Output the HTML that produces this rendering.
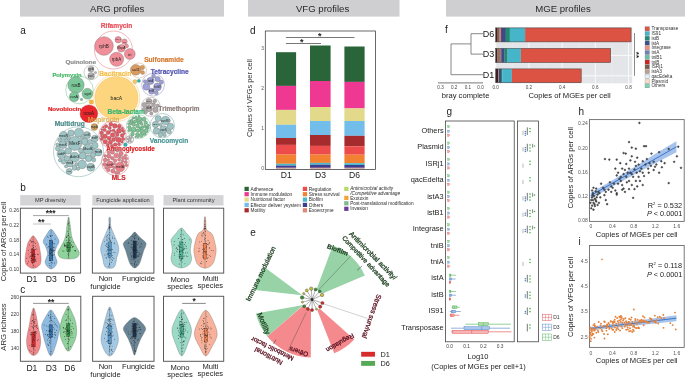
<!DOCTYPE html>
<html><head><meta charset="utf-8"><style>
html,body{margin:0;padding:0;background:#fff;}
body{width:685px;height:380px;overflow:hidden;}
svg{display:block;font-family:"Liberation Sans", sans-serif;will-change:transform;}
</style></head><body>
<svg width="685" height="380" viewBox="0 0 685 380">
<rect x="0" y="0" width="685" height="380" fill="#fff"/>
<rect x="20.00" y="0.00" width="204.00" height="16.60" fill="#cfcfd1" stroke="none" stroke-width="0"/>
<text x="117.20" y="12.00" font-size="9.6" fill="#2a2a2a" text-anchor="middle" font-weight="normal">ARG profiles</text>
<rect x="248.00" y="0.00" width="151.50" height="16.60" fill="#cfcfd1" stroke="none" stroke-width="0"/>
<text x="322.60" y="12.00" font-size="9.6" fill="#2a2a2a" text-anchor="middle" font-weight="normal">VFG profiles</text>
<rect x="446.00" y="0.00" width="239.00" height="16.60" fill="#cfcfd1" stroke="none" stroke-width="0"/>
<text x="563.00" y="12.00" font-size="9.6" fill="#2a2a2a" text-anchor="middle" font-weight="normal">MGE profiles</text>
<text x="20.30" y="34.00" font-size="10" fill="#222" text-anchor="start" font-weight="normal">a</text>
<text x="20.30" y="191.00" font-size="10" fill="#222" text-anchor="start" font-weight="normal">b</text>
<text x="20.30" y="293.00" font-size="10" fill="#222" text-anchor="start" font-weight="normal">c</text>
<text x="250.00" y="34.00" font-size="10" fill="#222" text-anchor="start" font-weight="normal">d</text>
<text x="250.30" y="236.00" font-size="10" fill="#222" text-anchor="start" font-weight="normal">e</text>
<text x="445.00" y="33.00" font-size="10" fill="#222" text-anchor="start" font-weight="normal">f</text>
<text x="446.50" y="114.80" font-size="10" fill="#222" text-anchor="start" font-weight="normal">g</text>
<text x="578.50" y="115.30" font-size="10" fill="#222" text-anchor="start" font-weight="normal">h</text>
<text x="578.60" y="245.20" font-size="10" fill="#222" text-anchor="start" font-weight="normal">i</text>
<circle cx="113.50" cy="50.00" r="19.00" fill="none" stroke="#e8707a" stroke-width="0.5"/>
<circle cx="104.00" cy="46.00" r="9.30" fill="#f08f99" stroke="#9a7a7e" stroke-width="0.5"/>
<circle cx="116.60" cy="59.30" r="7.00" fill="#f08f99" stroke="#9a7a7e" stroke-width="0.5"/>
<circle cx="129.80" cy="54.00" r="5.40" fill="#f08f99" stroke="#9a7a7e" stroke-width="0.5"/>
<circle cx="118.20" cy="39.70" r="3.20" fill="#f08f99" stroke="#9a7a7e" stroke-width="0.5"/>
<circle cx="124.50" cy="41.60" r="2.70" fill="#f08f99" stroke="#9a7a7e" stroke-width="0.5"/>
<circle cx="121.30" cy="48.30" r="3.80" fill="#f08f99" stroke="#9a7a7e" stroke-width="0.5"/>
<circle cx="126.60" cy="46.00" r="1.90" fill="#f08f99" stroke="#9a7a7e" stroke-width="0.5"/>
<text x="116.60" y="28.30" font-size="6.6" fill="#e8505b" text-anchor="middle" font-weight="bold" stroke="#e8505b" stroke-width="0.2">Rifamycin</text>
<circle cx="91.30" cy="72.40" r="7.30" fill="none" stroke="#999" stroke-width="0.45"/>
<circle cx="91.00" cy="69.20" r="3.00" fill="#b5b5b5" stroke="#777" stroke-width="0.3"/>
<circle cx="91.20" cy="76.00" r="3.40" fill="#b5b5b5" stroke="#777" stroke-width="0.3"/>
<circle cx="95.50" cy="72.60" r="1.20" fill="#b5b5b5" stroke="#777" stroke-width="0.3"/>
<text x="80.80" y="64.00" font-size="6.2" fill="#8c8c8c" text-anchor="middle" font-weight="bold" stroke="#8c8c8c" stroke-width="0.2">Quinolone</text>
<circle cx="79.50" cy="90.00" r="13.80" fill="none" stroke="#6cc08a" stroke-width="0.5"/>
<circle cx="76.00" cy="85.00" r="8.20" fill="#7cc79a" stroke="#6f6f6f" stroke-width="0.35"/>
<circle cx="87.40" cy="93.70" r="5.40" fill="#7cc79a" stroke="#6f6f6f" stroke-width="0.35"/>
<circle cx="74.20" cy="96.80" r="4.90" fill="#7cc79a" stroke="#6f6f6f" stroke-width="0.35"/>
<circle cx="81.50" cy="99.50" r="1.20" fill="#7cc79a" stroke="#6f6f6f" stroke-width="0.35"/>
<text x="67.00" y="76.80" font-size="5.85" fill="#44b866" text-anchor="middle" font-weight="bold" stroke="#44b866" stroke-width="0.2">Polymyxin</text>
<circle cx="116.40" cy="98.00" r="23.40" fill="none" stroke="#f2c76a" stroke-width="0.5"/>
<circle cx="116.40" cy="98.00" r="21.60" fill="#fdd57e" stroke="#e8b450" stroke-width="0.4"/>
<circle cx="91.30" cy="102.00" r="2.20" fill="#f5b942" stroke="#c89030" stroke-width="0.3"/>
<circle cx="135.00" cy="81.60" r="2.00" fill="#f5c860" stroke="#a88040" stroke-width="0.3"/>
<text x="115.30" y="76.40" font-size="6.6" fill="#f3c04a" text-anchor="middle" font-weight="bold" stroke="#f3c04a" stroke-width="0.2">Bacitracin</text>
<circle cx="139.00" cy="70.50" r="7.60" fill="none" stroke="#d59a66" stroke-width="0.45"/>
<circle cx="135.80" cy="69.80" r="5.40" fill="#d99a60" stroke="#7a6a5a" stroke-width="0.35"/>
<circle cx="142.40" cy="67.50" r="2.20" fill="#d99a60" stroke="#7a6a5a" stroke-width="0.3"/>
<circle cx="142.60" cy="72.60" r="2.00" fill="#d99a60" stroke="#7a6a5a" stroke-width="0.3"/>
<text x="144.20" y="62.00" font-size="6.6" fill="#d67a30" text-anchor="start" font-weight="bold" stroke="#d67a30" stroke-width="0.2">Sulfonamide</text>
<circle cx="138.90" cy="80.80" r="1.60" fill="#2fb0b5" stroke="#2a8080" stroke-width="0.3"/>
<circle cx="153.10" cy="84.70" r="11.40" fill="none" stroke="#8a8ad0" stroke-width="0.5"/>
<circle cx="150.50" cy="80.80" r="3.60" fill="#9ea1da" stroke="#6f6f6f" stroke-width="0.4"/>
<circle cx="157.50" cy="86.80" r="3.90" fill="#9ea1da" stroke="#6f6f6f" stroke-width="0.4"/>
<circle cx="151.50" cy="91.20" r="3.00" fill="#9ea1da" stroke="#6f6f6f" stroke-width="0.4"/>
<circle cx="146.42" cy="86.75" r="3.44" fill="#9ea1da" stroke="#6f6f6f" stroke-width="0.4"/>
<circle cx="157.58" cy="79.05" r="2.67" fill="#9ea1da" stroke="#6f6f6f" stroke-width="0.4"/>
<circle cx="161.39" cy="82.14" r="2.02" fill="#9ea1da" stroke="#6f6f6f" stroke-width="0.4"/>
<circle cx="156.31" cy="92.81" r="1.97" fill="#9ea1da" stroke="#6f6f6f" stroke-width="0.4"/>
<circle cx="153.55" cy="75.95" r="1.94" fill="#9ea1da" stroke="#6f6f6f" stroke-width="0.4"/>
<circle cx="145.08" cy="81.44" r="1.76" fill="#9ea1da" stroke="#6f6f6f" stroke-width="0.4"/>
<text x="150.70" y="73.60" font-size="6.6" fill="#5254b2" text-anchor="start" font-weight="bold" stroke="#5254b2" stroke-width="0.2">Tetracycline</text>
<circle cx="150.70" cy="106.80" r="9.60" fill="none" stroke="#a09a9a" stroke-width="0.5"/>
<circle cx="149.00" cy="101.50" r="3.00" fill="#b2a9a8" stroke="#6f6f6f" stroke-width="0.4"/>
<circle cx="149.00" cy="108.50" r="3.20" fill="#b2a9a8" stroke="#6f6f6f" stroke-width="0.4"/>
<circle cx="153.50" cy="104.80" r="2.00" fill="#b2a9a8" stroke="#6f6f6f" stroke-width="0.4"/>
<circle cx="155.41" cy="109.84" r="2.77" fill="#b2a9a8" stroke="#6f6f6f" stroke-width="0.4"/>
<circle cx="144.50" cy="104.90" r="2.40" fill="#b2a9a8" stroke="#6f6f6f" stroke-width="0.4"/>
<circle cx="151.32" cy="113.44" r="1.62" fill="#b2a9a8" stroke="#6f6f6f" stroke-width="0.4"/>
<circle cx="154.74" cy="101.02" r="1.85" fill="#b2a9a8" stroke="#6f6f6f" stroke-width="0.4"/>
<circle cx="157.69" cy="105.68" r="1.69" fill="#b2a9a8" stroke="#6f6f6f" stroke-width="0.4"/>
<circle cx="143.92" cy="109.19" r="1.71" fill="#b2a9a8" stroke="#6f6f6f" stroke-width="0.4"/>
<circle cx="145.83" cy="112.24" r="1.60" fill="#b2a9a8" stroke="#6f6f6f" stroke-width="0.4"/>
<text x="158.60" y="111.30" font-size="6.4" fill="#8d7e7b" text-anchor="start" font-weight="bold" stroke="#8d7e7b" stroke-width="0.2">Trimethoprim</text>
<circle cx="88.90" cy="113.70" r="8.80" fill="#e8262b" stroke="#b02020" stroke-width="0.4"/>
<text x="64.60" y="110.90" font-size="6.15" fill="#e01f22" text-anchor="middle" font-weight="bold" stroke="#e01f22" stroke-width="0.2">Novobiocin</text>
<circle cx="138.30" cy="126.60" r="12.00" fill="none" stroke="#6cc08a" stroke-width="0.5"/>
<circle cx="133.50" cy="129.50" r="2.60" fill="#7cc696" stroke="#4f7a5c" stroke-width="0.45"/>
<circle cx="141.56" cy="123.84" r="1.52" fill="#7cc696" stroke="#4f7a5c" stroke-width="0.45"/>
<circle cx="141.80" cy="131.00" r="2.13" fill="#7cc696" stroke="#4f7a5c" stroke-width="0.45"/>
<circle cx="135.13" cy="121.53" r="1.55" fill="#7cc696" stroke="#4f7a5c" stroke-width="0.45"/>
<circle cx="145.94" cy="127.03" r="1.31" fill="#7cc696" stroke="#4f7a5c" stroke-width="0.45"/>
<circle cx="137.27" cy="134.36" r="1.71" fill="#7cc696" stroke="#4f7a5c" stroke-width="0.45"/>
<circle cx="139.92" cy="118.84" r="1.89" fill="#7cc696" stroke="#4f7a5c" stroke-width="0.45"/>
<circle cx="130.70" cy="123.70" r="1.35" fill="#7cc696" stroke="#4f7a5c" stroke-width="0.45"/>
<circle cx="145.87" cy="122.69" r="1.65" fill="#7cc696" stroke="#4f7a5c" stroke-width="0.45"/>
<circle cx="137.55" cy="125.88" r="1.87" fill="#7cc696" stroke="#4f7a5c" stroke-width="0.45"/>
<circle cx="146.19" cy="130.64" r="2.09" fill="#7cc696" stroke="#4f7a5c" stroke-width="0.45"/>
<circle cx="129.31" cy="127.13" r="1.69" fill="#7cc696" stroke="#4f7a5c" stroke-width="0.45"/>
<circle cx="141.17" cy="135.32" r="2.12" fill="#7cc696" stroke="#4f7a5c" stroke-width="0.45"/>
<circle cx="135.97" cy="117.84" r="1.51" fill="#7cc696" stroke="#4f7a5c" stroke-width="0.45"/>
<circle cx="143.94" cy="119.30" r="2.05" fill="#7cc696" stroke="#4f7a5c" stroke-width="0.45"/>
<circle cx="131.72" cy="120.23" r="1.30" fill="#7cc696" stroke="#4f7a5c" stroke-width="0.45"/>
<circle cx="132.49" cy="134.05" r="1.85" fill="#7cc696" stroke="#4f7a5c" stroke-width="0.45"/>
<circle cx="137.83" cy="130.61" r="1.76" fill="#7cc696" stroke="#4f7a5c" stroke-width="0.45"/>
<circle cx="142.69" cy="127.13" r="1.41" fill="#7cc696" stroke="#4f7a5c" stroke-width="0.45"/>
<circle cx="133.76" cy="124.59" r="1.70" fill="#7cc696" stroke="#4f7a5c" stroke-width="0.45"/>
<circle cx="138.54" cy="122.45" r="1.60" fill="#7cc696" stroke="#4f7a5c" stroke-width="0.45"/>
<circle cx="129.40" cy="130.45" r="1.36" fill="#7cc696" stroke="#4f7a5c" stroke-width="0.45"/>
<circle cx="144.80" cy="134.04" r="1.42" fill="#7cc696" stroke="#4f7a5c" stroke-width="0.45"/>
<circle cx="148.17" cy="125.53" r="1.28" fill="#7cc696" stroke="#4f7a5c" stroke-width="0.45"/>
<circle cx="140.09" cy="127.95" r="1.22" fill="#7cc696" stroke="#4f7a5c" stroke-width="0.45"/>
<circle cx="133.32" cy="117.92" r="1.05" fill="#7cc696" stroke="#4f7a5c" stroke-width="0.45"/>
<circle cx="148.23" cy="127.91" r="1.00" fill="#7cc696" stroke="#4f7a5c" stroke-width="0.45"/>
<circle cx="129.62" cy="121.38" r="1.00" fill="#7cc696" stroke="#4f7a5c" stroke-width="0.45"/>
<circle cx="137.28" cy="119.96" r="0.87" fill="#7cc696" stroke="#4f7a5c" stroke-width="0.45"/>
<circle cx="138.83" cy="116.21" r="0.86" fill="#7cc696" stroke="#4f7a5c" stroke-width="0.45"/>
<circle cx="138.00" cy="137.05" r="0.84" fill="#7cc696" stroke="#4f7a5c" stroke-width="0.45"/>
<circle cx="135.73" cy="136.74" r="0.84" fill="#7cc696" stroke="#4f7a5c" stroke-width="0.45"/>
<circle cx="128.42" cy="123.77" r="0.83" fill="#7cc696" stroke="#4f7a5c" stroke-width="0.45"/>
<circle cx="144.63" cy="125.22" r="0.82" fill="#7cc696" stroke="#4f7a5c" stroke-width="0.45"/>
<circle cx="132.73" cy="122.21" r="0.80" fill="#7cc696" stroke="#4f7a5c" stroke-width="0.45"/>
<circle cx="141.11" cy="121.47" r="0.80" fill="#7cc696" stroke="#4f7a5c" stroke-width="0.45"/>
<text x="126.20" y="114.20" font-size="6.6" fill="#36b572" text-anchor="middle" font-weight="bold" stroke="#36b572" stroke-width="0.2">Beta-lactam</text>
<circle cx="162.30" cy="125.70" r="12.20" fill="none" stroke="#6aa5a5" stroke-width="0.5"/>
<circle cx="165.50" cy="120.50" r="4.30" fill="#9ec5c5" stroke="#6f6f6f" stroke-width="0.4"/>
<circle cx="163.50" cy="129.50" r="3.80" fill="#9ec5c5" stroke="#6f6f6f" stroke-width="0.4"/>
<circle cx="155.50" cy="124.50" r="3.20" fill="#9ec5c5" stroke="#6f6f6f" stroke-width="0.4"/>
<circle cx="170.32" cy="126.47" r="3.28" fill="#9ec5c5" stroke="#6f6f6f" stroke-width="0.4"/>
<circle cx="156.42" cy="130.97" r="3.24" fill="#9ec5c5" stroke="#6f6f6f" stroke-width="0.4"/>
<circle cx="158.18" cy="118.60" r="3.02" fill="#9ec5c5" stroke="#6f6f6f" stroke-width="0.4"/>
<circle cx="160.47" cy="134.80" r="2.21" fill="#9ec5c5" stroke="#6f6f6f" stroke-width="0.4"/>
<circle cx="169.25" cy="131.96" r="2.14" fill="#9ec5c5" stroke="#6f6f6f" stroke-width="0.4"/>
<circle cx="164.58" cy="135.01" r="1.71" fill="#9ec5c5" stroke="#6f6f6f" stroke-width="0.4"/>
<circle cx="160.50" cy="124.61" r="1.70" fill="#9ec5c5" stroke="#6f6f6f" stroke-width="0.4"/>
<text x="169.00" y="143.40" font-size="6.6" fill="#4b9696" text-anchor="middle" font-weight="bold" stroke="#4b9696" stroke-width="0.2">Vancomycin</text>
<circle cx="78.50" cy="151.70" r="25.00" fill="none" stroke="#7aa8a8" stroke-width="0.5"/>
<circle cx="74.80" cy="143.40" r="7.00" fill="#9ec5c5" stroke="#6f6f6f" stroke-width="0.4"/>
<circle cx="63.60" cy="135.60" r="4.20" fill="#9ec5c5" stroke="#6f6f6f" stroke-width="0.4"/>
<circle cx="63.00" cy="144.60" r="4.00" fill="#9ec5c5" stroke="#6f6f6f" stroke-width="0.4"/>
<circle cx="61.60" cy="154.00" r="4.50" fill="#9ec5c5" stroke="#6f6f6f" stroke-width="0.4"/>
<circle cx="74.60" cy="157.20" r="5.00" fill="#9ec5c5" stroke="#6f6f6f" stroke-width="0.4"/>
<circle cx="87.90" cy="149.20" r="5.00" fill="#9ec5c5" stroke="#6f6f6f" stroke-width="0.4"/>
<circle cx="98.40" cy="152.40" r="3.60" fill="#9ec5c5" stroke="#6f6f6f" stroke-width="0.4"/>
<circle cx="87.00" cy="135.20" r="3.60" fill="#9ec5c5" stroke="#6f6f6f" stroke-width="0.4"/>
<circle cx="94.80" cy="138.60" r="3.40" fill="#9ec5c5" stroke="#6f6f6f" stroke-width="0.4"/>
<circle cx="90.80" cy="167.20" r="4.00" fill="#9ec5c5" stroke="#6f6f6f" stroke-width="0.4"/>
<circle cx="69.20" cy="171.40" r="3.00" fill="#9ec5c5" stroke="#6f6f6f" stroke-width="0.4"/>
<circle cx="69.80" cy="163.60" r="3.40" fill="#9ec5c5" stroke="#6f6f6f" stroke-width="0.4"/>
<circle cx="88.60" cy="158.40" r="3.30" fill="#9ec5c5" stroke="#6f6f6f" stroke-width="0.4"/>
<circle cx="82.11" cy="164.40" r="4.33" fill="#9ec5c5" stroke="#6f6f6f" stroke-width="0.4"/>
<circle cx="78.92" cy="132.65" r="4.51" fill="#9ec5c5" stroke="#6f6f6f" stroke-width="0.4"/>
<circle cx="71.03" cy="133.08" r="3.18" fill="#9ec5c5" stroke="#6f6f6f" stroke-width="0.4"/>
<circle cx="82.67" cy="155.71" r="3.55" fill="#9ec5c5" stroke="#6f6f6f" stroke-width="0.4"/>
<circle cx="63.50" cy="161.77" r="2.43" fill="#9ec5c5" stroke="#6f6f6f" stroke-width="0.4"/>
<circle cx="84.63" cy="141.39" r="3.37" fill="#9ec5c5" stroke="#6f6f6f" stroke-width="0.4"/>
<circle cx="94.88" cy="145.42" r="3.22" fill="#9ec5c5" stroke="#6f6f6f" stroke-width="0.4"/>
<circle cx="68.32" cy="150.95" r="3.23" fill="#9ec5c5" stroke="#6f6f6f" stroke-width="0.4"/>
<circle cx="74.51" cy="167.73" r="2.51" fill="#9ec5c5" stroke="#6f6f6f" stroke-width="0.4"/>
<circle cx="66.97" cy="158.41" r="2.75" fill="#9ec5c5" stroke="#6f6f6f" stroke-width="0.4"/>
<circle cx="92.99" cy="154.97" r="2.62" fill="#9ec5c5" stroke="#6f6f6f" stroke-width="0.4"/>
<circle cx="57.82" cy="148.59" r="2.44" fill="#9ec5c5" stroke="#6f6f6f" stroke-width="0.4"/>
<circle cx="90.02" cy="141.78" r="2.38" fill="#9ec5c5" stroke="#6f6f6f" stroke-width="0.4"/>
<circle cx="80.68" cy="150.53" r="2.35" fill="#9ec5c5" stroke="#6f6f6f" stroke-width="0.4"/>
<circle cx="93.68" cy="159.96" r="2.11" fill="#9ec5c5" stroke="#6f6f6f" stroke-width="0.4"/>
<circle cx="59.65" cy="139.88" r="1.97" fill="#9ec5c5" stroke="#6f6f6f" stroke-width="0.4"/>
<circle cx="66.56" cy="140.43" r="1.81" fill="#9ec5c5" stroke="#6f6f6f" stroke-width="0.4"/>
<circle cx="60.08" cy="160.22" r="1.68" fill="#9ec5c5" stroke="#6f6f6f" stroke-width="0.4"/>
<circle cx="76.46" cy="164.27" r="1.68" fill="#9ec5c5" stroke="#6f6f6f" stroke-width="0.4"/>
<circle cx="68.80" cy="137.64" r="1.67" fill="#9ec5c5" stroke="#6f6f6f" stroke-width="0.4"/>
<circle cx="57.44" cy="144.66" r="1.65" fill="#9ec5c5" stroke="#6f6f6f" stroke-width="0.4"/>
<circle cx="81.98" cy="137.58" r="1.61" fill="#9ec5c5" stroke="#6f6f6f" stroke-width="0.4"/>
<circle cx="78.09" cy="168.84" r="1.59" fill="#9ec5c5" stroke="#6f6f6f" stroke-width="0.4"/>
<circle cx="66.08" cy="166.37" r="1.59" fill="#9ec5c5" stroke="#6f6f6f" stroke-width="0.4"/>
<circle cx="93.98" cy="150.25" r="1.52" fill="#9ec5c5" stroke="#6f6f6f" stroke-width="0.4"/>
<text x="69.80" y="125.60" font-size="6.6" fill="#4b8a8a" text-anchor="middle" font-weight="bold" stroke="#4b8a8a" stroke-width="0.2">Multidrug</text>
<circle cx="94.40" cy="127.00" r="3.40" fill="#c8a060" stroke="#8a7050" stroke-width="0.3"/>
<text x="87.70" y="122.40" font-size="6.6" fill="#d8a848" text-anchor="start" font-weight="bold" opacity="0.85" stroke="#d8a848" stroke-width="0.2">Mupirocin</text>
<circle cx="112.50" cy="134.90" r="13.60" fill="none" stroke="#e05a64" stroke-width="0.5"/>
<circle cx="112.60" cy="135.02" r="2.30" fill="#e65a64" stroke="#8a4a4e" stroke-width="0.4"/>
<circle cx="109.64" cy="127.88" r="1.70" fill="#e65a64" stroke="#8a4a4e" stroke-width="0.4"/>
<circle cx="105.01" cy="136.23" r="2.34" fill="#e65a64" stroke="#8a4a4e" stroke-width="0.4"/>
<circle cx="119.00" cy="130.80" r="2.50" fill="#e65a64" stroke="#8a4a4e" stroke-width="0.4"/>
<circle cx="110.42" cy="142.31" r="2.11" fill="#e65a64" stroke="#8a4a4e" stroke-width="0.4"/>
<circle cx="118.55" cy="139.76" r="2.62" fill="#e65a64" stroke="#8a4a4e" stroke-width="0.4"/>
<circle cx="114.87" cy="125.98" r="2.36" fill="#e65a64" stroke="#8a4a4e" stroke-width="0.4"/>
<circle cx="104.64" cy="129.99" r="1.62" fill="#e65a64" stroke="#8a4a4e" stroke-width="0.4"/>
<circle cx="105.28" cy="141.71" r="2.31" fill="#e65a64" stroke="#8a4a4e" stroke-width="0.4"/>
<circle cx="122.13" cy="135.39" r="1.87" fill="#e65a64" stroke="#8a4a4e" stroke-width="0.4"/>
<circle cx="115.29" cy="144.50" r="1.85" fill="#e65a64" stroke="#8a4a4e" stroke-width="0.4"/>
<circle cx="108.22" cy="132.48" r="2.10" fill="#e65a64" stroke="#8a4a4e" stroke-width="0.4"/>
<circle cx="113.55" cy="130.42" r="1.45" fill="#e65a64" stroke="#8a4a4e" stroke-width="0.4"/>
<circle cx="106.05" cy="126.20" r="1.69" fill="#e65a64" stroke="#8a4a4e" stroke-width="0.4"/>
<circle cx="109.19" cy="138.24" r="2.04" fill="#e65a64" stroke="#8a4a4e" stroke-width="0.4"/>
<circle cx="110.83" cy="124.21" r="1.95" fill="#e65a64" stroke="#8a4a4e" stroke-width="0.4"/>
<circle cx="113.62" cy="139.66" r="1.94" fill="#e65a64" stroke="#8a4a4e" stroke-width="0.4"/>
<circle cx="119.24" cy="126.29" r="1.92" fill="#e65a64" stroke="#8a4a4e" stroke-width="0.4"/>
<circle cx="101.68" cy="132.96" r="1.87" fill="#e65a64" stroke="#8a4a4e" stroke-width="0.4"/>
<circle cx="117.30" cy="134.82" r="1.76" fill="#e65a64" stroke="#8a4a4e" stroke-width="0.4"/>
<circle cx="112.04" cy="146.04" r="1.64" fill="#e65a64" stroke="#8a4a4e" stroke-width="0.4"/>
<circle cx="107.78" cy="145.09" r="1.47" fill="#e65a64" stroke="#8a4a4e" stroke-width="0.4"/>
<circle cx="123.04" cy="138.93" r="1.62" fill="#e65a64" stroke="#8a4a4e" stroke-width="0.4"/>
<circle cx="101.89" cy="138.87" r="1.57" fill="#e65a64" stroke="#8a4a4e" stroke-width="0.4"/>
<circle cx="119.04" cy="144.24" r="1.45" fill="#e65a64" stroke="#8a4a4e" stroke-width="0.4"/>
<circle cx="123.22" cy="130.92" r="1.46" fill="#e65a64" stroke="#8a4a4e" stroke-width="0.4"/>
<circle cx="121.85" cy="141.90" r="1.22" fill="#e65a64" stroke="#8a4a4e" stroke-width="0.4"/>
<circle cx="115.42" cy="132.44" r="1.17" fill="#e65a64" stroke="#8a4a4e" stroke-width="0.4"/>
<circle cx="122.28" cy="128.41" r="1.12" fill="#e65a64" stroke="#8a4a4e" stroke-width="0.4"/>
<circle cx="101.51" cy="136.03" r="1.06" fill="#e65a64" stroke="#8a4a4e" stroke-width="0.4"/>
<circle cx="115.66" cy="137.39" r="1.01" fill="#e65a64" stroke="#8a4a4e" stroke-width="0.4"/>
<circle cx="101.96" cy="129.59" r="0.99" fill="#e65a64" stroke="#8a4a4e" stroke-width="0.4"/>
<circle cx="124.29" cy="133.42" r="0.96" fill="#e65a64" stroke="#8a4a4e" stroke-width="0.4"/>
<circle cx="110.81" cy="130.69" r="0.94" fill="#e65a64" stroke="#8a4a4e" stroke-width="0.4"/>
<circle cx="103.32" cy="127.19" r="0.91" fill="#e65a64" stroke="#8a4a4e" stroke-width="0.4"/>
<circle cx="129.70" cy="139.50" r="3.80" fill="none" stroke="#999" stroke-width="0.4"/>
<circle cx="129.70" cy="139.50" r="3.80" fill="none" stroke="#999" stroke-width="0.5"/>
<circle cx="129.72" cy="139.50" r="1.46" fill="#b5b5b5" stroke="#6f6f6f" stroke-width="0.4"/>
<circle cx="127.41" cy="138.89" r="0.73" fill="#b5b5b5" stroke="#6f6f6f" stroke-width="0.4"/>
<circle cx="128.42" cy="141.49" r="0.72" fill="#b5b5b5" stroke="#6f6f6f" stroke-width="0.4"/>
<circle cx="131.33" cy="137.75" r="0.71" fill="#b5b5b5" stroke="#6f6f6f" stroke-width="0.4"/>
<circle cx="129.37" cy="137.15" r="0.71" fill="#b5b5b5" stroke="#6f6f6f" stroke-width="0.4"/>
<circle cx="130.89" cy="141.56" r="0.71" fill="#b5b5b5" stroke="#6f6f6f" stroke-width="0.4"/>
<circle cx="125.40" cy="144.70" r="1.90" fill="#2fb0b5" stroke="#2a8080" stroke-width="0.3"/>
<text x="130.50" y="150.60" font-size="6.3" fill="#e01f22" text-anchor="middle" font-weight="bold" stroke="#e01f22" stroke-width="0.2">Aminoglycoside</text>
<circle cx="115.30" cy="161.60" r="13.80" fill="none" stroke="#d86a72" stroke-width="0.5"/>
<circle cx="120.00" cy="167.00" r="4.80" fill="#e8808a" stroke="#8a5a5e" stroke-width="0.4"/>
<circle cx="110.00" cy="164.50" r="3.50" fill="#e8808a" stroke="#8a5a5e" stroke-width="0.4"/>
<circle cx="116.28" cy="155.60" r="2.44" fill="#e8808a" stroke="#8a5a5e" stroke-width="0.4"/>
<circle cx="108.89" cy="156.17" r="2.15" fill="#e8808a" stroke="#8a5a5e" stroke-width="0.4"/>
<circle cx="123.09" cy="157.97" r="1.76" fill="#e8808a" stroke="#8a5a5e" stroke-width="0.4"/>
<circle cx="112.83" cy="171.06" r="2.14" fill="#e8808a" stroke="#8a5a5e" stroke-width="0.4"/>
<circle cx="105.25" cy="160.03" r="2.00" fill="#e8808a" stroke="#8a5a5e" stroke-width="0.4"/>
<circle cx="115.09" cy="160.80" r="1.80" fill="#e8808a" stroke="#8a5a5e" stroke-width="0.4"/>
<circle cx="112.34" cy="152.15" r="2.11" fill="#e8808a" stroke="#8a5a5e" stroke-width="0.4"/>
<circle cx="121.05" cy="153.53" r="2.17" fill="#e8808a" stroke="#8a5a5e" stroke-width="0.4"/>
<circle cx="125.76" cy="162.11" r="1.68" fill="#e8808a" stroke="#8a5a5e" stroke-width="0.4"/>
<circle cx="119.17" cy="159.55" r="1.62" fill="#e8808a" stroke="#8a5a5e" stroke-width="0.4"/>
<circle cx="117.24" cy="150.86" r="1.44" fill="#e8808a" stroke="#8a5a5e" stroke-width="0.4"/>
<circle cx="108.24" cy="169.84" r="1.87" fill="#e8808a" stroke="#8a5a5e" stroke-width="0.4"/>
<circle cx="104.48" cy="164.39" r="1.83" fill="#e8808a" stroke="#8a5a5e" stroke-width="0.4"/>
<circle cx="112.35" cy="158.22" r="1.77" fill="#e8808a" stroke="#8a5a5e" stroke-width="0.4"/>
<circle cx="116.24" cy="172.90" r="1.62" fill="#e8808a" stroke="#8a5a5e" stroke-width="0.4"/>
<circle cx="108.45" cy="152.49" r="1.46" fill="#e8808a" stroke="#8a5a5e" stroke-width="0.4"/>
<circle cx="126.29" cy="158.62" r="1.41" fill="#e8808a" stroke="#8a5a5e" stroke-width="0.4"/>
<circle cx="105.24" cy="155.98" r="1.40" fill="#e8808a" stroke="#8a5a5e" stroke-width="0.4"/>
<circle cx="122.44" cy="161.24" r="1.36" fill="#e8808a" stroke="#8a5a5e" stroke-width="0.4"/>
<circle cx="126.45" cy="165.36" r="1.33" fill="#e8808a" stroke="#8a5a5e" stroke-width="0.4"/>
<circle cx="125.41" cy="155.53" r="1.31" fill="#e8808a" stroke="#8a5a5e" stroke-width="0.4"/>
<circle cx="105.88" cy="167.64" r="1.26" fill="#e8808a" stroke="#8a5a5e" stroke-width="0.4"/>
<circle cx="113.89" cy="167.58" r="1.23" fill="#e8808a" stroke="#8a5a5e" stroke-width="0.4"/>
<circle cx="119.87" cy="156.76" r="1.16" fill="#e8808a" stroke="#8a5a5e" stroke-width="0.4"/>
<circle cx="108.49" cy="159.81" r="1.15" fill="#e8808a" stroke="#8a5a5e" stroke-width="0.4"/>
<circle cx="114.87" cy="149.64" r="1.13" fill="#e8808a" stroke="#8a5a5e" stroke-width="0.4"/>
<circle cx="114.57" cy="163.90" r="1.01" fill="#e8808a" stroke="#8a5a5e" stroke-width="0.4"/>
<circle cx="118.95" cy="173.12" r="1.00" fill="#e8808a" stroke="#8a5a5e" stroke-width="0.4"/>
<circle cx="119.84" cy="150.35" r="0.97" fill="#e8808a" stroke="#8a5a5e" stroke-width="0.4"/>
<text x="118.60" y="180.20" font-size="6.6" fill="#d02a30" text-anchor="middle" font-weight="bold" stroke="#d02a30" stroke-width="0.2">MLS</text>
<text x="104.00" y="46.20" font-size="4.70" fill="#1e1e1e" text-anchor="middle" dominant-baseline="central">rphB</text>
<text x="116.60" y="59.60" font-size="4.48" fill="#1e1e1e" text-anchor="middle" dominant-baseline="central">rpbA</text>
<text x="129.80" y="54.20" font-size="4.26" fill="#1e1e1e" text-anchor="middle" dominant-baseline="central">iri</text>
<text x="121.30" y="48.40" font-size="3.36" fill="#1e1e1e" text-anchor="middle" dominant-baseline="central">RbpA</text>
<text x="118.20" y="39.80" font-size="2.46" fill="#1e1e1e" text-anchor="middle" dominant-baseline="central">arr-1</text>
<text x="124.50" y="41.70" font-size="2.02" fill="#1e1e1e" text-anchor="middle" dominant-baseline="central">arr</text>
<text x="135.80" y="69.90" font-size="4.26" fill="#1e1e1e" text-anchor="middle" dominant-baseline="central">sul1</text>
<text x="116.40" y="98.20" font-size="5.15" fill="#1e1e1e" text-anchor="middle" dominant-baseline="central">bacA</text>
<text x="88.90" y="113.80" font-size="4.70" fill="#1e1e1e" text-anchor="middle" dominant-baseline="central">novA</text>
<text x="76.00" y="85.20" font-size="4.48" fill="#1e1e1e" text-anchor="middle" dominant-baseline="central">rosB</text>
<text x="87.40" y="93.90" font-size="4.03" fill="#1e1e1e" text-anchor="middle" dominant-baseline="central">sgd</text>
<text x="74.20" y="97.00" font-size="3.81" fill="#1e1e1e" text-anchor="middle" dominant-baseline="central">rosA</text>
<text x="91.00" y="69.30" font-size="2.69" fill="#1e1e1e" text-anchor="middle" dominant-baseline="central">gyrA</text>
<text x="91.20" y="76.10" font-size="2.91" fill="#1e1e1e" text-anchor="middle" dominant-baseline="central">parC</text>
<text x="74.80" y="143.50" font-size="4.48" fill="#1e1e1e" text-anchor="middle" dominant-baseline="central">MexF</text>
<text x="63.60" y="135.70" font-size="3.14" fill="#1e1e1e" text-anchor="middle" dominant-baseline="central">mexW</text>
<text x="63.00" y="144.70" font-size="3.02" fill="#1e1e1e" text-anchor="middle" dominant-baseline="central">mexK</text>
<text x="61.60" y="154.10" font-size="3.25" fill="#1e1e1e" text-anchor="middle" dominant-baseline="central">adeF</text>
<text x="74.60" y="157.30" font-size="3.58" fill="#1e1e1e" text-anchor="middle" dominant-baseline="central">AdeG</text>
<text x="87.90" y="149.30" font-size="3.58" fill="#1e1e1e" text-anchor="middle" dominant-baseline="central">MuxB</text>
<text x="98.40" y="152.50" font-size="2.69" fill="#1e1e1e" text-anchor="middle" dominant-baseline="central">mexB</text>
<text x="87.00" y="135.30" font-size="2.58" fill="#1e1e1e" text-anchor="middle" dominant-baseline="central">acrB</text>
<text x="94.80" y="138.70" font-size="2.58" fill="#1e1e1e" text-anchor="middle" dominant-baseline="central">mdtF</text>
<text x="90.80" y="167.30" font-size="3.36" fill="#1e1e1e" text-anchor="middle" dominant-baseline="central">oqxB</text>
<text x="69.20" y="171.50" font-size="2.46" fill="#1e1e1e" text-anchor="middle" dominant-baseline="central">tolC</text>
<text x="69.80" y="163.70" font-size="2.69" fill="#1e1e1e" text-anchor="middle" dominant-baseline="central">mexA</text>
<text x="94.40" y="127.10" font-size="2.69" fill="#1e1e1e" text-anchor="middle" dominant-baseline="central">mupA</text>
<text x="120.00" y="167.10" font-size="3.58" fill="#1e1e1e" text-anchor="middle" dominant-baseline="central">mefA</text>
<text x="110.00" y="164.60" font-size="2.91" fill="#1e1e1e" text-anchor="middle" dominant-baseline="central">ermF</text>
<text x="150.50" y="80.90" font-size="2.91" fill="#1e1e1e" text-anchor="middle" dominant-baseline="central">tetA</text>
<text x="157.50" y="86.90" font-size="3.14" fill="#1e1e1e" text-anchor="middle" dominant-baseline="central">tetW</text>
<text x="151.50" y="91.30" font-size="2.69" fill="#1e1e1e" text-anchor="middle" dominant-baseline="central">tetM</text>
<text x="149.00" y="101.60" font-size="2.46" fill="#1e1e1e" text-anchor="middle" dominant-baseline="central">dfrA</text>
<text x="149.00" y="108.60" font-size="2.69" fill="#1e1e1e" text-anchor="middle" dominant-baseline="central">dfrE</text>
<text x="165.50" y="120.60" font-size="3.14" fill="#1e1e1e" text-anchor="middle" dominant-baseline="central">vanRO</text>
<text x="163.50" y="129.60" font-size="2.91" fill="#1e1e1e" text-anchor="middle" dominant-baseline="central">vanS</text>
<text x="155.50" y="124.60" font-size="2.46" fill="#1e1e1e" text-anchor="middle" dominant-baseline="central">vanH</text>
<rect x="20.20" y="195.10" width="60.40" height="10.40" fill="#d4d4d6" stroke="none" stroke-width="0"/>
<text x="50.40" y="202.30" font-size="5.7" fill="#333" text-anchor="middle" font-weight="normal">MP diversity</text>
<rect x="92.30" y="195.10" width="61.50" height="10.40" fill="#d4d4d6" stroke="none" stroke-width="0"/>
<text x="123.05" y="202.30" font-size="5.7" fill="#333" text-anchor="middle" font-weight="normal">Fungicide application</text>
<rect x="163.50" y="195.10" width="60.00" height="10.40" fill="#d4d4d6" stroke="none" stroke-width="0"/>
<text x="193.50" y="202.30" font-size="5.7" fill="#333" text-anchor="middle" font-weight="normal">Plant community</text>
<rect x="20.40" y="208.20" width="60.20" height="64.90" fill="none" stroke="#5a5a5a" stroke-width="1.0"/>
<rect x="92.40" y="208.20" width="61.50" height="64.90" fill="none" stroke="#5a5a5a" stroke-width="1.0"/>
<rect x="163.50" y="208.20" width="60.20" height="64.90" fill="none" stroke="#5a5a5a" stroke-width="1.0"/>
<rect x="20.40" y="296.30" width="60.40" height="65.00" fill="none" stroke="#5a5a5a" stroke-width="1.0"/>
<rect x="92.60" y="296.30" width="61.40" height="65.00" fill="none" stroke="#5a5a5a" stroke-width="1.0"/>
<rect x="163.50" y="296.30" width="60.20" height="65.00" fill="none" stroke="#5a5a5a" stroke-width="1.0"/>
<path d="M33.10,235.80 C33.97,235.80 34.80,237.20 35.70,238.50 C36.60,239.80 37.73,241.35 38.50,243.60 C39.27,245.85 39.87,249.33 40.30,252.00 C40.73,254.67 41.13,257.52 41.10,259.60 C41.07,261.68 40.93,263.15 40.10,264.50 C39.27,265.85 37.27,267.08 36.10,267.70 C34.93,268.32 34.10,268.20 33.10,268.20 C32.10,268.20 31.27,268.32 30.10,267.70 C28.93,267.08 26.93,265.85 26.10,264.50 C25.27,263.15 25.13,261.68 25.10,259.60 C25.07,257.52 25.47,254.67 25.90,252.00 C26.33,249.33 26.93,245.85 27.70,243.60 C28.47,241.35 29.60,239.80 30.50,238.50 C31.40,237.20 32.23,235.80 33.10,235.80 Z" fill="#f4878a" stroke="#5a5a5a" stroke-width="0.3"/>
<line x1="33.10" y1="236.30" x2="33.10" y2="267.90" stroke="#3a3a3a" stroke-width="0.3"/>
<rect x="31.40" y="249.10" width="3.40" height="13.60" fill="#d8282c" stroke="#2a2a2a" stroke-width="0.3"/>
<line x1="31.40" y1="256.40" x2="34.80" y2="256.40" stroke="#111" stroke-width="0.4"/>
<circle cx="35.38" cy="246.33" r="0.45" fill="#262626" stroke="none" stroke-width="0"/>
<circle cx="31.18" cy="258.57" r="0.45" fill="#262626" stroke="none" stroke-width="0"/>
<circle cx="32.77" cy="254.17" r="0.45" fill="#262626" stroke="none" stroke-width="0"/>
<circle cx="35.39" cy="256.61" r="0.45" fill="#262626" stroke="none" stroke-width="0"/>
<circle cx="29.42" cy="244.93" r="0.45" fill="#262626" stroke="none" stroke-width="0"/>
<circle cx="32.63" cy="260.09" r="0.45" fill="#262626" stroke="none" stroke-width="0"/>
<circle cx="26.83" cy="258.54" r="0.45" fill="#262626" stroke="none" stroke-width="0"/>
<circle cx="34.68" cy="253.33" r="0.45" fill="#262626" stroke="none" stroke-width="0"/>
<circle cx="36.82" cy="248.93" r="0.45" fill="#262626" stroke="none" stroke-width="0"/>
<circle cx="28.27" cy="261.80" r="0.45" fill="#262626" stroke="none" stroke-width="0"/>
<circle cx="33.25" cy="241.51" r="0.45" fill="#262626" stroke="none" stroke-width="0"/>
<circle cx="32.31" cy="263.07" r="0.45" fill="#262626" stroke="none" stroke-width="0"/>
<circle cx="32.65" cy="248.63" r="0.45" fill="#262626" stroke="none" stroke-width="0"/>
<circle cx="31.85" cy="241.76" r="0.45" fill="#262626" stroke="none" stroke-width="0"/>
<circle cx="33.07" cy="253.19" r="0.45" fill="#262626" stroke="none" stroke-width="0"/>
<circle cx="31.31" cy="249.03" r="0.45" fill="#262626" stroke="none" stroke-width="0"/>
<circle cx="32.87" cy="248.68" r="0.45" fill="#262626" stroke="none" stroke-width="0"/>
<circle cx="28.49" cy="250.32" r="0.45" fill="#262626" stroke="none" stroke-width="0"/>
<circle cx="33.49" cy="260.13" r="0.45" fill="#262626" stroke="none" stroke-width="0"/>
<circle cx="30.56" cy="256.47" r="0.45" fill="#262626" stroke="none" stroke-width="0"/>
<circle cx="35.11" cy="266.08" r="0.45" fill="#262626" stroke="none" stroke-width="0"/>
<circle cx="32.18" cy="245.89" r="0.45" fill="#262626" stroke="none" stroke-width="0"/>
<circle cx="34.69" cy="257.79" r="0.45" fill="#262626" stroke="none" stroke-width="0"/>
<circle cx="32.60" cy="262.96" r="0.45" fill="#262626" stroke="none" stroke-width="0"/>
<circle cx="34.37" cy="259.96" r="0.45" fill="#262626" stroke="none" stroke-width="0"/>
<circle cx="33.64" cy="250.61" r="0.45" fill="#262626" stroke="none" stroke-width="0"/>
<circle cx="36.00" cy="261.26" r="0.45" fill="#262626" stroke="none" stroke-width="0"/>
<circle cx="33.69" cy="254.34" r="0.45" fill="#262626" stroke="none" stroke-width="0"/>
<circle cx="31.92" cy="242.12" r="0.45" fill="#262626" stroke="none" stroke-width="0"/>
<circle cx="32.49" cy="259.25" r="0.45" fill="#262626" stroke="none" stroke-width="0"/>
<circle cx="33.37" cy="247.48" r="0.45" fill="#262626" stroke="none" stroke-width="0"/>
<circle cx="34.38" cy="257.46" r="0.45" fill="#262626" stroke="none" stroke-width="0"/>
<circle cx="32.71" cy="252.04" r="0.45" fill="#262626" stroke="none" stroke-width="0"/>
<circle cx="35.22" cy="254.39" r="0.45" fill="#262626" stroke="none" stroke-width="0"/>
<circle cx="32.38" cy="254.59" r="0.45" fill="#262626" stroke="none" stroke-width="0"/>
<circle cx="28.33" cy="254.08" r="0.45" fill="#262626" stroke="none" stroke-width="0"/>
<circle cx="34.05" cy="242.65" r="0.45" fill="#262626" stroke="none" stroke-width="0"/>
<circle cx="33.60" cy="265.26" r="0.45" fill="#262626" stroke="none" stroke-width="0"/>
<circle cx="30.54" cy="252.39" r="0.45" fill="#262626" stroke="none" stroke-width="0"/>
<circle cx="38.23" cy="254.29" r="0.45" fill="#262626" stroke="none" stroke-width="0"/>
<circle cx="33.37" cy="258.70" r="0.45" fill="#262626" stroke="none" stroke-width="0"/>
<circle cx="30.99" cy="260.68" r="0.45" fill="#262626" stroke="none" stroke-width="0"/>
<circle cx="37.49" cy="254.47" r="0.45" fill="#262626" stroke="none" stroke-width="0"/>
<circle cx="32.83" cy="255.48" r="0.45" fill="#262626" stroke="none" stroke-width="0"/>
<circle cx="33.38" cy="249.87" r="0.45" fill="#262626" stroke="none" stroke-width="0"/>
<circle cx="27.68" cy="263.81" r="0.45" fill="#262626" stroke="none" stroke-width="0"/>
<circle cx="35.80" cy="258.96" r="0.45" fill="#262626" stroke="none" stroke-width="0"/>
<circle cx="34.92" cy="261.36" r="0.45" fill="#262626" stroke="none" stroke-width="0"/>
<circle cx="33.23" cy="259.49" r="0.45" fill="#262626" stroke="none" stroke-width="0"/>
<circle cx="32.61" cy="255.23" r="0.45" fill="#262626" stroke="none" stroke-width="0"/>
<circle cx="35.28" cy="243.31" r="0.45" fill="#262626" stroke="none" stroke-width="0"/>
<circle cx="30.74" cy="255.36" r="0.45" fill="#262626" stroke="none" stroke-width="0"/>
<circle cx="33.00" cy="254.33" r="0.45" fill="#262626" stroke="none" stroke-width="0"/>
<circle cx="32.08" cy="251.70" r="0.45" fill="#262626" stroke="none" stroke-width="0"/>
<circle cx="33.94" cy="254.87" r="0.45" fill="#262626" stroke="none" stroke-width="0"/>
<circle cx="32.82" cy="256.01" r="0.45" fill="#262626" stroke="none" stroke-width="0"/>
<circle cx="31.91" cy="241.69" r="0.45" fill="#262626" stroke="none" stroke-width="0"/>
<circle cx="33.57" cy="247.59" r="0.45" fill="#262626" stroke="none" stroke-width="0"/>
<circle cx="35.51" cy="260.70" r="0.45" fill="#262626" stroke="none" stroke-width="0"/>
<circle cx="35.77" cy="259.24" r="0.45" fill="#262626" stroke="none" stroke-width="0"/>
<circle cx="35.58" cy="249.55" r="0.45" fill="#262626" stroke="none" stroke-width="0"/>
<circle cx="29.21" cy="256.96" r="0.45" fill="#262626" stroke="none" stroke-width="0"/>
<circle cx="30.37" cy="240.81" r="0.45" fill="#262626" stroke="none" stroke-width="0"/>
<circle cx="31.14" cy="258.41" r="0.45" fill="#262626" stroke="none" stroke-width="0"/>
<circle cx="33.76" cy="245.50" r="0.45" fill="#262626" stroke="none" stroke-width="0"/>
<path d="M51.10,229.30 C52.27,229.30 53.28,231.03 54.60,233.00 C55.92,234.97 58.68,238.77 59.00,241.10 C59.32,243.43 57.23,244.95 56.50,247.00 C55.77,249.05 54.70,251.57 54.60,253.40 C54.50,255.23 55.48,256.55 55.90,258.00 C56.32,259.45 57.23,260.68 57.10,262.10 C56.97,263.52 56.10,265.37 55.10,266.50 C54.10,267.63 52.43,268.90 51.10,268.90 C49.77,268.90 48.10,267.63 47.10,266.50 C46.10,265.37 45.23,263.52 45.10,262.10 C44.97,260.68 45.88,259.45 46.30,258.00 C46.72,256.55 47.70,255.23 47.60,253.40 C47.50,251.57 46.43,249.05 45.70,247.00 C44.97,244.95 42.88,243.43 43.20,241.10 C43.52,238.77 46.28,234.97 47.60,233.00 C48.92,231.03 49.93,229.30 51.10,229.30 Z" fill="#8dbbe1" stroke="#5a5a5a" stroke-width="0.3"/>
<line x1="51.10" y1="229.80" x2="51.10" y2="268.60" stroke="#3a3a3a" stroke-width="0.3"/>
<rect x="49.40" y="240.50" width="3.40" height="19.70" fill="#3474b4" stroke="#2a2a2a" stroke-width="0.3"/>
<line x1="49.40" y1="250.85" x2="52.80" y2="250.85" stroke="#111" stroke-width="0.4"/>
<circle cx="54.32" cy="262.97" r="0.45" fill="#262626" stroke="none" stroke-width="0"/>
<circle cx="48.10" cy="237.62" r="0.45" fill="#262626" stroke="none" stroke-width="0"/>
<circle cx="52.21" cy="257.90" r="0.45" fill="#262626" stroke="none" stroke-width="0"/>
<circle cx="50.45" cy="253.53" r="0.45" fill="#262626" stroke="none" stroke-width="0"/>
<circle cx="51.47" cy="252.16" r="0.45" fill="#262626" stroke="none" stroke-width="0"/>
<circle cx="49.61" cy="251.65" r="0.45" fill="#262626" stroke="none" stroke-width="0"/>
<circle cx="50.63" cy="248.75" r="0.45" fill="#262626" stroke="none" stroke-width="0"/>
<circle cx="54.07" cy="254.78" r="0.45" fill="#262626" stroke="none" stroke-width="0"/>
<circle cx="51.32" cy="262.58" r="0.45" fill="#262626" stroke="none" stroke-width="0"/>
<circle cx="50.01" cy="249.03" r="0.45" fill="#262626" stroke="none" stroke-width="0"/>
<circle cx="47.64" cy="236.34" r="0.45" fill="#262626" stroke="none" stroke-width="0"/>
<circle cx="50.30" cy="249.43" r="0.45" fill="#262626" stroke="none" stroke-width="0"/>
<circle cx="53.46" cy="247.69" r="0.45" fill="#262626" stroke="none" stroke-width="0"/>
<circle cx="51.33" cy="250.58" r="0.45" fill="#262626" stroke="none" stroke-width="0"/>
<circle cx="46.73" cy="244.22" r="0.45" fill="#262626" stroke="none" stroke-width="0"/>
<circle cx="48.82" cy="246.46" r="0.45" fill="#262626" stroke="none" stroke-width="0"/>
<circle cx="54.67" cy="250.29" r="0.45" fill="#262626" stroke="none" stroke-width="0"/>
<circle cx="49.90" cy="253.64" r="0.45" fill="#262626" stroke="none" stroke-width="0"/>
<circle cx="52.76" cy="259.96" r="0.45" fill="#262626" stroke="none" stroke-width="0"/>
<circle cx="53.02" cy="255.06" r="0.45" fill="#262626" stroke="none" stroke-width="0"/>
<circle cx="52.35" cy="255.80" r="0.45" fill="#262626" stroke="none" stroke-width="0"/>
<circle cx="54.77" cy="247.11" r="0.45" fill="#262626" stroke="none" stroke-width="0"/>
<circle cx="49.10" cy="263.35" r="0.45" fill="#262626" stroke="none" stroke-width="0"/>
<circle cx="51.96" cy="255.57" r="0.45" fill="#262626" stroke="none" stroke-width="0"/>
<circle cx="51.22" cy="249.36" r="0.45" fill="#262626" stroke="none" stroke-width="0"/>
<circle cx="53.46" cy="249.91" r="0.45" fill="#262626" stroke="none" stroke-width="0"/>
<circle cx="52.70" cy="250.11" r="0.45" fill="#262626" stroke="none" stroke-width="0"/>
<circle cx="53.45" cy="247.12" r="0.45" fill="#262626" stroke="none" stroke-width="0"/>
<circle cx="50.92" cy="260.20" r="0.45" fill="#262626" stroke="none" stroke-width="0"/>
<circle cx="53.19" cy="251.39" r="0.45" fill="#262626" stroke="none" stroke-width="0"/>
<circle cx="51.06" cy="254.80" r="0.45" fill="#262626" stroke="none" stroke-width="0"/>
<circle cx="49.99" cy="243.82" r="0.45" fill="#262626" stroke="none" stroke-width="0"/>
<circle cx="49.76" cy="254.22" r="0.45" fill="#262626" stroke="none" stroke-width="0"/>
<circle cx="49.84" cy="260.55" r="0.45" fill="#262626" stroke="none" stroke-width="0"/>
<circle cx="50.09" cy="260.70" r="0.45" fill="#262626" stroke="none" stroke-width="0"/>
<circle cx="52.20" cy="263.06" r="0.45" fill="#262626" stroke="none" stroke-width="0"/>
<circle cx="51.17" cy="250.18" r="0.45" fill="#262626" stroke="none" stroke-width="0"/>
<circle cx="51.38" cy="253.12" r="0.45" fill="#262626" stroke="none" stroke-width="0"/>
<circle cx="49.36" cy="246.15" r="0.45" fill="#262626" stroke="none" stroke-width="0"/>
<circle cx="53.49" cy="250.32" r="0.45" fill="#262626" stroke="none" stroke-width="0"/>
<circle cx="49.14" cy="252.52" r="0.45" fill="#262626" stroke="none" stroke-width="0"/>
<circle cx="52.12" cy="257.43" r="0.45" fill="#262626" stroke="none" stroke-width="0"/>
<circle cx="49.30" cy="260.54" r="0.45" fill="#262626" stroke="none" stroke-width="0"/>
<circle cx="48.84" cy="255.33" r="0.45" fill="#262626" stroke="none" stroke-width="0"/>
<circle cx="50.31" cy="253.15" r="0.45" fill="#262626" stroke="none" stroke-width="0"/>
<circle cx="53.95" cy="243.96" r="0.45" fill="#262626" stroke="none" stroke-width="0"/>
<circle cx="51.24" cy="239.97" r="0.45" fill="#262626" stroke="none" stroke-width="0"/>
<circle cx="49.84" cy="258.51" r="0.45" fill="#262626" stroke="none" stroke-width="0"/>
<circle cx="54.09" cy="243.50" r="0.45" fill="#262626" stroke="none" stroke-width="0"/>
<circle cx="52.14" cy="248.59" r="0.45" fill="#262626" stroke="none" stroke-width="0"/>
<circle cx="50.45" cy="236.05" r="0.45" fill="#262626" stroke="none" stroke-width="0"/>
<circle cx="52.30" cy="242.32" r="0.45" fill="#262626" stroke="none" stroke-width="0"/>
<circle cx="55.10" cy="238.95" r="0.45" fill="#262626" stroke="none" stroke-width="0"/>
<circle cx="52.20" cy="235.53" r="0.45" fill="#262626" stroke="none" stroke-width="0"/>
<circle cx="49.97" cy="235.17" r="0.45" fill="#262626" stroke="none" stroke-width="0"/>
<circle cx="49.39" cy="257.22" r="0.45" fill="#262626" stroke="none" stroke-width="0"/>
<circle cx="52.42" cy="242.70" r="0.45" fill="#262626" stroke="none" stroke-width="0"/>
<circle cx="48.00" cy="247.81" r="0.45" fill="#262626" stroke="none" stroke-width="0"/>
<circle cx="49.45" cy="265.81" r="0.45" fill="#262626" stroke="none" stroke-width="0"/>
<circle cx="50.33" cy="236.36" r="0.45" fill="#262626" stroke="none" stroke-width="0"/>
<circle cx="52.01" cy="252.35" r="0.45" fill="#262626" stroke="none" stroke-width="0"/>
<circle cx="49.97" cy="240.24" r="0.45" fill="#262626" stroke="none" stroke-width="0"/>
<circle cx="50.87" cy="235.97" r="0.45" fill="#262626" stroke="none" stroke-width="0"/>
<circle cx="52.10" cy="255.88" r="0.45" fill="#262626" stroke="none" stroke-width="0"/>
<circle cx="52.50" cy="260.30" r="0.45" fill="#262626" stroke="none" stroke-width="0"/>
<path d="M68.60,217.00 C69.13,217.00 69.63,221.60 70.20,225.00 C70.77,228.40 70.93,233.68 72.00,237.40 C73.07,241.12 75.40,244.83 76.60,247.30 C77.80,249.77 78.95,250.67 79.20,252.20 C79.45,253.73 78.95,255.43 78.10,256.50 C77.25,257.57 75.68,258.18 74.10,258.60 C72.52,259.02 70.43,259.00 68.60,259.00 C66.77,259.00 64.68,259.02 63.10,258.60 C61.52,258.18 59.95,257.57 59.10,256.50 C58.25,255.43 57.75,253.73 58.00,252.20 C58.25,250.67 59.40,249.77 60.60,247.30 C61.80,244.83 64.13,241.12 65.20,237.40 C66.27,233.68 66.43,228.40 67.00,225.00 C67.57,221.60 68.07,217.00 68.60,217.00 Z" fill="#90d29c" stroke="#5a5a5a" stroke-width="0.3"/>
<line x1="68.60" y1="217.50" x2="68.60" y2="258.70" stroke="#3a3a3a" stroke-width="0.3"/>
<rect x="66.90" y="242.30" width="3.40" height="9.30" fill="#34a044" stroke="#2a2a2a" stroke-width="0.3"/>
<line x1="66.90" y1="247.45" x2="70.30" y2="247.45" stroke="#111" stroke-width="0.4"/>
<circle cx="68.72" cy="235.21" r="0.45" fill="#262626" stroke="none" stroke-width="0"/>
<circle cx="69.00" cy="239.21" r="0.45" fill="#262626" stroke="none" stroke-width="0"/>
<circle cx="64.77" cy="245.28" r="0.45" fill="#262626" stroke="none" stroke-width="0"/>
<circle cx="69.02" cy="222.81" r="0.45" fill="#262626" stroke="none" stroke-width="0"/>
<circle cx="67.75" cy="235.92" r="0.45" fill="#262626" stroke="none" stroke-width="0"/>
<circle cx="68.39" cy="257.09" r="0.45" fill="#262626" stroke="none" stroke-width="0"/>
<circle cx="68.41" cy="249.86" r="0.45" fill="#262626" stroke="none" stroke-width="0"/>
<circle cx="65.84" cy="245.56" r="0.45" fill="#262626" stroke="none" stroke-width="0"/>
<circle cx="71.56" cy="245.47" r="0.45" fill="#262626" stroke="none" stroke-width="0"/>
<circle cx="70.04" cy="243.03" r="0.45" fill="#262626" stroke="none" stroke-width="0"/>
<circle cx="64.51" cy="246.23" r="0.45" fill="#262626" stroke="none" stroke-width="0"/>
<circle cx="69.28" cy="248.00" r="0.45" fill="#262626" stroke="none" stroke-width="0"/>
<circle cx="66.44" cy="237.24" r="0.45" fill="#262626" stroke="none" stroke-width="0"/>
<circle cx="68.37" cy="250.67" r="0.45" fill="#262626" stroke="none" stroke-width="0"/>
<circle cx="72.03" cy="247.17" r="0.45" fill="#262626" stroke="none" stroke-width="0"/>
<circle cx="72.65" cy="247.08" r="0.45" fill="#262626" stroke="none" stroke-width="0"/>
<circle cx="70.03" cy="239.88" r="0.45" fill="#262626" stroke="none" stroke-width="0"/>
<circle cx="71.40" cy="241.16" r="0.45" fill="#262626" stroke="none" stroke-width="0"/>
<circle cx="63.85" cy="251.07" r="0.45" fill="#262626" stroke="none" stroke-width="0"/>
<circle cx="67.87" cy="231.25" r="0.45" fill="#262626" stroke="none" stroke-width="0"/>
<circle cx="68.04" cy="254.53" r="0.45" fill="#262626" stroke="none" stroke-width="0"/>
<circle cx="67.25" cy="245.30" r="0.45" fill="#262626" stroke="none" stroke-width="0"/>
<circle cx="68.00" cy="242.66" r="0.45" fill="#262626" stroke="none" stroke-width="0"/>
<circle cx="68.90" cy="238.68" r="0.45" fill="#262626" stroke="none" stroke-width="0"/>
<circle cx="71.78" cy="244.40" r="0.45" fill="#262626" stroke="none" stroke-width="0"/>
<circle cx="72.62" cy="246.44" r="0.45" fill="#262626" stroke="none" stroke-width="0"/>
<circle cx="75.70" cy="250.41" r="0.45" fill="#262626" stroke="none" stroke-width="0"/>
<circle cx="65.87" cy="246.22" r="0.45" fill="#262626" stroke="none" stroke-width="0"/>
<circle cx="74.66" cy="250.53" r="0.45" fill="#262626" stroke="none" stroke-width="0"/>
<circle cx="69.24" cy="251.91" r="0.45" fill="#262626" stroke="none" stroke-width="0"/>
<circle cx="66.25" cy="247.07" r="0.45" fill="#262626" stroke="none" stroke-width="0"/>
<circle cx="69.20" cy="249.74" r="0.45" fill="#262626" stroke="none" stroke-width="0"/>
<circle cx="66.79" cy="236.74" r="0.45" fill="#262626" stroke="none" stroke-width="0"/>
<circle cx="75.60" cy="250.34" r="0.45" fill="#262626" stroke="none" stroke-width="0"/>
<circle cx="69.28" cy="228.89" r="0.45" fill="#262626" stroke="none" stroke-width="0"/>
<circle cx="66.78" cy="240.29" r="0.45" fill="#262626" stroke="none" stroke-width="0"/>
<circle cx="69.51" cy="237.01" r="0.45" fill="#262626" stroke="none" stroke-width="0"/>
<circle cx="62.69" cy="250.88" r="0.45" fill="#262626" stroke="none" stroke-width="0"/>
<circle cx="64.46" cy="245.05" r="0.45" fill="#262626" stroke="none" stroke-width="0"/>
<circle cx="67.34" cy="247.17" r="0.45" fill="#262626" stroke="none" stroke-width="0"/>
<circle cx="75.45" cy="251.13" r="0.45" fill="#262626" stroke="none" stroke-width="0"/>
<circle cx="73.28" cy="242.62" r="0.45" fill="#262626" stroke="none" stroke-width="0"/>
<circle cx="66.82" cy="237.49" r="0.45" fill="#262626" stroke="none" stroke-width="0"/>
<circle cx="64.26" cy="244.73" r="0.45" fill="#262626" stroke="none" stroke-width="0"/>
<circle cx="68.36" cy="233.76" r="0.45" fill="#262626" stroke="none" stroke-width="0"/>
<circle cx="66.01" cy="244.96" r="0.45" fill="#262626" stroke="none" stroke-width="0"/>
<circle cx="69.31" cy="225.84" r="0.45" fill="#262626" stroke="none" stroke-width="0"/>
<circle cx="70.72" cy="237.61" r="0.45" fill="#262626" stroke="none" stroke-width="0"/>
<circle cx="67.46" cy="251.63" r="0.45" fill="#262626" stroke="none" stroke-width="0"/>
<circle cx="68.69" cy="241.55" r="0.45" fill="#262626" stroke="none" stroke-width="0"/>
<circle cx="69.22" cy="245.66" r="0.45" fill="#262626" stroke="none" stroke-width="0"/>
<circle cx="69.30" cy="243.85" r="0.45" fill="#262626" stroke="none" stroke-width="0"/>
<circle cx="68.66" cy="253.30" r="0.45" fill="#262626" stroke="none" stroke-width="0"/>
<circle cx="69.67" cy="240.82" r="0.45" fill="#262626" stroke="none" stroke-width="0"/>
<circle cx="68.01" cy="235.20" r="0.45" fill="#262626" stroke="none" stroke-width="0"/>
<circle cx="68.78" cy="255.32" r="0.45" fill="#262626" stroke="none" stroke-width="0"/>
<circle cx="64.07" cy="243.61" r="0.45" fill="#262626" stroke="none" stroke-width="0"/>
<circle cx="68.94" cy="240.41" r="0.45" fill="#262626" stroke="none" stroke-width="0"/>
<circle cx="68.74" cy="223.71" r="0.45" fill="#262626" stroke="none" stroke-width="0"/>
<circle cx="64.64" cy="245.42" r="0.45" fill="#262626" stroke="none" stroke-width="0"/>
<circle cx="68.39" cy="245.32" r="0.45" fill="#262626" stroke="none" stroke-width="0"/>
<circle cx="67.57" cy="246.39" r="0.45" fill="#262626" stroke="none" stroke-width="0"/>
<circle cx="70.44" cy="246.94" r="0.45" fill="#262626" stroke="none" stroke-width="0"/>
<circle cx="67.83" cy="223.95" r="0.45" fill="#262626" stroke="none" stroke-width="0"/>
<circle cx="73.28" cy="246.32" r="0.45" fill="#262626" stroke="none" stroke-width="0"/>
<path d="M109.70,217.20 C110.00,217.20 110.47,217.37 110.60,218.50 C110.73,219.63 110.38,222.42 110.50,224.00 C110.62,225.58 110.72,226.25 111.30,228.00 C111.88,229.75 112.90,231.78 114.00,234.50 C115.10,237.22 117.12,241.58 117.90,244.30 C118.68,247.02 118.87,248.62 118.70,250.80 C118.53,252.98 117.47,255.03 116.90,257.40 C116.33,259.77 116.00,263.23 115.30,265.00 C114.60,266.77 113.63,267.45 112.70,268.00 C111.77,268.55 110.70,268.30 109.70,268.30 C108.70,268.30 107.63,268.55 106.70,268.00 C105.77,267.45 104.80,266.77 104.10,265.00 C103.40,263.23 103.07,259.77 102.50,257.40 C101.93,255.03 100.87,252.98 100.70,250.80 C100.53,248.62 100.72,247.02 101.50,244.30 C102.28,241.58 104.30,237.22 105.40,234.50 C106.50,231.78 107.52,229.75 108.10,228.00 C108.68,226.25 108.78,225.58 108.90,224.00 C109.02,222.42 108.67,219.63 108.80,218.50 C108.93,217.37 109.40,217.20 109.70,217.20 Z" fill="#a4c9e5" stroke="#5a5a5a" stroke-width="0.3"/>
<line x1="109.70" y1="217.70" x2="109.70" y2="268.00" stroke="#3a3a3a" stroke-width="0.3"/>
<rect x="108.00" y="241.90" width="3.40" height="15.50" fill="#5597c8" stroke="#2a2a2a" stroke-width="0.3"/>
<line x1="108.00" y1="250.15" x2="111.40" y2="250.15" stroke="#111" stroke-width="0.4"/>
<circle cx="107.08" cy="237.89" r="0.45" fill="#262626" stroke="none" stroke-width="0"/>
<circle cx="106.74" cy="243.41" r="0.45" fill="#262626" stroke="none" stroke-width="0"/>
<circle cx="109.52" cy="229.12" r="0.45" fill="#262626" stroke="none" stroke-width="0"/>
<circle cx="111.83" cy="259.29" r="0.45" fill="#262626" stroke="none" stroke-width="0"/>
<circle cx="107.35" cy="253.41" r="0.45" fill="#262626" stroke="none" stroke-width="0"/>
<circle cx="107.83" cy="247.38" r="0.45" fill="#262626" stroke="none" stroke-width="0"/>
<circle cx="107.60" cy="235.19" r="0.45" fill="#262626" stroke="none" stroke-width="0"/>
<circle cx="112.49" cy="237.01" r="0.45" fill="#262626" stroke="none" stroke-width="0"/>
<circle cx="112.18" cy="255.52" r="0.45" fill="#262626" stroke="none" stroke-width="0"/>
<circle cx="107.14" cy="254.53" r="0.45" fill="#262626" stroke="none" stroke-width="0"/>
<circle cx="110.48" cy="240.61" r="0.45" fill="#262626" stroke="none" stroke-width="0"/>
<circle cx="113.05" cy="252.42" r="0.45" fill="#262626" stroke="none" stroke-width="0"/>
<circle cx="106.14" cy="257.51" r="0.45" fill="#262626" stroke="none" stroke-width="0"/>
<circle cx="111.12" cy="249.14" r="0.45" fill="#262626" stroke="none" stroke-width="0"/>
<circle cx="106.79" cy="246.56" r="0.45" fill="#262626" stroke="none" stroke-width="0"/>
<circle cx="105.59" cy="245.67" r="0.45" fill="#262626" stroke="none" stroke-width="0"/>
<circle cx="112.40" cy="260.20" r="0.45" fill="#262626" stroke="none" stroke-width="0"/>
<circle cx="108.05" cy="247.67" r="0.45" fill="#262626" stroke="none" stroke-width="0"/>
<circle cx="110.14" cy="258.83" r="0.45" fill="#262626" stroke="none" stroke-width="0"/>
<circle cx="112.43" cy="257.61" r="0.45" fill="#262626" stroke="none" stroke-width="0"/>
<circle cx="109.05" cy="246.63" r="0.45" fill="#262626" stroke="none" stroke-width="0"/>
<circle cx="109.17" cy="248.97" r="0.45" fill="#262626" stroke="none" stroke-width="0"/>
<circle cx="108.89" cy="234.65" r="0.45" fill="#262626" stroke="none" stroke-width="0"/>
<circle cx="104.98" cy="254.94" r="0.45" fill="#262626" stroke="none" stroke-width="0"/>
<circle cx="109.87" cy="227.48" r="0.45" fill="#262626" stroke="none" stroke-width="0"/>
<circle cx="109.89" cy="239.57" r="0.45" fill="#262626" stroke="none" stroke-width="0"/>
<circle cx="108.48" cy="245.61" r="0.45" fill="#262626" stroke="none" stroke-width="0"/>
<circle cx="108.26" cy="266.25" r="0.45" fill="#262626" stroke="none" stroke-width="0"/>
<circle cx="107.21" cy="243.92" r="0.45" fill="#262626" stroke="none" stroke-width="0"/>
<circle cx="107.76" cy="249.80" r="0.45" fill="#262626" stroke="none" stroke-width="0"/>
<circle cx="111.50" cy="242.15" r="0.45" fill="#262626" stroke="none" stroke-width="0"/>
<circle cx="110.05" cy="240.98" r="0.45" fill="#262626" stroke="none" stroke-width="0"/>
<circle cx="106.45" cy="258.61" r="0.45" fill="#262626" stroke="none" stroke-width="0"/>
<circle cx="109.17" cy="228.75" r="0.45" fill="#262626" stroke="none" stroke-width="0"/>
<circle cx="110.57" cy="253.41" r="0.45" fill="#262626" stroke="none" stroke-width="0"/>
<circle cx="108.80" cy="237.94" r="0.45" fill="#262626" stroke="none" stroke-width="0"/>
<circle cx="109.53" cy="235.41" r="0.45" fill="#262626" stroke="none" stroke-width="0"/>
<circle cx="109.97" cy="227.16" r="0.45" fill="#262626" stroke="none" stroke-width="0"/>
<circle cx="113.88" cy="258.22" r="0.45" fill="#262626" stroke="none" stroke-width="0"/>
<circle cx="114.90" cy="252.51" r="0.45" fill="#262626" stroke="none" stroke-width="0"/>
<circle cx="109.52" cy="224.39" r="0.45" fill="#262626" stroke="none" stroke-width="0"/>
<circle cx="111.43" cy="262.32" r="0.45" fill="#262626" stroke="none" stroke-width="0"/>
<circle cx="114.22" cy="243.85" r="0.45" fill="#262626" stroke="none" stroke-width="0"/>
<circle cx="112.68" cy="249.50" r="0.45" fill="#262626" stroke="none" stroke-width="0"/>
<circle cx="107.59" cy="240.04" r="0.45" fill="#262626" stroke="none" stroke-width="0"/>
<circle cx="106.34" cy="244.84" r="0.45" fill="#262626" stroke="none" stroke-width="0"/>
<circle cx="114.42" cy="242.96" r="0.45" fill="#262626" stroke="none" stroke-width="0"/>
<circle cx="104.55" cy="241.34" r="0.45" fill="#262626" stroke="none" stroke-width="0"/>
<circle cx="109.18" cy="227.34" r="0.45" fill="#262626" stroke="none" stroke-width="0"/>
<circle cx="108.68" cy="253.99" r="0.45" fill="#262626" stroke="none" stroke-width="0"/>
<circle cx="106.63" cy="239.93" r="0.45" fill="#262626" stroke="none" stroke-width="0"/>
<circle cx="109.31" cy="263.79" r="0.45" fill="#262626" stroke="none" stroke-width="0"/>
<circle cx="106.81" cy="236.74" r="0.45" fill="#262626" stroke="none" stroke-width="0"/>
<circle cx="109.09" cy="228.24" r="0.45" fill="#262626" stroke="none" stroke-width="0"/>
<circle cx="106.25" cy="250.92" r="0.45" fill="#262626" stroke="none" stroke-width="0"/>
<circle cx="109.69" cy="226.98" r="0.45" fill="#262626" stroke="none" stroke-width="0"/>
<circle cx="114.33" cy="238.40" r="0.45" fill="#262626" stroke="none" stroke-width="0"/>
<circle cx="109.79" cy="232.65" r="0.45" fill="#262626" stroke="none" stroke-width="0"/>
<circle cx="109.04" cy="253.67" r="0.45" fill="#262626" stroke="none" stroke-width="0"/>
<circle cx="109.59" cy="264.50" r="0.45" fill="#262626" stroke="none" stroke-width="0"/>
<circle cx="109.24" cy="238.12" r="0.45" fill="#262626" stroke="none" stroke-width="0"/>
<circle cx="109.61" cy="226.59" r="0.45" fill="#262626" stroke="none" stroke-width="0"/>
<circle cx="112.33" cy="238.38" r="0.45" fill="#262626" stroke="none" stroke-width="0"/>
<circle cx="109.69" cy="255.59" r="0.45" fill="#262626" stroke="none" stroke-width="0"/>
<circle cx="109.41" cy="226.04" r="0.45" fill="#262626" stroke="none" stroke-width="0"/>
<path d="M134.70,232.10 C135.70,232.10 136.62,233.93 137.70,235.00 C138.78,236.07 139.80,237.08 141.20,238.50 C142.60,239.92 145.68,241.45 146.10,243.50 C146.52,245.55 144.52,248.22 143.70,250.80 C142.88,253.38 142.03,256.63 141.20,259.00 C140.37,261.37 139.78,263.50 138.70,265.00 C137.62,266.50 136.03,268.00 134.70,268.00 C133.37,268.00 131.78,266.50 130.70,265.00 C129.62,263.50 129.03,261.37 128.20,259.00 C127.37,256.63 126.52,253.38 125.70,250.80 C124.88,248.22 122.88,245.55 123.30,243.50 C123.72,241.45 126.80,239.92 128.20,238.50 C129.60,237.08 130.62,236.07 131.70,235.00 C132.78,233.93 133.70,232.10 134.70,232.10 Z" fill="#6a8696" stroke="#5a5a5a" stroke-width="0.3"/>
<line x1="134.70" y1="232.60" x2="134.70" y2="267.70" stroke="#3a3a3a" stroke-width="0.3"/>
<rect x="133.00" y="241.00" width="3.40" height="17.20" fill="#1c344e" stroke="#2a2a2a" stroke-width="0.3"/>
<line x1="133.00" y1="250.10" x2="136.40" y2="250.10" stroke="#111" stroke-width="0.4"/>
<circle cx="136.73" cy="252.48" r="0.45" fill="#262626" stroke="none" stroke-width="0"/>
<circle cx="138.79" cy="256.43" r="0.45" fill="#262626" stroke="none" stroke-width="0"/>
<circle cx="138.67" cy="255.03" r="0.45" fill="#262626" stroke="none" stroke-width="0"/>
<circle cx="134.52" cy="237.98" r="0.45" fill="#262626" stroke="none" stroke-width="0"/>
<circle cx="135.44" cy="261.68" r="0.45" fill="#262626" stroke="none" stroke-width="0"/>
<circle cx="131.95" cy="259.80" r="0.45" fill="#262626" stroke="none" stroke-width="0"/>
<circle cx="132.33" cy="249.68" r="0.45" fill="#262626" stroke="none" stroke-width="0"/>
<circle cx="135.28" cy="250.98" r="0.45" fill="#262626" stroke="none" stroke-width="0"/>
<circle cx="133.33" cy="236.71" r="0.45" fill="#262626" stroke="none" stroke-width="0"/>
<circle cx="139.99" cy="246.13" r="0.45" fill="#262626" stroke="none" stroke-width="0"/>
<circle cx="131.92" cy="255.67" r="0.45" fill="#262626" stroke="none" stroke-width="0"/>
<circle cx="131.78" cy="256.49" r="0.45" fill="#262626" stroke="none" stroke-width="0"/>
<circle cx="131.10" cy="252.38" r="0.45" fill="#262626" stroke="none" stroke-width="0"/>
<circle cx="135.98" cy="235.06" r="0.45" fill="#262626" stroke="none" stroke-width="0"/>
<circle cx="131.47" cy="244.51" r="0.45" fill="#262626" stroke="none" stroke-width="0"/>
<circle cx="136.51" cy="264.26" r="0.45" fill="#262626" stroke="none" stroke-width="0"/>
<circle cx="141.13" cy="246.34" r="0.45" fill="#262626" stroke="none" stroke-width="0"/>
<circle cx="136.20" cy="250.90" r="0.45" fill="#262626" stroke="none" stroke-width="0"/>
<circle cx="140.90" cy="244.40" r="0.45" fill="#262626" stroke="none" stroke-width="0"/>
<circle cx="139.78" cy="253.90" r="0.45" fill="#262626" stroke="none" stroke-width="0"/>
<circle cx="133.49" cy="259.53" r="0.45" fill="#262626" stroke="none" stroke-width="0"/>
<circle cx="131.10" cy="247.77" r="0.45" fill="#262626" stroke="none" stroke-width="0"/>
<circle cx="128.89" cy="242.79" r="0.45" fill="#262626" stroke="none" stroke-width="0"/>
<circle cx="135.66" cy="246.59" r="0.45" fill="#262626" stroke="none" stroke-width="0"/>
<circle cx="135.27" cy="235.42" r="0.45" fill="#262626" stroke="none" stroke-width="0"/>
<circle cx="132.87" cy="247.33" r="0.45" fill="#262626" stroke="none" stroke-width="0"/>
<circle cx="134.58" cy="257.08" r="0.45" fill="#262626" stroke="none" stroke-width="0"/>
<circle cx="134.53" cy="246.89" r="0.45" fill="#262626" stroke="none" stroke-width="0"/>
<circle cx="130.22" cy="254.21" r="0.45" fill="#262626" stroke="none" stroke-width="0"/>
<circle cx="131.65" cy="263.64" r="0.45" fill="#262626" stroke="none" stroke-width="0"/>
<circle cx="137.58" cy="255.27" r="0.45" fill="#262626" stroke="none" stroke-width="0"/>
<circle cx="136.23" cy="237.16" r="0.45" fill="#262626" stroke="none" stroke-width="0"/>
<circle cx="135.39" cy="247.87" r="0.45" fill="#262626" stroke="none" stroke-width="0"/>
<circle cx="132.18" cy="236.27" r="0.45" fill="#262626" stroke="none" stroke-width="0"/>
<circle cx="141.43" cy="243.78" r="0.45" fill="#262626" stroke="none" stroke-width="0"/>
<circle cx="137.56" cy="244.19" r="0.45" fill="#262626" stroke="none" stroke-width="0"/>
<circle cx="137.87" cy="261.01" r="0.45" fill="#262626" stroke="none" stroke-width="0"/>
<circle cx="133.35" cy="247.45" r="0.45" fill="#262626" stroke="none" stroke-width="0"/>
<circle cx="137.24" cy="250.64" r="0.45" fill="#262626" stroke="none" stroke-width="0"/>
<circle cx="137.05" cy="241.58" r="0.45" fill="#262626" stroke="none" stroke-width="0"/>
<circle cx="137.60" cy="256.49" r="0.45" fill="#262626" stroke="none" stroke-width="0"/>
<circle cx="138.38" cy="238.45" r="0.45" fill="#262626" stroke="none" stroke-width="0"/>
<circle cx="133.38" cy="240.97" r="0.45" fill="#262626" stroke="none" stroke-width="0"/>
<circle cx="139.03" cy="252.25" r="0.45" fill="#262626" stroke="none" stroke-width="0"/>
<circle cx="139.96" cy="247.37" r="0.45" fill="#262626" stroke="none" stroke-width="0"/>
<circle cx="133.11" cy="251.01" r="0.45" fill="#262626" stroke="none" stroke-width="0"/>
<circle cx="131.17" cy="246.91" r="0.45" fill="#262626" stroke="none" stroke-width="0"/>
<circle cx="131.45" cy="240.46" r="0.45" fill="#262626" stroke="none" stroke-width="0"/>
<circle cx="141.00" cy="253.87" r="0.45" fill="#262626" stroke="none" stroke-width="0"/>
<circle cx="128.18" cy="243.24" r="0.45" fill="#262626" stroke="none" stroke-width="0"/>
<circle cx="134.82" cy="264.68" r="0.45" fill="#262626" stroke="none" stroke-width="0"/>
<circle cx="132.13" cy="248.60" r="0.45" fill="#262626" stroke="none" stroke-width="0"/>
<circle cx="137.72" cy="251.92" r="0.45" fill="#262626" stroke="none" stroke-width="0"/>
<circle cx="134.05" cy="249.46" r="0.45" fill="#262626" stroke="none" stroke-width="0"/>
<circle cx="138.44" cy="239.47" r="0.45" fill="#262626" stroke="none" stroke-width="0"/>
<circle cx="134.67" cy="238.22" r="0.45" fill="#262626" stroke="none" stroke-width="0"/>
<circle cx="131.83" cy="257.67" r="0.45" fill="#262626" stroke="none" stroke-width="0"/>
<circle cx="139.21" cy="254.83" r="0.45" fill="#262626" stroke="none" stroke-width="0"/>
<circle cx="137.20" cy="252.63" r="0.45" fill="#262626" stroke="none" stroke-width="0"/>
<circle cx="134.15" cy="241.53" r="0.45" fill="#262626" stroke="none" stroke-width="0"/>
<circle cx="138.77" cy="242.89" r="0.45" fill="#262626" stroke="none" stroke-width="0"/>
<circle cx="134.27" cy="246.45" r="0.45" fill="#262626" stroke="none" stroke-width="0"/>
<circle cx="135.29" cy="266.85" r="0.45" fill="#262626" stroke="none" stroke-width="0"/>
<circle cx="134.52" cy="263.71" r="0.45" fill="#262626" stroke="none" stroke-width="0"/>
<circle cx="136.78" cy="250.01" r="0.45" fill="#262626" stroke="none" stroke-width="0"/>
<path d="M181.30,228.00 C182.93,228.00 184.52,231.00 186.20,232.90 C187.88,234.80 190.62,237.38 191.40,239.40 C192.18,241.42 191.08,243.10 190.90,245.00 C190.72,246.90 190.20,248.47 190.30,250.80 C190.40,253.13 191.75,256.63 191.50,259.00 C191.25,261.37 190.50,263.50 188.80,265.00 C187.10,266.50 183.80,268.00 181.30,268.00 C178.80,268.00 175.50,266.50 173.80,265.00 C172.10,263.50 171.35,261.37 171.10,259.00 C170.85,256.63 172.20,253.13 172.30,250.80 C172.40,248.47 171.88,246.90 171.70,245.00 C171.52,243.10 170.42,241.42 171.20,239.40 C171.98,237.38 174.72,234.80 176.40,232.90 C178.08,231.00 179.67,228.00 181.30,228.00 Z" fill="#9adac6" stroke="#5a5a5a" stroke-width="0.3"/>
<line x1="181.30" y1="228.50" x2="181.30" y2="267.70" stroke="#3a3a3a" stroke-width="0.3"/>
<rect x="179.60" y="241.90" width="3.40" height="17.10" fill="#4cba94" stroke="#2a2a2a" stroke-width="0.3"/>
<line x1="179.60" y1="250.95" x2="183.00" y2="250.95" stroke="#111" stroke-width="0.4"/>
<circle cx="184.65" cy="256.01" r="0.45" fill="#262626" stroke="none" stroke-width="0"/>
<circle cx="179.15" cy="249.29" r="0.45" fill="#262626" stroke="none" stroke-width="0"/>
<circle cx="181.69" cy="230.59" r="0.45" fill="#262626" stroke="none" stroke-width="0"/>
<circle cx="183.70" cy="248.99" r="0.45" fill="#262626" stroke="none" stroke-width="0"/>
<circle cx="183.87" cy="246.92" r="0.45" fill="#262626" stroke="none" stroke-width="0"/>
<circle cx="184.34" cy="244.46" r="0.45" fill="#262626" stroke="none" stroke-width="0"/>
<circle cx="180.57" cy="254.36" r="0.45" fill="#262626" stroke="none" stroke-width="0"/>
<circle cx="182.86" cy="250.32" r="0.45" fill="#262626" stroke="none" stroke-width="0"/>
<circle cx="181.76" cy="242.17" r="0.45" fill="#262626" stroke="none" stroke-width="0"/>
<circle cx="179.04" cy="256.34" r="0.45" fill="#262626" stroke="none" stroke-width="0"/>
<circle cx="183.03" cy="256.29" r="0.45" fill="#262626" stroke="none" stroke-width="0"/>
<circle cx="179.77" cy="257.52" r="0.45" fill="#262626" stroke="none" stroke-width="0"/>
<circle cx="184.22" cy="238.45" r="0.45" fill="#262626" stroke="none" stroke-width="0"/>
<circle cx="180.83" cy="256.33" r="0.45" fill="#262626" stroke="none" stroke-width="0"/>
<circle cx="178.34" cy="238.48" r="0.45" fill="#262626" stroke="none" stroke-width="0"/>
<circle cx="179.45" cy="252.22" r="0.45" fill="#262626" stroke="none" stroke-width="0"/>
<circle cx="182.00" cy="261.92" r="0.45" fill="#262626" stroke="none" stroke-width="0"/>
<circle cx="182.72" cy="242.41" r="0.45" fill="#262626" stroke="none" stroke-width="0"/>
<circle cx="186.38" cy="246.62" r="0.45" fill="#262626" stroke="none" stroke-width="0"/>
<circle cx="181.42" cy="259.89" r="0.45" fill="#262626" stroke="none" stroke-width="0"/>
<circle cx="183.05" cy="252.43" r="0.45" fill="#262626" stroke="none" stroke-width="0"/>
<circle cx="187.83" cy="256.35" r="0.45" fill="#262626" stroke="none" stroke-width="0"/>
<circle cx="180.50" cy="234.67" r="0.45" fill="#262626" stroke="none" stroke-width="0"/>
<circle cx="179.60" cy="251.54" r="0.45" fill="#262626" stroke="none" stroke-width="0"/>
<circle cx="176.85" cy="251.29" r="0.45" fill="#262626" stroke="none" stroke-width="0"/>
<circle cx="181.52" cy="258.74" r="0.45" fill="#262626" stroke="none" stroke-width="0"/>
<circle cx="182.83" cy="239.47" r="0.45" fill="#262626" stroke="none" stroke-width="0"/>
<circle cx="178.27" cy="245.48" r="0.45" fill="#262626" stroke="none" stroke-width="0"/>
<circle cx="177.61" cy="249.26" r="0.45" fill="#262626" stroke="none" stroke-width="0"/>
<circle cx="185.31" cy="242.69" r="0.45" fill="#262626" stroke="none" stroke-width="0"/>
<circle cx="174.57" cy="253.61" r="0.45" fill="#262626" stroke="none" stroke-width="0"/>
<circle cx="174.58" cy="255.59" r="0.45" fill="#262626" stroke="none" stroke-width="0"/>
<circle cx="185.84" cy="245.98" r="0.45" fill="#262626" stroke="none" stroke-width="0"/>
<circle cx="179.61" cy="251.92" r="0.45" fill="#262626" stroke="none" stroke-width="0"/>
<circle cx="180.36" cy="247.01" r="0.45" fill="#262626" stroke="none" stroke-width="0"/>
<circle cx="189.72" cy="239.86" r="0.45" fill="#262626" stroke="none" stroke-width="0"/>
<circle cx="180.77" cy="236.42" r="0.45" fill="#262626" stroke="none" stroke-width="0"/>
<circle cx="180.42" cy="254.76" r="0.45" fill="#262626" stroke="none" stroke-width="0"/>
<circle cx="179.28" cy="264.01" r="0.45" fill="#262626" stroke="none" stroke-width="0"/>
<circle cx="184.95" cy="263.86" r="0.45" fill="#262626" stroke="none" stroke-width="0"/>
<circle cx="185.50" cy="252.98" r="0.45" fill="#262626" stroke="none" stroke-width="0"/>
<circle cx="184.59" cy="248.52" r="0.45" fill="#262626" stroke="none" stroke-width="0"/>
<circle cx="181.44" cy="256.08" r="0.45" fill="#262626" stroke="none" stroke-width="0"/>
<circle cx="183.12" cy="249.00" r="0.45" fill="#262626" stroke="none" stroke-width="0"/>
<circle cx="176.66" cy="247.71" r="0.45" fill="#262626" stroke="none" stroke-width="0"/>
<circle cx="179.09" cy="254.77" r="0.45" fill="#262626" stroke="none" stroke-width="0"/>
<circle cx="183.97" cy="249.34" r="0.45" fill="#262626" stroke="none" stroke-width="0"/>
<circle cx="174.64" cy="241.49" r="0.45" fill="#262626" stroke="none" stroke-width="0"/>
<circle cx="182.10" cy="239.73" r="0.45" fill="#262626" stroke="none" stroke-width="0"/>
<circle cx="179.02" cy="246.64" r="0.45" fill="#262626" stroke="none" stroke-width="0"/>
<circle cx="186.16" cy="248.61" r="0.45" fill="#262626" stroke="none" stroke-width="0"/>
<circle cx="180.53" cy="243.98" r="0.45" fill="#262626" stroke="none" stroke-width="0"/>
<circle cx="182.33" cy="258.71" r="0.45" fill="#262626" stroke="none" stroke-width="0"/>
<circle cx="181.09" cy="244.33" r="0.45" fill="#262626" stroke="none" stroke-width="0"/>
<circle cx="177.66" cy="249.16" r="0.45" fill="#262626" stroke="none" stroke-width="0"/>
<circle cx="179.56" cy="247.01" r="0.45" fill="#262626" stroke="none" stroke-width="0"/>
<circle cx="179.67" cy="256.33" r="0.45" fill="#262626" stroke="none" stroke-width="0"/>
<circle cx="187.28" cy="252.74" r="0.45" fill="#262626" stroke="none" stroke-width="0"/>
<circle cx="180.22" cy="260.49" r="0.45" fill="#262626" stroke="none" stroke-width="0"/>
<circle cx="179.75" cy="251.57" r="0.45" fill="#262626" stroke="none" stroke-width="0"/>
<circle cx="181.20" cy="247.48" r="0.45" fill="#262626" stroke="none" stroke-width="0"/>
<circle cx="186.64" cy="256.01" r="0.45" fill="#262626" stroke="none" stroke-width="0"/>
<circle cx="174.04" cy="244.93" r="0.45" fill="#262626" stroke="none" stroke-width="0"/>
<circle cx="176.11" cy="248.56" r="0.45" fill="#262626" stroke="none" stroke-width="0"/>
<circle cx="183.09" cy="234.81" r="0.45" fill="#262626" stroke="none" stroke-width="0"/>
<path d="M205.00,216.50 C205.30,216.50 205.63,219.82 205.90,222.00 C206.17,224.18 205.52,227.52 206.60,229.60 C207.68,231.68 210.90,231.77 212.40,234.50 C213.90,237.23 215.00,243.00 215.60,246.00 C216.20,249.00 216.33,249.78 216.00,252.50 C215.67,255.22 214.60,259.97 213.60,262.30 C212.60,264.63 211.43,265.52 210.00,266.50 C208.57,267.48 206.67,268.20 205.00,268.20 C203.33,268.20 201.43,267.48 200.00,266.50 C198.57,265.52 197.40,264.63 196.40,262.30 C195.40,259.97 194.33,255.22 194.00,252.50 C193.67,249.78 193.80,249.00 194.40,246.00 C195.00,243.00 196.10,237.23 197.60,234.50 C199.10,231.77 202.32,231.68 203.40,229.60 C204.48,227.52 203.83,224.18 204.10,222.00 C204.37,219.82 204.70,216.50 205.00,216.50 Z" fill="#f8b29c" stroke="#5a5a5a" stroke-width="0.3"/>
<line x1="205.00" y1="217.00" x2="205.00" y2="267.90" stroke="#3a3a3a" stroke-width="0.3"/>
<rect x="203.30" y="243.50" width="3.40" height="15.50" fill="#f2814f" stroke="#2a2a2a" stroke-width="0.3"/>
<line x1="203.30" y1="251.75" x2="206.70" y2="251.75" stroke="#111" stroke-width="0.4"/>
<circle cx="201.44" cy="241.34" r="0.45" fill="#262626" stroke="none" stroke-width="0"/>
<circle cx="199.26" cy="250.89" r="0.45" fill="#262626" stroke="none" stroke-width="0"/>
<circle cx="203.68" cy="247.88" r="0.45" fill="#262626" stroke="none" stroke-width="0"/>
<circle cx="205.01" cy="228.17" r="0.45" fill="#262626" stroke="none" stroke-width="0"/>
<circle cx="204.92" cy="226.27" r="0.45" fill="#262626" stroke="none" stroke-width="0"/>
<circle cx="204.24" cy="229.11" r="0.45" fill="#262626" stroke="none" stroke-width="0"/>
<circle cx="208.58" cy="244.65" r="0.45" fill="#262626" stroke="none" stroke-width="0"/>
<circle cx="203.54" cy="232.62" r="0.45" fill="#262626" stroke="none" stroke-width="0"/>
<circle cx="211.25" cy="250.30" r="0.45" fill="#262626" stroke="none" stroke-width="0"/>
<circle cx="204.00" cy="248.99" r="0.45" fill="#262626" stroke="none" stroke-width="0"/>
<circle cx="200.44" cy="263.32" r="0.45" fill="#262626" stroke="none" stroke-width="0"/>
<circle cx="202.99" cy="257.00" r="0.45" fill="#262626" stroke="none" stroke-width="0"/>
<circle cx="202.15" cy="233.75" r="0.45" fill="#262626" stroke="none" stroke-width="0"/>
<circle cx="208.06" cy="240.79" r="0.45" fill="#262626" stroke="none" stroke-width="0"/>
<circle cx="205.56" cy="235.56" r="0.45" fill="#262626" stroke="none" stroke-width="0"/>
<circle cx="203.73" cy="250.59" r="0.45" fill="#262626" stroke="none" stroke-width="0"/>
<circle cx="199.11" cy="248.21" r="0.45" fill="#262626" stroke="none" stroke-width="0"/>
<circle cx="204.55" cy="228.30" r="0.45" fill="#262626" stroke="none" stroke-width="0"/>
<circle cx="204.30" cy="251.62" r="0.45" fill="#262626" stroke="none" stroke-width="0"/>
<circle cx="205.70" cy="241.00" r="0.45" fill="#262626" stroke="none" stroke-width="0"/>
<circle cx="202.99" cy="245.52" r="0.45" fill="#262626" stroke="none" stroke-width="0"/>
<circle cx="206.99" cy="254.80" r="0.45" fill="#262626" stroke="none" stroke-width="0"/>
<circle cx="205.56" cy="238.33" r="0.45" fill="#262626" stroke="none" stroke-width="0"/>
<circle cx="209.55" cy="247.59" r="0.45" fill="#262626" stroke="none" stroke-width="0"/>
<circle cx="202.77" cy="252.90" r="0.45" fill="#262626" stroke="none" stroke-width="0"/>
<circle cx="201.76" cy="263.69" r="0.45" fill="#262626" stroke="none" stroke-width="0"/>
<circle cx="207.62" cy="244.46" r="0.45" fill="#262626" stroke="none" stroke-width="0"/>
<circle cx="204.93" cy="234.15" r="0.45" fill="#262626" stroke="none" stroke-width="0"/>
<circle cx="205.21" cy="226.45" r="0.45" fill="#262626" stroke="none" stroke-width="0"/>
<circle cx="205.69" cy="253.90" r="0.45" fill="#262626" stroke="none" stroke-width="0"/>
<circle cx="203.28" cy="257.66" r="0.45" fill="#262626" stroke="none" stroke-width="0"/>
<circle cx="205.93" cy="252.00" r="0.45" fill="#262626" stroke="none" stroke-width="0"/>
<circle cx="204.59" cy="249.07" r="0.45" fill="#262626" stroke="none" stroke-width="0"/>
<circle cx="210.71" cy="256.32" r="0.45" fill="#262626" stroke="none" stroke-width="0"/>
<circle cx="206.63" cy="246.14" r="0.45" fill="#262626" stroke="none" stroke-width="0"/>
<circle cx="205.29" cy="228.39" r="0.45" fill="#262626" stroke="none" stroke-width="0"/>
<circle cx="213.17" cy="250.79" r="0.45" fill="#262626" stroke="none" stroke-width="0"/>
<circle cx="202.87" cy="255.69" r="0.45" fill="#262626" stroke="none" stroke-width="0"/>
<circle cx="206.56" cy="243.43" r="0.45" fill="#262626" stroke="none" stroke-width="0"/>
<circle cx="204.96" cy="224.53" r="0.45" fill="#262626" stroke="none" stroke-width="0"/>
<circle cx="201.70" cy="234.96" r="0.45" fill="#262626" stroke="none" stroke-width="0"/>
<circle cx="205.40" cy="228.25" r="0.45" fill="#262626" stroke="none" stroke-width="0"/>
<circle cx="203.60" cy="232.94" r="0.45" fill="#262626" stroke="none" stroke-width="0"/>
<circle cx="209.16" cy="243.60" r="0.45" fill="#262626" stroke="none" stroke-width="0"/>
<circle cx="204.91" cy="229.89" r="0.45" fill="#262626" stroke="none" stroke-width="0"/>
<circle cx="209.72" cy="248.25" r="0.45" fill="#262626" stroke="none" stroke-width="0"/>
<circle cx="209.16" cy="255.61" r="0.45" fill="#262626" stroke="none" stroke-width="0"/>
<circle cx="204.33" cy="239.68" r="0.45" fill="#262626" stroke="none" stroke-width="0"/>
<circle cx="209.25" cy="242.54" r="0.45" fill="#262626" stroke="none" stroke-width="0"/>
<circle cx="201.66" cy="261.85" r="0.45" fill="#262626" stroke="none" stroke-width="0"/>
<circle cx="202.93" cy="235.35" r="0.45" fill="#262626" stroke="none" stroke-width="0"/>
<circle cx="204.89" cy="237.89" r="0.45" fill="#262626" stroke="none" stroke-width="0"/>
<circle cx="202.47" cy="249.31" r="0.45" fill="#262626" stroke="none" stroke-width="0"/>
<circle cx="204.95" cy="221.07" r="0.45" fill="#262626" stroke="none" stroke-width="0"/>
<circle cx="205.57" cy="242.89" r="0.45" fill="#262626" stroke="none" stroke-width="0"/>
<circle cx="206.59" cy="261.54" r="0.45" fill="#262626" stroke="none" stroke-width="0"/>
<circle cx="206.14" cy="247.32" r="0.45" fill="#262626" stroke="none" stroke-width="0"/>
<circle cx="198.76" cy="251.51" r="0.45" fill="#262626" stroke="none" stroke-width="0"/>
<circle cx="207.71" cy="258.68" r="0.45" fill="#262626" stroke="none" stroke-width="0"/>
<circle cx="208.02" cy="257.62" r="0.45" fill="#262626" stroke="none" stroke-width="0"/>
<circle cx="204.10" cy="243.64" r="0.45" fill="#262626" stroke="none" stroke-width="0"/>
<circle cx="205.46" cy="231.42" r="0.45" fill="#262626" stroke="none" stroke-width="0"/>
<circle cx="204.19" cy="228.51" r="0.45" fill="#262626" stroke="none" stroke-width="0"/>
<circle cx="202.06" cy="236.84" r="0.45" fill="#262626" stroke="none" stroke-width="0"/>
<circle cx="199.57" cy="241.91" r="0.45" fill="#262626" stroke="none" stroke-width="0"/>
<path d="M33.60,307.90 C34.43,307.90 35.38,312.15 36.10,315.00 C36.82,317.85 37.32,322.00 37.90,325.00 C38.48,328.00 39.13,330.40 39.60,333.00 C40.07,335.60 40.67,338.10 40.70,340.60 C40.73,343.10 40.40,345.85 39.80,348.00 C39.20,350.15 38.13,352.27 37.10,353.50 C36.07,354.73 34.77,355.40 33.60,355.40 C32.43,355.40 31.13,354.73 30.10,353.50 C29.07,352.27 28.00,350.15 27.40,348.00 C26.80,345.85 26.47,343.10 26.50,340.60 C26.53,338.10 27.13,335.60 27.60,333.00 C28.07,330.40 28.72,328.00 29.30,325.00 C29.88,322.00 30.38,317.85 31.10,315.00 C31.82,312.15 32.77,307.90 33.60,307.90 Z" fill="#f4878a" stroke="#5a5a5a" stroke-width="0.3"/>
<line x1="33.60" y1="308.40" x2="33.60" y2="355.10" stroke="#3a3a3a" stroke-width="0.3"/>
<rect x="31.90" y="332.00" width="3.40" height="15.00" fill="#d8282c" stroke="#2a2a2a" stroke-width="0.3"/>
<line x1="31.90" y1="340.00" x2="35.30" y2="340.00" stroke="#111" stroke-width="0.4"/>
<circle cx="36.55" cy="327.28" r="0.45" fill="#262626" stroke="none" stroke-width="0"/>
<circle cx="34.37" cy="322.87" r="0.45" fill="#262626" stroke="none" stroke-width="0"/>
<circle cx="32.72" cy="320.55" r="0.45" fill="#262626" stroke="none" stroke-width="0"/>
<circle cx="32.89" cy="354.12" r="0.45" fill="#262626" stroke="none" stroke-width="0"/>
<circle cx="33.36" cy="339.14" r="0.45" fill="#262626" stroke="none" stroke-width="0"/>
<circle cx="33.57" cy="334.47" r="0.45" fill="#262626" stroke="none" stroke-width="0"/>
<circle cx="35.20" cy="325.90" r="0.45" fill="#262626" stroke="none" stroke-width="0"/>
<circle cx="32.65" cy="320.82" r="0.45" fill="#262626" stroke="none" stroke-width="0"/>
<circle cx="33.02" cy="315.06" r="0.45" fill="#262626" stroke="none" stroke-width="0"/>
<circle cx="36.46" cy="333.20" r="0.45" fill="#262626" stroke="none" stroke-width="0"/>
<circle cx="30.99" cy="332.37" r="0.45" fill="#262626" stroke="none" stroke-width="0"/>
<circle cx="37.32" cy="328.45" r="0.45" fill="#262626" stroke="none" stroke-width="0"/>
<circle cx="33.95" cy="319.07" r="0.45" fill="#262626" stroke="none" stroke-width="0"/>
<circle cx="34.48" cy="332.32" r="0.45" fill="#262626" stroke="none" stroke-width="0"/>
<circle cx="34.62" cy="331.13" r="0.45" fill="#262626" stroke="none" stroke-width="0"/>
<circle cx="34.48" cy="335.64" r="0.45" fill="#262626" stroke="none" stroke-width="0"/>
<circle cx="34.06" cy="346.63" r="0.45" fill="#262626" stroke="none" stroke-width="0"/>
<circle cx="31.39" cy="323.66" r="0.45" fill="#262626" stroke="none" stroke-width="0"/>
<circle cx="33.54" cy="348.79" r="0.45" fill="#262626" stroke="none" stroke-width="0"/>
<circle cx="36.17" cy="325.97" r="0.45" fill="#262626" stroke="none" stroke-width="0"/>
<circle cx="35.10" cy="337.67" r="0.45" fill="#262626" stroke="none" stroke-width="0"/>
<circle cx="32.26" cy="345.82" r="0.45" fill="#262626" stroke="none" stroke-width="0"/>
<circle cx="36.06" cy="331.70" r="0.45" fill="#262626" stroke="none" stroke-width="0"/>
<circle cx="34.66" cy="323.31" r="0.45" fill="#262626" stroke="none" stroke-width="0"/>
<circle cx="34.26" cy="321.30" r="0.45" fill="#262626" stroke="none" stroke-width="0"/>
<circle cx="37.72" cy="340.53" r="0.45" fill="#262626" stroke="none" stroke-width="0"/>
<circle cx="33.62" cy="344.49" r="0.45" fill="#262626" stroke="none" stroke-width="0"/>
<circle cx="31.86" cy="326.13" r="0.45" fill="#262626" stroke="none" stroke-width="0"/>
<circle cx="33.65" cy="336.44" r="0.45" fill="#262626" stroke="none" stroke-width="0"/>
<circle cx="35.19" cy="319.65" r="0.45" fill="#262626" stroke="none" stroke-width="0"/>
<circle cx="34.84" cy="335.90" r="0.45" fill="#262626" stroke="none" stroke-width="0"/>
<circle cx="32.39" cy="327.02" r="0.45" fill="#262626" stroke="none" stroke-width="0"/>
<circle cx="33.29" cy="313.88" r="0.45" fill="#262626" stroke="none" stroke-width="0"/>
<circle cx="33.25" cy="328.75" r="0.45" fill="#262626" stroke="none" stroke-width="0"/>
<circle cx="35.71" cy="332.31" r="0.45" fill="#262626" stroke="none" stroke-width="0"/>
<circle cx="31.38" cy="346.23" r="0.45" fill="#262626" stroke="none" stroke-width="0"/>
<circle cx="31.45" cy="332.87" r="0.45" fill="#262626" stroke="none" stroke-width="0"/>
<circle cx="38.19" cy="339.62" r="0.45" fill="#262626" stroke="none" stroke-width="0"/>
<circle cx="34.83" cy="326.30" r="0.45" fill="#262626" stroke="none" stroke-width="0"/>
<circle cx="29.80" cy="329.89" r="0.45" fill="#262626" stroke="none" stroke-width="0"/>
<circle cx="32.58" cy="342.12" r="0.45" fill="#262626" stroke="none" stroke-width="0"/>
<circle cx="33.36" cy="324.95" r="0.45" fill="#262626" stroke="none" stroke-width="0"/>
<circle cx="33.21" cy="327.47" r="0.45" fill="#262626" stroke="none" stroke-width="0"/>
<circle cx="33.15" cy="334.28" r="0.45" fill="#262626" stroke="none" stroke-width="0"/>
<circle cx="32.23" cy="337.90" r="0.45" fill="#262626" stroke="none" stroke-width="0"/>
<circle cx="31.80" cy="321.16" r="0.45" fill="#262626" stroke="none" stroke-width="0"/>
<circle cx="33.67" cy="321.81" r="0.45" fill="#262626" stroke="none" stroke-width="0"/>
<circle cx="35.46" cy="331.80" r="0.45" fill="#262626" stroke="none" stroke-width="0"/>
<circle cx="34.89" cy="335.83" r="0.45" fill="#262626" stroke="none" stroke-width="0"/>
<circle cx="31.06" cy="351.18" r="0.45" fill="#262626" stroke="none" stroke-width="0"/>
<circle cx="32.65" cy="314.65" r="0.45" fill="#262626" stroke="none" stroke-width="0"/>
<circle cx="33.98" cy="332.58" r="0.45" fill="#262626" stroke="none" stroke-width="0"/>
<circle cx="32.64" cy="341.57" r="0.45" fill="#262626" stroke="none" stroke-width="0"/>
<circle cx="29.49" cy="349.97" r="0.45" fill="#262626" stroke="none" stroke-width="0"/>
<circle cx="31.61" cy="344.23" r="0.45" fill="#262626" stroke="none" stroke-width="0"/>
<circle cx="29.50" cy="345.60" r="0.45" fill="#262626" stroke="none" stroke-width="0"/>
<circle cx="34.96" cy="349.99" r="0.45" fill="#262626" stroke="none" stroke-width="0"/>
<circle cx="33.89" cy="352.33" r="0.45" fill="#262626" stroke="none" stroke-width="0"/>
<circle cx="36.40" cy="325.29" r="0.45" fill="#262626" stroke="none" stroke-width="0"/>
<circle cx="30.50" cy="334.15" r="0.45" fill="#262626" stroke="none" stroke-width="0"/>
<circle cx="33.58" cy="338.30" r="0.45" fill="#262626" stroke="none" stroke-width="0"/>
<circle cx="31.23" cy="335.01" r="0.45" fill="#262626" stroke="none" stroke-width="0"/>
<circle cx="33.88" cy="322.65" r="0.45" fill="#262626" stroke="none" stroke-width="0"/>
<circle cx="30.98" cy="334.46" r="0.45" fill="#262626" stroke="none" stroke-width="0"/>
<circle cx="34.96" cy="334.09" r="0.45" fill="#262626" stroke="none" stroke-width="0"/>
<path d="M50.80,310.00 C51.97,310.00 52.80,311.53 54.30,314.00 C55.80,316.47 59.02,321.80 59.80,324.80 C60.58,327.80 59.42,329.47 59.00,332.00 C58.58,334.53 58.00,337.33 57.30,340.00 C56.60,342.67 55.55,345.75 54.80,348.00 C54.05,350.25 53.47,352.20 52.80,353.50 C52.13,354.80 51.47,355.80 50.80,355.80 C50.13,355.80 49.47,354.80 48.80,353.50 C48.13,352.20 47.55,350.25 46.80,348.00 C46.05,345.75 45.00,342.67 44.30,340.00 C43.60,337.33 43.02,334.53 42.60,332.00 C42.18,329.47 41.02,327.80 41.80,324.80 C42.58,321.80 45.80,316.47 47.30,314.00 C48.80,311.53 49.63,310.00 50.80,310.00 Z" fill="#8dbbe1" stroke="#5a5a5a" stroke-width="0.3"/>
<line x1="50.80" y1="310.50" x2="50.80" y2="355.50" stroke="#3a3a3a" stroke-width="0.3"/>
<rect x="49.10" y="324.80" width="3.40" height="12.60" fill="#3474b4" stroke="#2a2a2a" stroke-width="0.3"/>
<line x1="49.10" y1="331.60" x2="52.50" y2="331.60" stroke="#111" stroke-width="0.4"/>
<circle cx="49.85" cy="331.58" r="0.45" fill="#262626" stroke="none" stroke-width="0"/>
<circle cx="54.06" cy="322.70" r="0.45" fill="#262626" stroke="none" stroke-width="0"/>
<circle cx="50.81" cy="314.31" r="0.45" fill="#262626" stroke="none" stroke-width="0"/>
<circle cx="48.29" cy="344.98" r="0.45" fill="#262626" stroke="none" stroke-width="0"/>
<circle cx="51.63" cy="333.69" r="0.45" fill="#262626" stroke="none" stroke-width="0"/>
<circle cx="50.20" cy="317.82" r="0.45" fill="#262626" stroke="none" stroke-width="0"/>
<circle cx="50.51" cy="337.67" r="0.45" fill="#262626" stroke="none" stroke-width="0"/>
<circle cx="48.24" cy="338.33" r="0.45" fill="#262626" stroke="none" stroke-width="0"/>
<circle cx="46.82" cy="326.03" r="0.45" fill="#262626" stroke="none" stroke-width="0"/>
<circle cx="54.99" cy="332.55" r="0.45" fill="#262626" stroke="none" stroke-width="0"/>
<circle cx="52.93" cy="334.58" r="0.45" fill="#262626" stroke="none" stroke-width="0"/>
<circle cx="52.86" cy="329.81" r="0.45" fill="#262626" stroke="none" stroke-width="0"/>
<circle cx="49.36" cy="321.17" r="0.45" fill="#262626" stroke="none" stroke-width="0"/>
<circle cx="52.38" cy="336.82" r="0.45" fill="#262626" stroke="none" stroke-width="0"/>
<circle cx="46.68" cy="330.68" r="0.45" fill="#262626" stroke="none" stroke-width="0"/>
<circle cx="48.17" cy="326.85" r="0.45" fill="#262626" stroke="none" stroke-width="0"/>
<circle cx="53.64" cy="327.25" r="0.45" fill="#262626" stroke="none" stroke-width="0"/>
<circle cx="54.80" cy="324.84" r="0.45" fill="#262626" stroke="none" stroke-width="0"/>
<circle cx="47.82" cy="344.06" r="0.45" fill="#262626" stroke="none" stroke-width="0"/>
<circle cx="50.74" cy="329.70" r="0.45" fill="#262626" stroke="none" stroke-width="0"/>
<circle cx="50.49" cy="316.41" r="0.45" fill="#262626" stroke="none" stroke-width="0"/>
<circle cx="48.65" cy="345.40" r="0.45" fill="#262626" stroke="none" stroke-width="0"/>
<circle cx="47.51" cy="334.75" r="0.45" fill="#262626" stroke="none" stroke-width="0"/>
<circle cx="54.36" cy="334.29" r="0.45" fill="#262626" stroke="none" stroke-width="0"/>
<circle cx="44.15" cy="324.96" r="0.45" fill="#262626" stroke="none" stroke-width="0"/>
<circle cx="51.03" cy="320.31" r="0.45" fill="#262626" stroke="none" stroke-width="0"/>
<circle cx="48.59" cy="315.80" r="0.45" fill="#262626" stroke="none" stroke-width="0"/>
<circle cx="54.96" cy="332.34" r="0.45" fill="#262626" stroke="none" stroke-width="0"/>
<circle cx="50.04" cy="330.64" r="0.45" fill="#262626" stroke="none" stroke-width="0"/>
<circle cx="47.24" cy="335.84" r="0.45" fill="#262626" stroke="none" stroke-width="0"/>
<circle cx="48.10" cy="334.32" r="0.45" fill="#262626" stroke="none" stroke-width="0"/>
<circle cx="55.37" cy="335.06" r="0.45" fill="#262626" stroke="none" stroke-width="0"/>
<circle cx="51.08" cy="318.69" r="0.45" fill="#262626" stroke="none" stroke-width="0"/>
<circle cx="47.88" cy="334.99" r="0.45" fill="#262626" stroke="none" stroke-width="0"/>
<circle cx="57.50" cy="326.90" r="0.45" fill="#262626" stroke="none" stroke-width="0"/>
<circle cx="50.06" cy="353.84" r="0.45" fill="#262626" stroke="none" stroke-width="0"/>
<circle cx="54.88" cy="337.73" r="0.45" fill="#262626" stroke="none" stroke-width="0"/>
<circle cx="51.69" cy="325.99" r="0.45" fill="#262626" stroke="none" stroke-width="0"/>
<circle cx="50.12" cy="317.97" r="0.45" fill="#262626" stroke="none" stroke-width="0"/>
<circle cx="51.38" cy="336.82" r="0.45" fill="#262626" stroke="none" stroke-width="0"/>
<circle cx="47.57" cy="339.93" r="0.45" fill="#262626" stroke="none" stroke-width="0"/>
<circle cx="54.27" cy="328.95" r="0.45" fill="#262626" stroke="none" stroke-width="0"/>
<circle cx="50.47" cy="334.43" r="0.45" fill="#262626" stroke="none" stroke-width="0"/>
<circle cx="56.75" cy="330.24" r="0.45" fill="#262626" stroke="none" stroke-width="0"/>
<circle cx="45.48" cy="334.18" r="0.45" fill="#262626" stroke="none" stroke-width="0"/>
<circle cx="49.79" cy="340.80" r="0.45" fill="#262626" stroke="none" stroke-width="0"/>
<circle cx="48.35" cy="330.94" r="0.45" fill="#262626" stroke="none" stroke-width="0"/>
<circle cx="49.43" cy="331.16" r="0.45" fill="#262626" stroke="none" stroke-width="0"/>
<circle cx="51.61" cy="320.57" r="0.45" fill="#262626" stroke="none" stroke-width="0"/>
<circle cx="52.89" cy="321.23" r="0.45" fill="#262626" stroke="none" stroke-width="0"/>
<circle cx="52.18" cy="316.58" r="0.45" fill="#262626" stroke="none" stroke-width="0"/>
<circle cx="50.79" cy="341.10" r="0.45" fill="#262626" stroke="none" stroke-width="0"/>
<circle cx="49.05" cy="337.85" r="0.45" fill="#262626" stroke="none" stroke-width="0"/>
<circle cx="50.35" cy="338.72" r="0.45" fill="#262626" stroke="none" stroke-width="0"/>
<circle cx="56.33" cy="325.82" r="0.45" fill="#262626" stroke="none" stroke-width="0"/>
<circle cx="49.83" cy="330.21" r="0.45" fill="#262626" stroke="none" stroke-width="0"/>
<circle cx="50.14" cy="343.18" r="0.45" fill="#262626" stroke="none" stroke-width="0"/>
<circle cx="48.25" cy="336.63" r="0.45" fill="#262626" stroke="none" stroke-width="0"/>
<circle cx="49.44" cy="342.48" r="0.45" fill="#262626" stroke="none" stroke-width="0"/>
<circle cx="54.62" cy="318.46" r="0.45" fill="#262626" stroke="none" stroke-width="0"/>
<circle cx="55.70" cy="323.95" r="0.45" fill="#262626" stroke="none" stroke-width="0"/>
<circle cx="51.06" cy="351.49" r="0.45" fill="#262626" stroke="none" stroke-width="0"/>
<circle cx="48.54" cy="315.13" r="0.45" fill="#262626" stroke="none" stroke-width="0"/>
<circle cx="49.90" cy="325.13" r="0.45" fill="#262626" stroke="none" stroke-width="0"/>
<circle cx="55.55" cy="335.12" r="0.45" fill="#262626" stroke="none" stroke-width="0"/>
<path d="M68.30,305.80 C69.13,305.80 69.67,307.63 70.80,310.00 C71.93,312.37 74.12,316.67 75.10,320.00 C76.08,323.33 76.58,327.00 76.70,330.00 C76.82,333.00 76.45,335.50 75.80,338.00 C75.15,340.50 73.72,343.00 72.80,345.00 C71.88,347.00 71.05,348.98 70.30,350.00 C69.55,351.02 68.97,351.10 68.30,351.10 C67.63,351.10 67.05,351.02 66.30,350.00 C65.55,348.98 64.72,347.00 63.80,345.00 C62.88,343.00 61.45,340.50 60.80,338.00 C60.15,335.50 59.78,333.00 59.90,330.00 C60.02,327.00 60.52,323.33 61.50,320.00 C62.48,316.67 64.67,312.37 65.80,310.00 C66.93,307.63 67.47,305.80 68.30,305.80 Z" fill="#90d29c" stroke="#5a5a5a" stroke-width="0.3"/>
<line x1="68.30" y1="306.30" x2="68.30" y2="350.80" stroke="#3a3a3a" stroke-width="0.3"/>
<rect x="66.60" y="323.70" width="3.40" height="12.70" fill="#34a044" stroke="#2a2a2a" stroke-width="0.3"/>
<line x1="66.60" y1="330.55" x2="70.00" y2="330.55" stroke="#111" stroke-width="0.4"/>
<circle cx="67.78" cy="331.18" r="0.45" fill="#262626" stroke="none" stroke-width="0"/>
<circle cx="65.79" cy="331.34" r="0.45" fill="#262626" stroke="none" stroke-width="0"/>
<circle cx="70.90" cy="337.79" r="0.45" fill="#262626" stroke="none" stroke-width="0"/>
<circle cx="65.33" cy="333.14" r="0.45" fill="#262626" stroke="none" stroke-width="0"/>
<circle cx="66.94" cy="330.07" r="0.45" fill="#262626" stroke="none" stroke-width="0"/>
<circle cx="72.61" cy="323.23" r="0.45" fill="#262626" stroke="none" stroke-width="0"/>
<circle cx="66.77" cy="348.86" r="0.45" fill="#262626" stroke="none" stroke-width="0"/>
<circle cx="68.94" cy="339.51" r="0.45" fill="#262626" stroke="none" stroke-width="0"/>
<circle cx="66.64" cy="326.86" r="0.45" fill="#262626" stroke="none" stroke-width="0"/>
<circle cx="68.00" cy="333.69" r="0.45" fill="#262626" stroke="none" stroke-width="0"/>
<circle cx="69.50" cy="333.98" r="0.45" fill="#262626" stroke="none" stroke-width="0"/>
<circle cx="70.03" cy="319.05" r="0.45" fill="#262626" stroke="none" stroke-width="0"/>
<circle cx="70.65" cy="346.67" r="0.45" fill="#262626" stroke="none" stroke-width="0"/>
<circle cx="63.43" cy="332.16" r="0.45" fill="#262626" stroke="none" stroke-width="0"/>
<circle cx="67.33" cy="309.77" r="0.45" fill="#262626" stroke="none" stroke-width="0"/>
<circle cx="67.32" cy="343.40" r="0.45" fill="#262626" stroke="none" stroke-width="0"/>
<circle cx="71.95" cy="326.47" r="0.45" fill="#262626" stroke="none" stroke-width="0"/>
<circle cx="68.63" cy="325.10" r="0.45" fill="#262626" stroke="none" stroke-width="0"/>
<circle cx="63.89" cy="328.18" r="0.45" fill="#262626" stroke="none" stroke-width="0"/>
<circle cx="71.39" cy="331.48" r="0.45" fill="#262626" stroke="none" stroke-width="0"/>
<circle cx="66.39" cy="320.00" r="0.45" fill="#262626" stroke="none" stroke-width="0"/>
<circle cx="63.34" cy="327.63" r="0.45" fill="#262626" stroke="none" stroke-width="0"/>
<circle cx="71.11" cy="329.55" r="0.45" fill="#262626" stroke="none" stroke-width="0"/>
<circle cx="68.53" cy="333.25" r="0.45" fill="#262626" stroke="none" stroke-width="0"/>
<circle cx="65.63" cy="339.31" r="0.45" fill="#262626" stroke="none" stroke-width="0"/>
<circle cx="67.35" cy="331.09" r="0.45" fill="#262626" stroke="none" stroke-width="0"/>
<circle cx="64.65" cy="331.87" r="0.45" fill="#262626" stroke="none" stroke-width="0"/>
<circle cx="64.65" cy="336.55" r="0.45" fill="#262626" stroke="none" stroke-width="0"/>
<circle cx="70.51" cy="320.39" r="0.45" fill="#262626" stroke="none" stroke-width="0"/>
<circle cx="68.01" cy="343.82" r="0.45" fill="#262626" stroke="none" stroke-width="0"/>
<circle cx="66.26" cy="327.66" r="0.45" fill="#262626" stroke="none" stroke-width="0"/>
<circle cx="69.09" cy="323.97" r="0.45" fill="#262626" stroke="none" stroke-width="0"/>
<circle cx="65.29" cy="320.84" r="0.45" fill="#262626" stroke="none" stroke-width="0"/>
<circle cx="65.34" cy="328.63" r="0.45" fill="#262626" stroke="none" stroke-width="0"/>
<circle cx="71.05" cy="333.02" r="0.45" fill="#262626" stroke="none" stroke-width="0"/>
<circle cx="68.17" cy="336.61" r="0.45" fill="#262626" stroke="none" stroke-width="0"/>
<circle cx="67.85" cy="325.99" r="0.45" fill="#262626" stroke="none" stroke-width="0"/>
<circle cx="68.81" cy="309.98" r="0.45" fill="#262626" stroke="none" stroke-width="0"/>
<circle cx="66.99" cy="325.57" r="0.45" fill="#262626" stroke="none" stroke-width="0"/>
<circle cx="68.06" cy="316.52" r="0.45" fill="#262626" stroke="none" stroke-width="0"/>
<circle cx="67.49" cy="331.45" r="0.45" fill="#262626" stroke="none" stroke-width="0"/>
<circle cx="69.39" cy="339.89" r="0.45" fill="#262626" stroke="none" stroke-width="0"/>
<circle cx="68.46" cy="322.96" r="0.45" fill="#262626" stroke="none" stroke-width="0"/>
<circle cx="68.40" cy="341.73" r="0.45" fill="#262626" stroke="none" stroke-width="0"/>
<circle cx="63.81" cy="331.89" r="0.45" fill="#262626" stroke="none" stroke-width="0"/>
<circle cx="68.02" cy="329.39" r="0.45" fill="#262626" stroke="none" stroke-width="0"/>
<circle cx="67.74" cy="327.34" r="0.45" fill="#262626" stroke="none" stroke-width="0"/>
<circle cx="68.58" cy="331.49" r="0.45" fill="#262626" stroke="none" stroke-width="0"/>
<circle cx="65.31" cy="329.40" r="0.45" fill="#262626" stroke="none" stroke-width="0"/>
<circle cx="73.48" cy="328.30" r="0.45" fill="#262626" stroke="none" stroke-width="0"/>
<circle cx="63.29" cy="327.68" r="0.45" fill="#262626" stroke="none" stroke-width="0"/>
<circle cx="68.37" cy="309.44" r="0.45" fill="#262626" stroke="none" stroke-width="0"/>
<circle cx="66.10" cy="314.74" r="0.45" fill="#262626" stroke="none" stroke-width="0"/>
<circle cx="68.06" cy="317.98" r="0.45" fill="#262626" stroke="none" stroke-width="0"/>
<circle cx="68.26" cy="348.06" r="0.45" fill="#262626" stroke="none" stroke-width="0"/>
<circle cx="67.84" cy="328.70" r="0.45" fill="#262626" stroke="none" stroke-width="0"/>
<circle cx="67.91" cy="329.65" r="0.45" fill="#262626" stroke="none" stroke-width="0"/>
<circle cx="71.95" cy="335.08" r="0.45" fill="#262626" stroke="none" stroke-width="0"/>
<circle cx="67.76" cy="334.30" r="0.45" fill="#262626" stroke="none" stroke-width="0"/>
<circle cx="72.24" cy="333.04" r="0.45" fill="#262626" stroke="none" stroke-width="0"/>
<circle cx="66.51" cy="319.90" r="0.45" fill="#262626" stroke="none" stroke-width="0"/>
<circle cx="69.75" cy="332.30" r="0.45" fill="#262626" stroke="none" stroke-width="0"/>
<circle cx="68.94" cy="332.87" r="0.45" fill="#262626" stroke="none" stroke-width="0"/>
<circle cx="68.17" cy="338.35" r="0.45" fill="#262626" stroke="none" stroke-width="0"/>
<circle cx="72.95" cy="337.59" r="0.45" fill="#262626" stroke="none" stroke-width="0"/>
<path d="M109.70,307.00 C110.73,307.00 111.72,310.90 112.80,314.30 C113.88,317.70 115.27,323.32 116.20,327.40 C117.13,331.48 118.33,335.53 118.40,338.80 C118.47,342.07 117.47,344.55 116.60,347.00 C115.73,349.45 114.35,352.00 113.20,353.50 C112.05,355.00 110.87,356.00 109.70,356.00 C108.53,356.00 107.35,355.00 106.20,353.50 C105.05,352.00 103.67,349.45 102.80,347.00 C101.93,344.55 100.93,342.07 101.00,338.80 C101.07,335.53 102.27,331.48 103.20,327.40 C104.13,323.32 105.52,317.70 106.60,314.30 C107.68,310.90 108.67,307.00 109.70,307.00 Z" fill="#a4c9e5" stroke="#5a5a5a" stroke-width="0.3"/>
<line x1="109.70" y1="307.50" x2="109.70" y2="355.70" stroke="#3a3a3a" stroke-width="0.3"/>
<rect x="108.00" y="325.80" width="3.40" height="18.00" fill="#5597c8" stroke="#2a2a2a" stroke-width="0.3"/>
<line x1="108.00" y1="335.30" x2="111.40" y2="335.30" stroke="#111" stroke-width="0.4"/>
<circle cx="110.09" cy="332.30" r="0.45" fill="#262626" stroke="none" stroke-width="0"/>
<circle cx="109.49" cy="346.96" r="0.45" fill="#262626" stroke="none" stroke-width="0"/>
<circle cx="110.30" cy="333.68" r="0.45" fill="#262626" stroke="none" stroke-width="0"/>
<circle cx="109.76" cy="323.88" r="0.45" fill="#262626" stroke="none" stroke-width="0"/>
<circle cx="112.21" cy="336.63" r="0.45" fill="#262626" stroke="none" stroke-width="0"/>
<circle cx="108.86" cy="319.63" r="0.45" fill="#262626" stroke="none" stroke-width="0"/>
<circle cx="111.14" cy="319.43" r="0.45" fill="#262626" stroke="none" stroke-width="0"/>
<circle cx="104.50" cy="338.32" r="0.45" fill="#262626" stroke="none" stroke-width="0"/>
<circle cx="112.58" cy="351.36" r="0.45" fill="#262626" stroke="none" stroke-width="0"/>
<circle cx="110.58" cy="337.25" r="0.45" fill="#262626" stroke="none" stroke-width="0"/>
<circle cx="105.98" cy="322.75" r="0.45" fill="#262626" stroke="none" stroke-width="0"/>
<circle cx="105.35" cy="334.18" r="0.45" fill="#262626" stroke="none" stroke-width="0"/>
<circle cx="108.24" cy="324.11" r="0.45" fill="#262626" stroke="none" stroke-width="0"/>
<circle cx="109.60" cy="315.01" r="0.45" fill="#262626" stroke="none" stroke-width="0"/>
<circle cx="112.45" cy="331.99" r="0.45" fill="#262626" stroke="none" stroke-width="0"/>
<circle cx="110.70" cy="333.96" r="0.45" fill="#262626" stroke="none" stroke-width="0"/>
<circle cx="110.86" cy="333.49" r="0.45" fill="#262626" stroke="none" stroke-width="0"/>
<circle cx="108.09" cy="332.42" r="0.45" fill="#262626" stroke="none" stroke-width="0"/>
<circle cx="111.86" cy="354.00" r="0.45" fill="#262626" stroke="none" stroke-width="0"/>
<circle cx="111.25" cy="343.10" r="0.45" fill="#262626" stroke="none" stroke-width="0"/>
<circle cx="107.86" cy="328.45" r="0.45" fill="#262626" stroke="none" stroke-width="0"/>
<circle cx="106.22" cy="327.62" r="0.45" fill="#262626" stroke="none" stroke-width="0"/>
<circle cx="108.96" cy="340.50" r="0.45" fill="#262626" stroke="none" stroke-width="0"/>
<circle cx="108.91" cy="343.35" r="0.45" fill="#262626" stroke="none" stroke-width="0"/>
<circle cx="111.90" cy="349.14" r="0.45" fill="#262626" stroke="none" stroke-width="0"/>
<circle cx="109.34" cy="309.81" r="0.45" fill="#262626" stroke="none" stroke-width="0"/>
<circle cx="109.52" cy="346.21" r="0.45" fill="#262626" stroke="none" stroke-width="0"/>
<circle cx="109.26" cy="351.15" r="0.45" fill="#262626" stroke="none" stroke-width="0"/>
<circle cx="110.19" cy="318.36" r="0.45" fill="#262626" stroke="none" stroke-width="0"/>
<circle cx="107.84" cy="340.90" r="0.45" fill="#262626" stroke="none" stroke-width="0"/>
<circle cx="109.01" cy="319.22" r="0.45" fill="#262626" stroke="none" stroke-width="0"/>
<circle cx="111.13" cy="349.62" r="0.45" fill="#262626" stroke="none" stroke-width="0"/>
<circle cx="108.48" cy="320.90" r="0.45" fill="#262626" stroke="none" stroke-width="0"/>
<circle cx="107.15" cy="320.01" r="0.45" fill="#262626" stroke="none" stroke-width="0"/>
<circle cx="106.92" cy="341.52" r="0.45" fill="#262626" stroke="none" stroke-width="0"/>
<circle cx="109.33" cy="334.90" r="0.45" fill="#262626" stroke="none" stroke-width="0"/>
<circle cx="110.99" cy="324.12" r="0.45" fill="#262626" stroke="none" stroke-width="0"/>
<circle cx="110.36" cy="321.53" r="0.45" fill="#262626" stroke="none" stroke-width="0"/>
<circle cx="109.36" cy="320.82" r="0.45" fill="#262626" stroke="none" stroke-width="0"/>
<circle cx="108.38" cy="324.98" r="0.45" fill="#262626" stroke="none" stroke-width="0"/>
<circle cx="111.36" cy="350.21" r="0.45" fill="#262626" stroke="none" stroke-width="0"/>
<circle cx="112.63" cy="328.10" r="0.45" fill="#262626" stroke="none" stroke-width="0"/>
<circle cx="109.14" cy="324.90" r="0.45" fill="#262626" stroke="none" stroke-width="0"/>
<circle cx="110.70" cy="343.66" r="0.45" fill="#262626" stroke="none" stroke-width="0"/>
<circle cx="113.02" cy="319.97" r="0.45" fill="#262626" stroke="none" stroke-width="0"/>
<circle cx="108.30" cy="324.99" r="0.45" fill="#262626" stroke="none" stroke-width="0"/>
<circle cx="108.37" cy="340.71" r="0.45" fill="#262626" stroke="none" stroke-width="0"/>
<circle cx="106.25" cy="327.85" r="0.45" fill="#262626" stroke="none" stroke-width="0"/>
<circle cx="110.03" cy="319.40" r="0.45" fill="#262626" stroke="none" stroke-width="0"/>
<circle cx="110.26" cy="326.07" r="0.45" fill="#262626" stroke="none" stroke-width="0"/>
<circle cx="109.41" cy="330.12" r="0.45" fill="#262626" stroke="none" stroke-width="0"/>
<circle cx="109.62" cy="349.23" r="0.45" fill="#262626" stroke="none" stroke-width="0"/>
<circle cx="112.99" cy="335.26" r="0.45" fill="#262626" stroke="none" stroke-width="0"/>
<circle cx="107.59" cy="323.81" r="0.45" fill="#262626" stroke="none" stroke-width="0"/>
<circle cx="112.09" cy="346.11" r="0.45" fill="#262626" stroke="none" stroke-width="0"/>
<circle cx="107.67" cy="326.30" r="0.45" fill="#262626" stroke="none" stroke-width="0"/>
<circle cx="114.44" cy="339.66" r="0.45" fill="#262626" stroke="none" stroke-width="0"/>
<circle cx="113.02" cy="324.36" r="0.45" fill="#262626" stroke="none" stroke-width="0"/>
<circle cx="110.39" cy="344.85" r="0.45" fill="#262626" stroke="none" stroke-width="0"/>
<circle cx="106.33" cy="331.49" r="0.45" fill="#262626" stroke="none" stroke-width="0"/>
<circle cx="111.86" cy="315.81" r="0.45" fill="#262626" stroke="none" stroke-width="0"/>
<circle cx="110.90" cy="325.91" r="0.45" fill="#262626" stroke="none" stroke-width="0"/>
<circle cx="111.87" cy="326.56" r="0.45" fill="#262626" stroke="none" stroke-width="0"/>
<circle cx="108.09" cy="335.79" r="0.45" fill="#262626" stroke="none" stroke-width="0"/>
<circle cx="110.88" cy="323.51" r="0.45" fill="#262626" stroke="none" stroke-width="0"/>
<path d="M134.50,317.60 C136.00,317.60 137.43,318.77 139.00,320.00 C140.57,321.23 142.78,323.50 143.90,325.00 C145.02,326.50 145.68,327.67 145.70,329.00 C145.72,330.33 144.82,331.37 144.00,333.00 C143.18,334.63 141.88,336.47 140.80,338.80 C139.72,341.13 138.55,344.27 137.50,347.00 C136.45,349.73 135.50,355.20 134.50,355.20 C133.50,355.20 132.55,349.73 131.50,347.00 C130.45,344.27 129.28,341.13 128.20,338.80 C127.12,336.47 125.82,334.63 125.00,333.00 C124.18,331.37 123.28,330.33 123.30,329.00 C123.32,327.67 123.98,326.50 125.10,325.00 C126.22,323.50 128.43,321.23 130.00,320.00 C131.57,318.77 133.00,317.60 134.50,317.60 Z" fill="#6a8696" stroke="#5a5a5a" stroke-width="0.3"/>
<line x1="134.50" y1="318.10" x2="134.50" y2="354.90" stroke="#3a3a3a" stroke-width="0.3"/>
<rect x="132.80" y="323.30" width="3.40" height="13.90" fill="#1c344e" stroke="#2a2a2a" stroke-width="0.3"/>
<line x1="132.80" y1="330.75" x2="136.20" y2="330.75" stroke="#111" stroke-width="0.4"/>
<circle cx="135.85" cy="333.47" r="0.45" fill="#262626" stroke="none" stroke-width="0"/>
<circle cx="131.78" cy="337.78" r="0.45" fill="#262626" stroke="none" stroke-width="0"/>
<circle cx="133.81" cy="321.61" r="0.45" fill="#262626" stroke="none" stroke-width="0"/>
<circle cx="138.06" cy="329.72" r="0.45" fill="#262626" stroke="none" stroke-width="0"/>
<circle cx="135.09" cy="338.40" r="0.45" fill="#262626" stroke="none" stroke-width="0"/>
<circle cx="135.74" cy="335.23" r="0.45" fill="#262626" stroke="none" stroke-width="0"/>
<circle cx="133.96" cy="326.97" r="0.45" fill="#262626" stroke="none" stroke-width="0"/>
<circle cx="139.54" cy="327.39" r="0.45" fill="#262626" stroke="none" stroke-width="0"/>
<circle cx="137.44" cy="324.29" r="0.45" fill="#262626" stroke="none" stroke-width="0"/>
<circle cx="136.15" cy="324.88" r="0.45" fill="#262626" stroke="none" stroke-width="0"/>
<circle cx="133.61" cy="330.85" r="0.45" fill="#262626" stroke="none" stroke-width="0"/>
<circle cx="131.36" cy="343.07" r="0.45" fill="#262626" stroke="none" stroke-width="0"/>
<circle cx="138.89" cy="324.37" r="0.45" fill="#262626" stroke="none" stroke-width="0"/>
<circle cx="130.18" cy="334.17" r="0.45" fill="#262626" stroke="none" stroke-width="0"/>
<circle cx="135.30" cy="351.38" r="0.45" fill="#262626" stroke="none" stroke-width="0"/>
<circle cx="133.83" cy="326.09" r="0.45" fill="#262626" stroke="none" stroke-width="0"/>
<circle cx="132.69" cy="326.71" r="0.45" fill="#262626" stroke="none" stroke-width="0"/>
<circle cx="131.78" cy="336.68" r="0.45" fill="#262626" stroke="none" stroke-width="0"/>
<circle cx="130.79" cy="338.57" r="0.45" fill="#262626" stroke="none" stroke-width="0"/>
<circle cx="138.03" cy="327.60" r="0.45" fill="#262626" stroke="none" stroke-width="0"/>
<circle cx="133.79" cy="332.02" r="0.45" fill="#262626" stroke="none" stroke-width="0"/>
<circle cx="134.34" cy="336.08" r="0.45" fill="#262626" stroke="none" stroke-width="0"/>
<circle cx="128.07" cy="331.72" r="0.45" fill="#262626" stroke="none" stroke-width="0"/>
<circle cx="138.34" cy="339.37" r="0.45" fill="#262626" stroke="none" stroke-width="0"/>
<circle cx="134.78" cy="350.19" r="0.45" fill="#262626" stroke="none" stroke-width="0"/>
<circle cx="133.21" cy="331.20" r="0.45" fill="#262626" stroke="none" stroke-width="0"/>
<circle cx="135.57" cy="338.39" r="0.45" fill="#262626" stroke="none" stroke-width="0"/>
<circle cx="131.85" cy="326.12" r="0.45" fill="#262626" stroke="none" stroke-width="0"/>
<circle cx="134.60" cy="331.32" r="0.45" fill="#262626" stroke="none" stroke-width="0"/>
<circle cx="134.50" cy="341.93" r="0.45" fill="#262626" stroke="none" stroke-width="0"/>
<circle cx="137.00" cy="322.84" r="0.45" fill="#262626" stroke="none" stroke-width="0"/>
<circle cx="134.66" cy="332.59" r="0.45" fill="#262626" stroke="none" stroke-width="0"/>
<circle cx="133.79" cy="328.71" r="0.45" fill="#262626" stroke="none" stroke-width="0"/>
<circle cx="137.26" cy="331.79" r="0.45" fill="#262626" stroke="none" stroke-width="0"/>
<circle cx="134.93" cy="325.79" r="0.45" fill="#262626" stroke="none" stroke-width="0"/>
<circle cx="136.49" cy="327.76" r="0.45" fill="#262626" stroke="none" stroke-width="0"/>
<circle cx="132.81" cy="323.31" r="0.45" fill="#262626" stroke="none" stroke-width="0"/>
<circle cx="135.80" cy="330.98" r="0.45" fill="#262626" stroke="none" stroke-width="0"/>
<circle cx="134.20" cy="324.01" r="0.45" fill="#262626" stroke="none" stroke-width="0"/>
<circle cx="132.18" cy="328.43" r="0.45" fill="#262626" stroke="none" stroke-width="0"/>
<circle cx="140.09" cy="333.50" r="0.45" fill="#262626" stroke="none" stroke-width="0"/>
<circle cx="139.98" cy="333.60" r="0.45" fill="#262626" stroke="none" stroke-width="0"/>
<circle cx="139.97" cy="327.51" r="0.45" fill="#262626" stroke="none" stroke-width="0"/>
<circle cx="131.16" cy="331.34" r="0.45" fill="#262626" stroke="none" stroke-width="0"/>
<circle cx="137.37" cy="340.01" r="0.45" fill="#262626" stroke="none" stroke-width="0"/>
<circle cx="133.21" cy="321.18" r="0.45" fill="#262626" stroke="none" stroke-width="0"/>
<circle cx="133.68" cy="340.67" r="0.45" fill="#262626" stroke="none" stroke-width="0"/>
<circle cx="126.26" cy="329.10" r="0.45" fill="#262626" stroke="none" stroke-width="0"/>
<circle cx="135.35" cy="323.47" r="0.45" fill="#262626" stroke="none" stroke-width="0"/>
<circle cx="135.74" cy="350.97" r="0.45" fill="#262626" stroke="none" stroke-width="0"/>
<circle cx="128.58" cy="334.06" r="0.45" fill="#262626" stroke="none" stroke-width="0"/>
<circle cx="137.61" cy="330.59" r="0.45" fill="#262626" stroke="none" stroke-width="0"/>
<circle cx="135.11" cy="342.69" r="0.45" fill="#262626" stroke="none" stroke-width="0"/>
<circle cx="134.76" cy="328.86" r="0.45" fill="#262626" stroke="none" stroke-width="0"/>
<circle cx="135.57" cy="333.52" r="0.45" fill="#262626" stroke="none" stroke-width="0"/>
<circle cx="140.79" cy="329.51" r="0.45" fill="#262626" stroke="none" stroke-width="0"/>
<circle cx="133.13" cy="345.18" r="0.45" fill="#262626" stroke="none" stroke-width="0"/>
<circle cx="139.04" cy="330.04" r="0.45" fill="#262626" stroke="none" stroke-width="0"/>
<circle cx="140.64" cy="329.80" r="0.45" fill="#262626" stroke="none" stroke-width="0"/>
<circle cx="136.14" cy="334.30" r="0.45" fill="#262626" stroke="none" stroke-width="0"/>
<circle cx="132.65" cy="338.78" r="0.45" fill="#262626" stroke="none" stroke-width="0"/>
<circle cx="131.87" cy="329.92" r="0.45" fill="#262626" stroke="none" stroke-width="0"/>
<circle cx="135.73" cy="338.21" r="0.45" fill="#262626" stroke="none" stroke-width="0"/>
<circle cx="139.01" cy="326.62" r="0.45" fill="#262626" stroke="none" stroke-width="0"/>
<circle cx="131.97" cy="332.40" r="0.45" fill="#262626" stroke="none" stroke-width="0"/>
<path d="M181.70,309.40 C183.73,309.40 186.17,315.65 187.80,319.20 C189.43,322.75 191.50,326.60 191.50,330.70 C191.50,334.80 189.43,339.58 187.80,343.80 C186.17,348.02 183.73,356.00 181.70,356.00 C179.67,356.00 177.23,348.02 175.60,343.80 C173.97,339.58 171.90,334.80 171.90,330.70 C171.90,326.60 173.97,322.75 175.60,319.20 C177.23,315.65 179.67,309.40 181.70,309.40 Z" fill="#9adac6" stroke="#5a5a5a" stroke-width="0.3"/>
<line x1="181.70" y1="309.90" x2="181.70" y2="355.70" stroke="#3a3a3a" stroke-width="0.3"/>
<rect x="180.00" y="324.10" width="3.40" height="13.10" fill="#4cba94" stroke="#2a2a2a" stroke-width="0.3"/>
<line x1="180.00" y1="331.15" x2="183.40" y2="331.15" stroke="#111" stroke-width="0.4"/>
<circle cx="183.17" cy="326.23" r="0.45" fill="#262626" stroke="none" stroke-width="0"/>
<circle cx="184.79" cy="336.89" r="0.45" fill="#262626" stroke="none" stroke-width="0"/>
<circle cx="179.62" cy="323.96" r="0.45" fill="#262626" stroke="none" stroke-width="0"/>
<circle cx="179.69" cy="322.58" r="0.45" fill="#262626" stroke="none" stroke-width="0"/>
<circle cx="178.53" cy="338.43" r="0.45" fill="#262626" stroke="none" stroke-width="0"/>
<circle cx="179.00" cy="332.84" r="0.45" fill="#262626" stroke="none" stroke-width="0"/>
<circle cx="181.18" cy="327.22" r="0.45" fill="#262626" stroke="none" stroke-width="0"/>
<circle cx="182.34" cy="342.16" r="0.45" fill="#262626" stroke="none" stroke-width="0"/>
<circle cx="180.95" cy="314.90" r="0.45" fill="#262626" stroke="none" stroke-width="0"/>
<circle cx="184.71" cy="322.56" r="0.45" fill="#262626" stroke="none" stroke-width="0"/>
<circle cx="183.90" cy="341.06" r="0.45" fill="#262626" stroke="none" stroke-width="0"/>
<circle cx="183.32" cy="341.71" r="0.45" fill="#262626" stroke="none" stroke-width="0"/>
<circle cx="182.91" cy="348.05" r="0.45" fill="#262626" stroke="none" stroke-width="0"/>
<circle cx="184.91" cy="326.16" r="0.45" fill="#262626" stroke="none" stroke-width="0"/>
<circle cx="184.12" cy="331.78" r="0.45" fill="#262626" stroke="none" stroke-width="0"/>
<circle cx="181.14" cy="333.64" r="0.45" fill="#262626" stroke="none" stroke-width="0"/>
<circle cx="181.13" cy="328.98" r="0.45" fill="#262626" stroke="none" stroke-width="0"/>
<circle cx="177.83" cy="327.72" r="0.45" fill="#262626" stroke="none" stroke-width="0"/>
<circle cx="183.80" cy="341.44" r="0.45" fill="#262626" stroke="none" stroke-width="0"/>
<circle cx="182.11" cy="351.54" r="0.45" fill="#262626" stroke="none" stroke-width="0"/>
<circle cx="183.93" cy="333.40" r="0.45" fill="#262626" stroke="none" stroke-width="0"/>
<circle cx="182.87" cy="322.10" r="0.45" fill="#262626" stroke="none" stroke-width="0"/>
<circle cx="178.33" cy="330.80" r="0.45" fill="#262626" stroke="none" stroke-width="0"/>
<circle cx="181.85" cy="324.52" r="0.45" fill="#262626" stroke="none" stroke-width="0"/>
<circle cx="181.41" cy="326.06" r="0.45" fill="#262626" stroke="none" stroke-width="0"/>
<circle cx="180.89" cy="334.71" r="0.45" fill="#262626" stroke="none" stroke-width="0"/>
<circle cx="181.65" cy="321.94" r="0.45" fill="#262626" stroke="none" stroke-width="0"/>
<circle cx="179.53" cy="325.54" r="0.45" fill="#262626" stroke="none" stroke-width="0"/>
<circle cx="180.76" cy="324.25" r="0.45" fill="#262626" stroke="none" stroke-width="0"/>
<circle cx="182.56" cy="319.29" r="0.45" fill="#262626" stroke="none" stroke-width="0"/>
<circle cx="181.32" cy="348.37" r="0.45" fill="#262626" stroke="none" stroke-width="0"/>
<circle cx="185.88" cy="337.95" r="0.45" fill="#262626" stroke="none" stroke-width="0"/>
<circle cx="179.71" cy="317.46" r="0.45" fill="#262626" stroke="none" stroke-width="0"/>
<circle cx="184.23" cy="340.92" r="0.45" fill="#262626" stroke="none" stroke-width="0"/>
<circle cx="178.59" cy="335.61" r="0.45" fill="#262626" stroke="none" stroke-width="0"/>
<circle cx="185.68" cy="330.14" r="0.45" fill="#262626" stroke="none" stroke-width="0"/>
<circle cx="183.55" cy="344.33" r="0.45" fill="#262626" stroke="none" stroke-width="0"/>
<circle cx="184.75" cy="324.53" r="0.45" fill="#262626" stroke="none" stroke-width="0"/>
<circle cx="183.66" cy="329.24" r="0.45" fill="#262626" stroke="none" stroke-width="0"/>
<circle cx="186.26" cy="322.18" r="0.45" fill="#262626" stroke="none" stroke-width="0"/>
<circle cx="183.58" cy="334.65" r="0.45" fill="#262626" stroke="none" stroke-width="0"/>
<circle cx="182.54" cy="324.81" r="0.45" fill="#262626" stroke="none" stroke-width="0"/>
<circle cx="182.42" cy="334.07" r="0.45" fill="#262626" stroke="none" stroke-width="0"/>
<circle cx="183.75" cy="328.87" r="0.45" fill="#262626" stroke="none" stroke-width="0"/>
<circle cx="179.92" cy="328.42" r="0.45" fill="#262626" stroke="none" stroke-width="0"/>
<circle cx="182.99" cy="323.22" r="0.45" fill="#262626" stroke="none" stroke-width="0"/>
<circle cx="179.82" cy="321.16" r="0.45" fill="#262626" stroke="none" stroke-width="0"/>
<circle cx="182.50" cy="319.06" r="0.45" fill="#262626" stroke="none" stroke-width="0"/>
<circle cx="182.04" cy="333.45" r="0.45" fill="#262626" stroke="none" stroke-width="0"/>
<circle cx="181.44" cy="317.14" r="0.45" fill="#262626" stroke="none" stroke-width="0"/>
<circle cx="177.30" cy="328.47" r="0.45" fill="#262626" stroke="none" stroke-width="0"/>
<circle cx="183.48" cy="312.99" r="0.45" fill="#262626" stroke="none" stroke-width="0"/>
<circle cx="180.40" cy="321.56" r="0.45" fill="#262626" stroke="none" stroke-width="0"/>
<circle cx="182.44" cy="326.51" r="0.45" fill="#262626" stroke="none" stroke-width="0"/>
<circle cx="181.54" cy="319.51" r="0.45" fill="#262626" stroke="none" stroke-width="0"/>
<circle cx="185.05" cy="329.04" r="0.45" fill="#262626" stroke="none" stroke-width="0"/>
<circle cx="181.30" cy="313.60" r="0.45" fill="#262626" stroke="none" stroke-width="0"/>
<circle cx="187.74" cy="332.01" r="0.45" fill="#262626" stroke="none" stroke-width="0"/>
<circle cx="181.49" cy="332.49" r="0.45" fill="#262626" stroke="none" stroke-width="0"/>
<circle cx="180.10" cy="336.47" r="0.45" fill="#262626" stroke="none" stroke-width="0"/>
<circle cx="181.71" cy="316.59" r="0.45" fill="#262626" stroke="none" stroke-width="0"/>
<circle cx="182.92" cy="345.59" r="0.45" fill="#262626" stroke="none" stroke-width="0"/>
<circle cx="183.16" cy="326.21" r="0.45" fill="#262626" stroke="none" stroke-width="0"/>
<circle cx="180.17" cy="342.64" r="0.45" fill="#262626" stroke="none" stroke-width="0"/>
<circle cx="180.53" cy="334.25" r="0.45" fill="#262626" stroke="none" stroke-width="0"/>
<path d="M205.80,310.30 C207.97,310.30 210.40,315.25 212.30,319.20 C214.20,323.15 217.27,329.37 217.20,334.00 C217.13,338.63 213.80,343.33 211.90,347.00 C210.00,350.67 207.83,356.00 205.80,356.00 C203.77,356.00 201.60,350.67 199.70,347.00 C197.80,343.33 194.47,338.63 194.40,334.00 C194.33,329.37 197.40,323.15 199.30,319.20 C201.20,315.25 203.63,310.30 205.80,310.30 Z" fill="#f8b29c" stroke="#5a5a5a" stroke-width="0.3"/>
<line x1="205.80" y1="310.80" x2="205.80" y2="355.70" stroke="#3a3a3a" stroke-width="0.3"/>
<rect x="204.10" y="328.20" width="3.40" height="13.90" fill="#f2814f" stroke="#2a2a2a" stroke-width="0.3"/>
<line x1="204.10" y1="335.65" x2="207.50" y2="335.65" stroke="#111" stroke-width="0.4"/>
<circle cx="207.28" cy="322.57" r="0.45" fill="#262626" stroke="none" stroke-width="0"/>
<circle cx="211.23" cy="338.01" r="0.45" fill="#262626" stroke="none" stroke-width="0"/>
<circle cx="203.47" cy="328.66" r="0.45" fill="#262626" stroke="none" stroke-width="0"/>
<circle cx="207.11" cy="340.21" r="0.45" fill="#262626" stroke="none" stroke-width="0"/>
<circle cx="207.53" cy="329.59" r="0.45" fill="#262626" stroke="none" stroke-width="0"/>
<circle cx="208.85" cy="332.09" r="0.45" fill="#262626" stroke="none" stroke-width="0"/>
<circle cx="203.60" cy="323.11" r="0.45" fill="#262626" stroke="none" stroke-width="0"/>
<circle cx="204.96" cy="346.19" r="0.45" fill="#262626" stroke="none" stroke-width="0"/>
<circle cx="208.83" cy="328.33" r="0.45" fill="#262626" stroke="none" stroke-width="0"/>
<circle cx="201.96" cy="337.51" r="0.45" fill="#262626" stroke="none" stroke-width="0"/>
<circle cx="207.44" cy="335.64" r="0.45" fill="#262626" stroke="none" stroke-width="0"/>
<circle cx="206.99" cy="325.06" r="0.45" fill="#262626" stroke="none" stroke-width="0"/>
<circle cx="204.60" cy="323.32" r="0.45" fill="#262626" stroke="none" stroke-width="0"/>
<circle cx="203.59" cy="321.36" r="0.45" fill="#262626" stroke="none" stroke-width="0"/>
<circle cx="205.51" cy="351.10" r="0.45" fill="#262626" stroke="none" stroke-width="0"/>
<circle cx="205.68" cy="352.60" r="0.45" fill="#262626" stroke="none" stroke-width="0"/>
<circle cx="210.10" cy="336.93" r="0.45" fill="#262626" stroke="none" stroke-width="0"/>
<circle cx="201.58" cy="338.91" r="0.45" fill="#262626" stroke="none" stroke-width="0"/>
<circle cx="207.07" cy="336.49" r="0.45" fill="#262626" stroke="none" stroke-width="0"/>
<circle cx="201.65" cy="325.67" r="0.45" fill="#262626" stroke="none" stroke-width="0"/>
<circle cx="205.88" cy="345.01" r="0.45" fill="#262626" stroke="none" stroke-width="0"/>
<circle cx="205.44" cy="326.13" r="0.45" fill="#262626" stroke="none" stroke-width="0"/>
<circle cx="208.61" cy="326.98" r="0.45" fill="#262626" stroke="none" stroke-width="0"/>
<circle cx="200.60" cy="334.53" r="0.45" fill="#262626" stroke="none" stroke-width="0"/>
<circle cx="201.98" cy="342.86" r="0.45" fill="#262626" stroke="none" stroke-width="0"/>
<circle cx="199.49" cy="328.94" r="0.45" fill="#262626" stroke="none" stroke-width="0"/>
<circle cx="201.89" cy="340.39" r="0.45" fill="#262626" stroke="none" stroke-width="0"/>
<circle cx="200.50" cy="335.08" r="0.45" fill="#262626" stroke="none" stroke-width="0"/>
<circle cx="207.80" cy="334.08" r="0.45" fill="#262626" stroke="none" stroke-width="0"/>
<circle cx="205.38" cy="335.28" r="0.45" fill="#262626" stroke="none" stroke-width="0"/>
<circle cx="205.17" cy="334.18" r="0.45" fill="#262626" stroke="none" stroke-width="0"/>
<circle cx="200.85" cy="336.64" r="0.45" fill="#262626" stroke="none" stroke-width="0"/>
<circle cx="202.78" cy="333.94" r="0.45" fill="#262626" stroke="none" stroke-width="0"/>
<circle cx="209.71" cy="344.62" r="0.45" fill="#262626" stroke="none" stroke-width="0"/>
<circle cx="203.08" cy="320.40" r="0.45" fill="#262626" stroke="none" stroke-width="0"/>
<circle cx="206.38" cy="339.35" r="0.45" fill="#262626" stroke="none" stroke-width="0"/>
<circle cx="206.71" cy="316.64" r="0.45" fill="#262626" stroke="none" stroke-width="0"/>
<circle cx="205.45" cy="348.48" r="0.45" fill="#262626" stroke="none" stroke-width="0"/>
<circle cx="206.43" cy="330.82" r="0.45" fill="#262626" stroke="none" stroke-width="0"/>
<circle cx="204.57" cy="348.19" r="0.45" fill="#262626" stroke="none" stroke-width="0"/>
<circle cx="202.54" cy="329.57" r="0.45" fill="#262626" stroke="none" stroke-width="0"/>
<circle cx="205.53" cy="337.43" r="0.45" fill="#262626" stroke="none" stroke-width="0"/>
<circle cx="204.84" cy="328.20" r="0.45" fill="#262626" stroke="none" stroke-width="0"/>
<circle cx="204.78" cy="318.16" r="0.45" fill="#262626" stroke="none" stroke-width="0"/>
<circle cx="206.03" cy="351.62" r="0.45" fill="#262626" stroke="none" stroke-width="0"/>
<circle cx="211.12" cy="329.00" r="0.45" fill="#262626" stroke="none" stroke-width="0"/>
<circle cx="203.22" cy="331.11" r="0.45" fill="#262626" stroke="none" stroke-width="0"/>
<circle cx="203.55" cy="318.19" r="0.45" fill="#262626" stroke="none" stroke-width="0"/>
<circle cx="203.38" cy="326.32" r="0.45" fill="#262626" stroke="none" stroke-width="0"/>
<circle cx="204.19" cy="344.93" r="0.45" fill="#262626" stroke="none" stroke-width="0"/>
<circle cx="206.68" cy="327.97" r="0.45" fill="#262626" stroke="none" stroke-width="0"/>
<circle cx="204.57" cy="346.97" r="0.45" fill="#262626" stroke="none" stroke-width="0"/>
<circle cx="204.78" cy="341.02" r="0.45" fill="#262626" stroke="none" stroke-width="0"/>
<circle cx="206.71" cy="335.86" r="0.45" fill="#262626" stroke="none" stroke-width="0"/>
<circle cx="207.13" cy="348.38" r="0.45" fill="#262626" stroke="none" stroke-width="0"/>
<circle cx="209.93" cy="334.70" r="0.45" fill="#262626" stroke="none" stroke-width="0"/>
<circle cx="204.70" cy="331.32" r="0.45" fill="#262626" stroke="none" stroke-width="0"/>
<circle cx="205.97" cy="349.57" r="0.45" fill="#262626" stroke="none" stroke-width="0"/>
<circle cx="204.32" cy="341.39" r="0.45" fill="#262626" stroke="none" stroke-width="0"/>
<circle cx="206.43" cy="346.87" r="0.45" fill="#262626" stroke="none" stroke-width="0"/>
<circle cx="210.87" cy="327.92" r="0.45" fill="#262626" stroke="none" stroke-width="0"/>
<circle cx="204.10" cy="333.81" r="0.45" fill="#262626" stroke="none" stroke-width="0"/>
<circle cx="201.37" cy="328.40" r="0.45" fill="#262626" stroke="none" stroke-width="0"/>
<circle cx="207.43" cy="326.37" r="0.45" fill="#262626" stroke="none" stroke-width="0"/>
<circle cx="203.86" cy="324.08" r="0.45" fill="#262626" stroke="none" stroke-width="0"/>
<line x1="33.00" y1="215.60" x2="68.80" y2="215.60" stroke="#9a9a9a" stroke-width="0.9"/>
<text x="50.60" y="216.10" font-size="8.4" fill="#222" text-anchor="middle" font-weight="bold">***</text>
<line x1="33.00" y1="224.00" x2="50.90" y2="224.00" stroke="#c4c4c4" stroke-width="1.0"/>
<text x="41.30" y="224.80" font-size="8.4" fill="#222" text-anchor="middle" font-weight="bold">**</text>
<line x1="33.00" y1="303.40" x2="68.80" y2="303.40" stroke="#8a8a8a" stroke-width="0.9"/>
<text x="50.90" y="304.70" font-size="8.4" fill="#222" text-anchor="middle" font-weight="bold">**</text>
<line x1="182.20" y1="303.40" x2="205.80" y2="303.40" stroke="#7a7a7a" stroke-width="0.9"/>
<text x="194.10" y="304.30" font-size="8.4" fill="#222" text-anchor="middle" font-weight="bold">*</text>
<text x="19.00" y="211.95" font-size="5.0" fill="#3a3a3a" text-anchor="end" font-weight="normal">0.26</text>
<text x="19.00" y="226.75" font-size="5.0" fill="#3a3a3a" text-anchor="end" font-weight="normal">0.22</text>
<text x="19.00" y="241.55" font-size="5.0" fill="#3a3a3a" text-anchor="end" font-weight="normal">0.18</text>
<text x="19.00" y="256.25" font-size="5.0" fill="#3a3a3a" text-anchor="end" font-weight="normal">0.14</text>
<text x="19.00" y="270.95" font-size="5.0" fill="#3a3a3a" text-anchor="end" font-weight="normal">0.10</text>
<text x="19.00" y="298.95" font-size="5.0" fill="#3a3a3a" text-anchor="end" font-weight="normal">260</text>
<text x="19.00" y="316.25" font-size="5.0" fill="#3a3a3a" text-anchor="end" font-weight="normal">220</text>
<text x="19.00" y="333.15" font-size="5.0" fill="#3a3a3a" text-anchor="end" font-weight="normal">180</text>
<text x="19.00" y="350.05" font-size="5.0" fill="#3a3a3a" text-anchor="end" font-weight="normal">140</text>
<text x="5.70" y="241.50" font-size="7.5" fill="#2a2a2a" text-anchor="middle" font-weight="normal" transform="rotate(-90 5.7 241.5)">Copies of ARGs per cell</text>
<text x="5.80" y="327.00" font-size="7.7" fill="#2a2a2a" text-anchor="middle" font-weight="normal" transform="rotate(-90 5.8 327.0)">ARG richness</text>
<text x="31.90" y="281.70" font-size="8.6" fill="#222" text-anchor="middle" font-weight="normal">D1</text>
<text x="51.30" y="281.70" font-size="8.6" fill="#222" text-anchor="middle" font-weight="normal">D3</text>
<text x="69.70" y="281.70" font-size="8.6" fill="#222" text-anchor="middle" font-weight="normal">D6</text>
<text x="31.90" y="370.70" font-size="8.6" fill="#222" text-anchor="middle" font-weight="normal">D1</text>
<text x="51.30" y="370.70" font-size="8.6" fill="#222" text-anchor="middle" font-weight="normal">D3</text>
<text x="69.70" y="370.70" font-size="8.6" fill="#222" text-anchor="middle" font-weight="normal">D6</text>
<text x="105.60" y="280.80" font-size="7.6" fill="#222" text-anchor="middle" font-weight="normal">Non</text>
<text x="105.50" y="288.60" font-size="7.6" fill="#222" text-anchor="middle" font-weight="normal">fungicide</text>
<text x="138.50" y="281.20" font-size="7.6" fill="#222" text-anchor="middle" font-weight="normal">Fungicide</text>
<text x="180.00" y="281.80" font-size="7.6" fill="#222" text-anchor="middle" font-weight="normal">Mono</text>
<text x="180.00" y="288.80" font-size="7.6" fill="#222" text-anchor="middle" font-weight="normal">species</text>
<text x="210.40" y="280.80" font-size="7.6" fill="#222" text-anchor="middle" font-weight="normal">Multi</text>
<text x="210.30" y="288.10" font-size="7.6" fill="#222" text-anchor="middle" font-weight="normal">species</text>
<text x="105.60" y="369.00" font-size="7.6" fill="#222" text-anchor="middle" font-weight="normal">Non</text>
<text x="105.50" y="376.80" font-size="7.6" fill="#222" text-anchor="middle" font-weight="normal">fungicide</text>
<text x="138.50" y="369.40" font-size="7.6" fill="#222" text-anchor="middle" font-weight="normal">Fungicide</text>
<text x="180.00" y="370.00" font-size="7.6" fill="#222" text-anchor="middle" font-weight="normal">Mono</text>
<text x="180.00" y="377.00" font-size="7.6" fill="#222" text-anchor="middle" font-weight="normal">species</text>
<text x="210.40" y="369.00" font-size="7.6" fill="#222" text-anchor="middle" font-weight="normal">Multi</text>
<text x="210.30" y="376.30" font-size="7.6" fill="#222" text-anchor="middle" font-weight="normal">species</text>
<rect x="265.30" y="31.00" width="110.30" height="138.50" fill="none" stroke="#3a3a3a" stroke-width="0.75"/>
<rect x="276.00" y="52.20" width="20.10" height="33.70" fill="#2a653a" stroke="none" stroke-width="0"/>
<rect x="276.00" y="85.90" width="20.10" height="24.00" fill="#ee3891" stroke="none" stroke-width="0"/>
<rect x="276.00" y="109.90" width="20.10" height="14.90" fill="#e2d98a" stroke="none" stroke-width="0"/>
<rect x="276.00" y="124.80" width="20.10" height="13.20" fill="#72bde9" stroke="none" stroke-width="0"/>
<rect x="276.00" y="138.00" width="20.10" height="6.90" fill="#a62b2d" stroke="none" stroke-width="0"/>
<rect x="276.00" y="144.90" width="20.10" height="9.70" fill="#ee4b4b" stroke="none" stroke-width="0"/>
<rect x="276.00" y="154.60" width="20.10" height="9.20" fill="#f28232" stroke="none" stroke-width="0"/>
<rect x="276.00" y="163.80" width="20.10" height="1.80" fill="#4cb7c9" stroke="none" stroke-width="0"/>
<rect x="276.00" y="165.60" width="20.10" height="1.80" fill="#3a3f92" stroke="none" stroke-width="0"/>
<rect x="276.00" y="167.40" width="20.10" height="0.60" fill="#6a3d7a" stroke="none" stroke-width="0"/>
<rect x="276.00" y="168.00" width="20.10" height="0.60" fill="#b87a6a" stroke="none" stroke-width="0"/>
<rect x="310.00" y="45.50" width="20.60" height="35.50" fill="#2a653a" stroke="none" stroke-width="0"/>
<rect x="310.00" y="81.00" width="20.60" height="26.00" fill="#ee3891" stroke="none" stroke-width="0"/>
<rect x="310.00" y="107.00" width="20.60" height="14.00" fill="#e2d98a" stroke="none" stroke-width="0"/>
<rect x="310.00" y="121.00" width="20.60" height="14.00" fill="#72bde9" stroke="none" stroke-width="0"/>
<rect x="310.00" y="135.00" width="20.60" height="10.90" fill="#a62b2d" stroke="none" stroke-width="0"/>
<rect x="310.00" y="145.90" width="20.60" height="8.70" fill="#ee4b4b" stroke="none" stroke-width="0"/>
<rect x="310.00" y="154.60" width="20.60" height="8.30" fill="#f28232" stroke="none" stroke-width="0"/>
<rect x="310.00" y="162.90" width="20.60" height="1.80" fill="#4cb7c9" stroke="none" stroke-width="0"/>
<rect x="310.00" y="164.70" width="20.60" height="2.50" fill="#3a3f92" stroke="none" stroke-width="0"/>
<rect x="310.00" y="167.20" width="20.60" height="0.80" fill="#6a3d7a" stroke="none" stroke-width="0"/>
<rect x="310.00" y="168.00" width="20.60" height="0.60" fill="#b87a6a" stroke="none" stroke-width="0"/>
<rect x="344.40" y="46.50" width="20.20" height="35.40" fill="#2a653a" stroke="none" stroke-width="0"/>
<rect x="344.40" y="81.90" width="20.20" height="26.50" fill="#ee3891" stroke="none" stroke-width="0"/>
<rect x="344.40" y="108.40" width="20.20" height="12.60" fill="#e2d98a" stroke="none" stroke-width="0"/>
<rect x="344.40" y="121.00" width="20.20" height="14.80" fill="#72bde9" stroke="none" stroke-width="0"/>
<rect x="344.40" y="135.80" width="20.20" height="10.50" fill="#a62b2d" stroke="none" stroke-width="0"/>
<rect x="344.40" y="146.30" width="20.20" height="8.40" fill="#ee4b4b" stroke="none" stroke-width="0"/>
<rect x="344.40" y="154.70" width="20.20" height="8.50" fill="#f28232" stroke="none" stroke-width="0"/>
<rect x="344.40" y="163.20" width="20.20" height="1.80" fill="#4cb7c9" stroke="none" stroke-width="0"/>
<rect x="344.40" y="165.00" width="20.20" height="2.30" fill="#3a3f92" stroke="none" stroke-width="0"/>
<rect x="344.40" y="167.30" width="20.20" height="0.70" fill="#6a3d7a" stroke="none" stroke-width="0"/>
<rect x="344.40" y="168.00" width="20.20" height="0.60" fill="#b87a6a" stroke="none" stroke-width="0"/>
<text x="262.60" y="170.40" font-size="5.0" fill="#555" text-anchor="middle" font-weight="normal">0</text>
<text x="262.60" y="129.80" font-size="5.0" fill="#555" text-anchor="middle" font-weight="normal">1</text>
<text x="262.60" y="89.80" font-size="5.0" fill="#555" text-anchor="middle" font-weight="normal">2</text>
<text x="262.60" y="50.40" font-size="5.0" fill="#555" text-anchor="middle" font-weight="normal">3</text>
<text x="251.50" y="98.00" font-size="7.4" fill="#333" text-anchor="middle" font-weight="normal" transform="rotate(-90 251.5 98)">Cpoies of VFGs per cell</text>
<line x1="285.90" y1="37.50" x2="354.50" y2="37.50" stroke="#555" stroke-width="0.8"/>
<text x="319.70" y="38.50" font-size="9" fill="#222" text-anchor="middle" font-weight="bold">*</text>
<line x1="285.90" y1="43.50" x2="321.00" y2="43.50" stroke="#555" stroke-width="0.8"/>
<text x="301.80" y="44.80" font-size="9" fill="#222" text-anchor="middle" font-weight="bold">*</text>
<text x="286.20" y="177.60" font-size="8.6" fill="#222" text-anchor="middle" font-weight="normal">D1</text>
<text x="320.50" y="177.60" font-size="8.6" fill="#222" text-anchor="middle" font-weight="normal">D3</text>
<text x="354.60" y="177.60" font-size="8.6" fill="#222" text-anchor="middle" font-weight="normal">D6</text>
<rect x="244.50" y="186.80" width="4.30" height="4.20" fill="#2a653a" stroke="none" stroke-width="0"/>
<text x="250.50" y="190.55" font-size="4.75" fill="#2a2a2a" text-anchor="start" font-weight="normal">Adherence</text>
<rect x="244.50" y="192.10" width="4.30" height="4.20" fill="#ee3891" stroke="none" stroke-width="0"/>
<text x="250.50" y="195.85" font-size="4.75" fill="#2a2a2a" text-anchor="start" font-weight="normal">Immune modulation</text>
<rect x="244.50" y="197.50" width="4.30" height="4.20" fill="#e2d98a" stroke="none" stroke-width="0"/>
<text x="250.50" y="201.25" font-size="4.75" fill="#2a2a2a" text-anchor="start" font-weight="normal">Nutritional factor</text>
<rect x="244.50" y="202.80" width="4.30" height="4.20" fill="#72bde9" stroke="none" stroke-width="0"/>
<text x="250.50" y="206.55" font-size="4.75" fill="#2a2a2a" text-anchor="start" font-weight="normal">Effector deliver ysystem</text>
<rect x="244.50" y="208.20" width="4.30" height="4.20" fill="#a62b2d" stroke="none" stroke-width="0"/>
<text x="250.50" y="211.95" font-size="4.75" fill="#2a2a2a" text-anchor="start" font-weight="normal">Motility</text>
<rect x="302.80" y="186.80" width="4.30" height="4.20" fill="#ee4b4b" stroke="none" stroke-width="0"/>
<text x="308.80" y="190.55" font-size="4.75" fill="#2a2a2a" text-anchor="start" font-weight="normal">Regulation</text>
<rect x="302.80" y="192.10" width="4.30" height="4.20" fill="#f28232" stroke="none" stroke-width="0"/>
<text x="308.80" y="195.85" font-size="4.75" fill="#2a2a2a" text-anchor="start" font-weight="normal">Stress survival</text>
<rect x="302.80" y="197.50" width="4.30" height="4.20" fill="#4cb7c9" stroke="none" stroke-width="0"/>
<text x="308.80" y="201.25" font-size="4.75" fill="#2a2a2a" text-anchor="start" font-weight="normal">Biofilm</text>
<rect x="302.80" y="202.80" width="4.30" height="4.20" fill="#3a3f92" stroke="none" stroke-width="0"/>
<text x="308.80" y="206.55" font-size="4.75" fill="#2a2a2a" text-anchor="start" font-weight="normal">Others</text>
<rect x="302.80" y="208.20" width="4.30" height="4.20" fill="#e08878" stroke="none" stroke-width="0"/>
<text x="308.80" y="211.95" font-size="4.75" fill="#2a2a2a" text-anchor="start" font-weight="normal">Exoenzyme</text>
<rect x="344.20" y="186.80" width="4.30" height="4.20" fill="#b7da6a" stroke="none" stroke-width="0"/>
<text x="350.20" y="189.85" font-size="4.75" fill="#2a2a2a" text-anchor="start" font-weight="normal" font-style="italic">Antimicrobial activity</text>
<rect x="344.20" y="195.80" width="4.30" height="4.20" fill="#f6a533" stroke="none" stroke-width="0"/>
<text x="350.20" y="199.55" font-size="4.75" fill="#2a2a2a" text-anchor="start" font-weight="normal">Exotoxin</text>
<rect x="344.20" y="201.20" width="4.30" height="4.20" fill="#80b890" stroke="none" stroke-width="0"/>
<text x="350.20" y="204.95" font-size="4.75" fill="#2a2a2a" text-anchor="start" font-weight="normal">Post-translational modification</text>
<rect x="344.20" y="206.70" width="4.30" height="4.20" fill="#6a3d9a" stroke="none" stroke-width="0"/>
<text x="350.20" y="210.45" font-size="4.75" fill="#2a2a2a" text-anchor="start" font-weight="normal">Invasion</text>
<text x="350.20" y="194.80" font-size="4.75" fill="#2a2a2a" text-anchor="start" font-weight="normal" font-style="italic">/Competitive advantage</text>
<path d="M302.20,295.20 L254.91,289.93 A58.0,58.0 0 0 1 264.19,266.92 L302.20,295.20 Z" fill="#97d3a6" stroke="none" stroke-width="0"/>
<path d="M303.40,305.10 L267.35,336.49 A58.0,58.0 0 0 1 255.80,313.53 L303.40,305.10 Z" fill="#97d3a6" stroke="none" stroke-width="0"/>
<path d="M311.00,309.50 L310.78,357.59 A58.0,58.0 0 0 1 267.35,336.49 L303.50,305.20 Z" fill="#f48a8d" stroke="none" stroke-width="0"/>
<path d="M319.50,308.40 L354.24,339.45 A58.0,58.0 0 0 1 334.20,353.22 L317.30,310.00 Z" fill="#f48a8d" stroke="none" stroke-width="0"/>
<path d="M316.40,289.70 L332.89,245.45 A58.0,58.0 0 0 1 364.84,275.46 L322.50,293.40 Z" fill="#97d3a6" stroke="none" stroke-width="0"/>
<line x1="318.80" y1="289.70" x2="351.00" y2="255.70" stroke="#4a4a4a" stroke-width="0.4"/>
<line x1="306.20" y1="312.50" x2="287.80" y2="351.20" stroke="#4a4a4a" stroke-width="0.4"/>
<line x1="323.20" y1="303.70" x2="367.40" y2="318.40" stroke="#9a9a9a" stroke-width="0.45"/>
<line x1="357.10" y1="270.40" x2="362.10" y2="265.80" stroke="#333" stroke-width="0.5"/>
<line x1="273.50" y1="344.00" x2="276.00" y2="339.50" stroke="#333" stroke-width="0.5"/>
<line x1="312.10" y1="299.60" x2="302.10" y2="297.50" stroke="#1a1a1a" stroke-width="0.35"/>
<line x1="312.10" y1="299.60" x2="303.70" y2="293.60" stroke="#1a1a1a" stroke-width="0.35"/>
<line x1="312.10" y1="299.60" x2="306.80" y2="290.40" stroke="#1a1a1a" stroke-width="0.35"/>
<line x1="312.10" y1="299.60" x2="311.20" y2="288.70" stroke="#1a1a1a" stroke-width="0.35"/>
<line x1="312.10" y1="299.60" x2="315.60" y2="289.40" stroke="#1a1a1a" stroke-width="0.35"/>
<line x1="312.10" y1="299.60" x2="319.70" y2="291.50" stroke="#1a1a1a" stroke-width="0.35"/>
<line x1="312.10" y1="299.60" x2="322.10" y2="295.00" stroke="#1a1a1a" stroke-width="0.35"/>
<line x1="312.10" y1="299.60" x2="322.40" y2="303.00" stroke="#1a1a1a" stroke-width="0.35"/>
<line x1="312.10" y1="299.60" x2="320.20" y2="306.70" stroke="#1a1a1a" stroke-width="0.35"/>
<line x1="312.10" y1="299.60" x2="316.50" y2="309.20" stroke="#1a1a1a" stroke-width="0.35"/>
<line x1="312.10" y1="299.60" x2="312.10" y2="310.10" stroke="#1a1a1a" stroke-width="0.35"/>
<line x1="312.10" y1="299.60" x2="307.90" y2="309.00" stroke="#1a1a1a" stroke-width="0.35"/>
<line x1="312.10" y1="299.60" x2="304.20" y2="306.20" stroke="#1a1a1a" stroke-width="0.35"/>
<line x1="312.10" y1="299.60" x2="302.40" y2="302.20" stroke="#1a1a1a" stroke-width="0.35"/>
<circle cx="302.10" cy="297.50" r="1.80" fill="#3c8c3c" stroke="#2a2a2a" stroke-width="0.35"/>
<circle cx="303.70" cy="293.60" r="1.10" fill="#c8bf3a" stroke="#2a2a2a" stroke-width="0.35"/>
<circle cx="306.80" cy="290.40" r="1.50" fill="#c8bf3a" stroke="#2a2a2a" stroke-width="0.35"/>
<circle cx="311.20" cy="288.70" r="1.70" fill="#c8bf3a" stroke="#2a2a2a" stroke-width="0.35"/>
<circle cx="315.60" cy="289.40" r="1.50" fill="#3c8c3c" stroke="#2a2a2a" stroke-width="0.35"/>
<circle cx="319.70" cy="291.50" r="1.40" fill="#3c8c3c" stroke="#2a2a2a" stroke-width="0.35"/>
<circle cx="322.10" cy="295.00" r="1.70" fill="#c8bf3a" stroke="#2a2a2a" stroke-width="0.35"/>
<circle cx="322.40" cy="303.00" r="1.60" fill="#d42a2a" stroke="#2a2a2a" stroke-width="0.35"/>
<circle cx="320.20" cy="306.70" r="1.60" fill="#d42a2a" stroke="#2a2a2a" stroke-width="0.35"/>
<circle cx="316.50" cy="309.20" r="1.00" fill="#c8bf3a" stroke="#2a2a2a" stroke-width="0.35"/>
<circle cx="312.10" cy="310.10" r="1.50" fill="#d42a2a" stroke="#2a2a2a" stroke-width="0.35"/>
<circle cx="307.90" cy="309.00" r="1.50" fill="#d42a2a" stroke="#2a2a2a" stroke-width="0.35"/>
<circle cx="304.20" cy="306.20" r="1.50" fill="#3c8c3c" stroke="#2a2a2a" stroke-width="0.35"/>
<circle cx="302.40" cy="302.20" r="1.00" fill="#c8bf3a" stroke="#2a2a2a" stroke-width="0.35"/>
<circle cx="312.10" cy="299.60" r="1.30" fill="#222" stroke="none" stroke-width="0"/>
<text x="260.70" y="273.70" font-size="6.85" fill="#1f4222" text-anchor="middle" dominant-baseline="central" font-weight="normal" stroke="#1f4222" stroke-width="0.28" transform="rotate(-64.2 260.70 273.70)">Immune modulation</text>
<text x="337.70" y="249.60" font-size="6.5" fill="#1f4222" text-anchor="middle" dominant-baseline="central" font-weight="bold" stroke="#1f4222" stroke-width="0.2" transform="rotate(21.4 337.70 249.60)">Biofilm</text>
<text x="373.20" y="255.50" font-size="6.95" fill="#1f4222" text-anchor="middle" dominant-baseline="central" font-weight="normal" stroke="#1f4222" stroke-width="0.28" transform="rotate(45.5 373.20 255.50)">Antimicrobial activity/</text>
<text x="366.30" y="261.00" font-size="6.55" fill="#1f4222" text-anchor="middle" dominant-baseline="central" font-weight="normal" stroke="#1f4222" stroke-width="0.28" transform="rotate(47.0 366.30 261.00)">Competitive advantage</text>
<text x="263.80" y="323.50" font-size="7.3" fill="#1f4222" text-anchor="middle" dominant-baseline="central" font-weight="normal" stroke="#1f4222" stroke-width="0.28" transform="rotate(67.0 263.80 323.50)">Motility</text>
<text x="268.60" y="356.40" font-size="6.8" fill="#5a1020" text-anchor="middle" dominant-baseline="central" font-weight="normal" stroke="#5a1020" stroke-width="0.28" transform="rotate(207.8 268.60 356.40)">Nutritional</text>
<text x="272.40" y="349.00" font-size="6.6" fill="#5a1020" text-anchor="middle" dominant-baseline="central" font-weight="normal" stroke="#5a1020" stroke-width="0.28" transform="rotate(206.3 272.40 349.00)">Metabolic factor</text>
<text x="298.60" y="351.90" font-size="6.5" fill="#5a1020" text-anchor="middle" dominant-baseline="central" font-weight="normal" stroke="#5a1020" stroke-width="0.28" transform="rotate(197.7 298.60 351.90)">Others</text>
<text x="340.10" y="343.10" font-size="6.5" fill="#5a1020" text-anchor="middle" dominant-baseline="central" font-weight="normal" stroke="#5a1020" stroke-width="0.28" transform="rotate(150.5 340.10 343.10)">Regulation</text>
<text x="371.20" y="316.20" font-size="7.1" fill="#5a1020" text-anchor="middle" dominant-baseline="central" font-weight="normal" stroke="#5a1020" stroke-width="0.28" transform="rotate(109.2 371.20 316.20)">Stress survival</text>
<rect x="361.30" y="352.00" width="13.60" height="4.50" fill="#d92b2b" stroke="#b82222" stroke-width="0.3"/>
<rect x="361.30" y="361.10" width="13.60" height="4.60" fill="#55aa55" stroke="#3f8f3f" stroke-width="0.3"/>
<text x="380.60" y="356.60" font-size="7.3" fill="#222" text-anchor="start" font-weight="normal">D1</text>
<text x="380.60" y="365.70" font-size="7.3" fill="#222" text-anchor="start" font-weight="normal">D6</text>
<rect x="495.70" y="27.40" width="136.50" height="56.00" fill="#e4e5e8" stroke="none" stroke-width="0"/>
<line x1="512.30" y1="27.40" x2="512.30" y2="83.40" stroke="#f0f0f2" stroke-width="0.4"/>
<line x1="545.50" y1="27.40" x2="545.50" y2="83.40" stroke="#f0f0f2" stroke-width="0.4"/>
<line x1="578.70" y1="27.40" x2="578.70" y2="83.40" stroke="#f0f0f2" stroke-width="0.4"/>
<line x1="611.90" y1="27.40" x2="611.90" y2="83.40" stroke="#f0f0f2" stroke-width="0.4"/>
<line x1="495.70" y1="27.40" x2="495.70" y2="83.40" stroke="#ffffff" stroke-width="0.8"/>
<line x1="528.90" y1="27.40" x2="528.90" y2="83.40" stroke="#ffffff" stroke-width="0.8"/>
<line x1="562.10" y1="27.40" x2="562.10" y2="83.40" stroke="#ffffff" stroke-width="0.8"/>
<line x1="595.30" y1="27.40" x2="595.30" y2="83.40" stroke="#ffffff" stroke-width="0.8"/>
<line x1="628.50" y1="27.40" x2="628.50" y2="83.40" stroke="#ffffff" stroke-width="0.8"/>
<line x1="495.70" y1="34.90" x2="632.20" y2="34.90" stroke="#ffffff" stroke-width="0.8"/>
<line x1="495.70" y1="55.40" x2="632.20" y2="55.40" stroke="#ffffff" stroke-width="0.8"/>
<line x1="495.70" y1="75.80" x2="632.20" y2="75.80" stroke="#ffffff" stroke-width="0.8"/>
<rect x="495.70" y="27.90" width="1.30" height="14.00" fill="#3a2020" stroke="none" stroke-width="0"/>
<rect x="497.00" y="27.90" width="1.50" height="14.00" fill="#8a5a4a" stroke="none" stroke-width="0"/>
<rect x="498.50" y="27.90" width="1.00" height="14.00" fill="#3a2a2a" stroke="none" stroke-width="0"/>
<rect x="499.50" y="27.90" width="1.30" height="14.00" fill="#e08070" stroke="none" stroke-width="0"/>
<rect x="500.80" y="27.90" width="1.20" height="14.00" fill="#5a4a6a" stroke="none" stroke-width="0"/>
<rect x="502.00" y="27.90" width="3.90" height="14.00" fill="#3c4a88" stroke="none" stroke-width="0"/>
<rect x="505.90" y="27.90" width="4.00" height="14.00" fill="#1f8a70" stroke="none" stroke-width="0"/>
<rect x="509.90" y="27.90" width="15.20" height="14.00" fill="#46b5c9" stroke="none" stroke-width="0"/>
<rect x="525.10" y="27.90" width="106.00" height="14.00" fill="#dc5343" stroke="none" stroke-width="0"/>
<rect x="495.70" y="27.90" width="135.40" height="14.00" fill="none" stroke="#3a3a3a" stroke-width="0.5"/>
<rect x="495.70" y="48.40" width="1.80" height="14.10" fill="#3a2020" stroke="none" stroke-width="0"/>
<rect x="497.50" y="48.40" width="2.30" height="14.10" fill="#a06a5a" stroke="none" stroke-width="0"/>
<rect x="499.80" y="48.40" width="0.80" height="14.10" fill="#3a2a2a" stroke="none" stroke-width="0"/>
<rect x="500.60" y="48.40" width="0.60" height="14.10" fill="#e08070" stroke="none" stroke-width="0"/>
<rect x="501.20" y="48.40" width="3.50" height="14.10" fill="#3c4a88" stroke="none" stroke-width="0"/>
<rect x="504.70" y="48.40" width="2.90" height="14.10" fill="#1f8a70" stroke="none" stroke-width="0"/>
<rect x="507.60" y="48.40" width="13.30" height="14.10" fill="#46b5c9" stroke="none" stroke-width="0"/>
<rect x="520.90" y="48.40" width="89.80" height="14.10" fill="#dc5343" stroke="none" stroke-width="0"/>
<rect x="495.70" y="48.40" width="115.00" height="14.10" fill="none" stroke="#3a3a3a" stroke-width="0.5"/>
<rect x="495.70" y="68.90" width="2.80" height="13.80" fill="#3a2020" stroke="none" stroke-width="0"/>
<rect x="498.50" y="68.90" width="0.50" height="13.80" fill="#e08070" stroke="none" stroke-width="0"/>
<rect x="499.00" y="68.90" width="2.00" height="13.80" fill="#3c4a88" stroke="none" stroke-width="0"/>
<rect x="501.00" y="68.90" width="1.30" height="13.80" fill="#1f8a70" stroke="none" stroke-width="0"/>
<rect x="502.30" y="68.90" width="9.60" height="13.80" fill="#46b5c9" stroke="none" stroke-width="0"/>
<rect x="511.90" y="68.90" width="69.30" height="13.80" fill="#dc5343" stroke="none" stroke-width="0"/>
<rect x="495.70" y="68.90" width="85.50" height="13.80" fill="none" stroke="#3a3a3a" stroke-width="0.5"/>
<text x="495.70" y="89.30" font-size="4.6" fill="#444" text-anchor="middle" font-weight="normal">0.0</text>
<text x="528.90" y="89.30" font-size="4.6" fill="#444" text-anchor="middle" font-weight="normal">0.2</text>
<text x="562.10" y="89.30" font-size="4.6" fill="#444" text-anchor="middle" font-weight="normal">0.4</text>
<text x="595.30" y="89.30" font-size="4.6" fill="#444" text-anchor="middle" font-weight="normal">0.6</text>
<text x="628.50" y="89.30" font-size="4.6" fill="#444" text-anchor="middle" font-weight="normal">0.8</text>
<text x="569.60" y="98.00" font-size="7.65" fill="#222" text-anchor="middle" font-weight="normal">Copies of MGEs per cell</text>
<text x="494.20" y="36.90" font-size="9" fill="#222" text-anchor="end" font-weight="normal">D6</text>
<text x="494.20" y="57.30" font-size="9" fill="#222" text-anchor="end" font-weight="normal">D3</text>
<text x="494.20" y="77.90" font-size="9" fill="#222" text-anchor="end" font-weight="normal">D1</text>
<line x1="471.00" y1="33.70" x2="483.50" y2="33.70" stroke="#6a6a6a" stroke-width="0.8"/>
<line x1="471.00" y1="54.10" x2="483.50" y2="54.10" stroke="#6a6a6a" stroke-width="0.8"/>
<line x1="471.00" y1="33.70" x2="471.00" y2="54.10" stroke="#6a6a6a" stroke-width="0.8"/>
<line x1="451.00" y1="43.90" x2="471.00" y2="43.90" stroke="#6a6a6a" stroke-width="0.8"/>
<line x1="451.00" y1="43.90" x2="451.00" y2="74.70" stroke="#6a6a6a" stroke-width="0.8"/>
<line x1="451.00" y1="74.70" x2="483.50" y2="74.70" stroke="#6a6a6a" stroke-width="0.8"/>
<line x1="438.00" y1="82.90" x2="483.00" y2="82.90" stroke="#555" stroke-width="0.8"/>
<text x="440.50" y="89.30" font-size="4.6" fill="#444" text-anchor="middle" font-weight="normal">0.3</text>
<text x="454.20" y="89.30" font-size="4.6" fill="#444" text-anchor="middle" font-weight="normal">0.2</text>
<text x="467.90" y="89.30" font-size="4.6" fill="#444" text-anchor="middle" font-weight="normal">0.1</text>
<text x="480.50" y="89.30" font-size="4.6" fill="#444" text-anchor="middle" font-weight="normal">0.0</text>
<text x="465.60" y="98.00" font-size="7.6" fill="#222" text-anchor="middle" font-weight="normal">bray complete</text>
<line x1="634.50" y1="33.00" x2="634.50" y2="75.80" stroke="#3a3a3a" stroke-width="0.6"/>
<text x="633.90" y="54.90" font-size="8" fill="#222" text-anchor="middle" font-weight="bold" transform="rotate(90 633.9 54.9)">**</text>
<rect x="645.00" y="26.70" width="4.50" height="4.20" fill="#dc5343" stroke="#777" stroke-width="0.25"/>
<text x="651.40" y="30.40" font-size="4.7" fill="#333" text-anchor="start" font-weight="normal">Transposase</text>
<rect x="645.00" y="31.45" width="4.50" height="4.20" fill="#46b5c9" stroke="#777" stroke-width="0.25"/>
<text x="651.40" y="35.15" font-size="4.7" fill="#333" text-anchor="start" font-weight="normal">IS91</text>
<rect x="645.00" y="36.20" width="4.50" height="4.20" fill="#1f8a7a" stroke="#777" stroke-width="0.25"/>
<text x="651.40" y="39.90" font-size="4.7" fill="#333" text-anchor="start" font-weight="normal">istB</text>
<rect x="645.00" y="40.95" width="4.50" height="4.20" fill="#3c4f8a" stroke="#777" stroke-width="0.25"/>
<text x="651.40" y="44.65" font-size="4.7" fill="#333" text-anchor="start" font-weight="normal">istA</text>
<rect x="645.00" y="45.70" width="4.50" height="4.20" fill="#f09080" stroke="#777" stroke-width="0.25"/>
<text x="651.40" y="49.40" font-size="4.7" fill="#333" text-anchor="start" font-weight="normal">Integrase</text>
<rect x="645.00" y="50.45" width="4.50" height="4.20" fill="#7080b8" stroke="#777" stroke-width="0.25"/>
<text x="651.40" y="54.15" font-size="4.7" fill="#333" text-anchor="start" font-weight="normal">tniA</text>
<rect x="645.00" y="55.20" width="4.50" height="4.20" fill="#6ac0a8" stroke="#777" stroke-width="0.25"/>
<text x="651.40" y="58.90" font-size="4.7" fill="#333" text-anchor="start" font-weight="normal">tniB1</text>
<rect x="645.00" y="59.95" width="4.50" height="4.20" fill="#cc2222" stroke="#777" stroke-width="0.25"/>
<text x="651.40" y="63.65" font-size="4.7" fill="#333" text-anchor="start" font-weight="normal">tniB</text>
<rect x="645.00" y="64.70" width="4.50" height="4.20" fill="#7a5a4a" stroke="#777" stroke-width="0.25"/>
<text x="651.40" y="68.40" font-size="4.7" fill="#333" text-anchor="start" font-weight="normal">ISRj1</text>
<rect x="645.00" y="69.45" width="4.50" height="4.20" fill="#b8a090" stroke="#777" stroke-width="0.25"/>
<text x="651.40" y="73.15" font-size="4.7" fill="#333" text-anchor="start" font-weight="normal">istA3</text>
<rect x="645.00" y="74.20" width="4.50" height="4.20" fill="#e0eef8" stroke="#777" stroke-width="0.25"/>
<text x="651.40" y="77.90" font-size="4.7" fill="#333" text-anchor="start" font-weight="normal">qacEdelta</text>
<rect x="645.00" y="78.95" width="4.50" height="4.20" fill="#f8dcc8" stroke="#777" stroke-width="0.25"/>
<text x="651.40" y="82.65" font-size="4.7" fill="#333" text-anchor="start" font-weight="normal">Plasmid</text>
<rect x="645.00" y="83.70" width="4.50" height="4.20" fill="#80d0b0" stroke="#777" stroke-width="0.25"/>
<text x="651.40" y="87.40" font-size="4.7" fill="#333" text-anchor="start" font-weight="normal">Others</text>
<rect x="445.40" y="121.00" width="68.80" height="220.80" fill="none" stroke="#3a3a3a" stroke-width="0.75"/>
<rect x="517.40" y="121.00" width="21.20" height="220.80" fill="none" stroke="#3a3a3a" stroke-width="0.75"/>
<text x="443.60" y="133.10" font-size="7.4" fill="#222" text-anchor="end" font-weight="normal">Others</text>
<text x="443.60" y="149.47" font-size="7.4" fill="#222" text-anchor="end" font-weight="normal">Plasmid</text>
<text x="443.60" y="165.84" font-size="7.4" fill="#222" text-anchor="end" font-weight="normal">ISRj1</text>
<text x="443.60" y="182.21" font-size="7.4" fill="#222" text-anchor="end" font-weight="normal">qacEdelta</text>
<text x="443.60" y="198.58" font-size="7.4" fill="#222" text-anchor="end" font-weight="normal">istA3</text>
<text x="443.60" y="214.95" font-size="7.4" fill="#222" text-anchor="end" font-weight="normal">istB1</text>
<text x="443.60" y="231.32" font-size="7.4" fill="#222" text-anchor="end" font-weight="normal">Integrase</text>
<text x="443.60" y="247.69" font-size="7.4" fill="#222" text-anchor="end" font-weight="normal">tniB</text>
<text x="443.60" y="264.06" font-size="7.4" fill="#222" text-anchor="end" font-weight="normal">tniA</text>
<text x="443.60" y="280.43" font-size="7.4" fill="#222" text-anchor="end" font-weight="normal">istA</text>
<text x="443.60" y="296.80" font-size="7.4" fill="#222" text-anchor="end" font-weight="normal">istB</text>
<text x="443.60" y="313.17" font-size="7.4" fill="#222" text-anchor="end" font-weight="normal">IS91</text>
<text x="443.60" y="329.54" font-size="7.4" fill="#222" text-anchor="end" font-weight="normal">Transposase</text>
<rect x="447.80" y="125.60" width="1.30" height="2.20" fill="#acdcac" stroke="#4caf50" stroke-width="0.35"/>
<line x1="449.10" y1="126.70" x2="449.90" y2="126.70" stroke="#4caf50" stroke-width="0.4"/>
<rect x="447.80" y="130.10" width="1.30" height="2.20" fill="#aac6ea" stroke="#4a80c4" stroke-width="0.35"/>
<line x1="449.10" y1="131.20" x2="449.90" y2="131.20" stroke="#4a80c4" stroke-width="0.4"/>
<rect x="447.80" y="134.10" width="1.30" height="2.20" fill="#f6b4b4" stroke="#e04545" stroke-width="0.35"/>
<line x1="449.10" y1="135.20" x2="449.90" y2="135.20" stroke="#e04545" stroke-width="0.4"/>
<rect x="447.80" y="141.97" width="1.30" height="2.20" fill="#acdcac" stroke="#4caf50" stroke-width="0.35"/>
<line x1="449.10" y1="143.07" x2="449.90" y2="143.07" stroke="#4caf50" stroke-width="0.4"/>
<rect x="447.80" y="146.47" width="1.30" height="2.20" fill="#aac6ea" stroke="#4a80c4" stroke-width="0.35"/>
<line x1="449.10" y1="147.57" x2="449.90" y2="147.57" stroke="#4a80c4" stroke-width="0.4"/>
<rect x="447.80" y="150.47" width="1.30" height="2.20" fill="#f6b4b4" stroke="#e04545" stroke-width="0.35"/>
<line x1="449.10" y1="151.57" x2="449.90" y2="151.57" stroke="#e04545" stroke-width="0.4"/>
<rect x="447.80" y="158.34" width="1.30" height="2.20" fill="#acdcac" stroke="#4caf50" stroke-width="0.35"/>
<line x1="449.10" y1="159.44" x2="449.90" y2="159.44" stroke="#4caf50" stroke-width="0.4"/>
<rect x="447.80" y="162.84" width="1.30" height="2.20" fill="#aac6ea" stroke="#4a80c4" stroke-width="0.35"/>
<line x1="449.10" y1="163.94" x2="449.90" y2="163.94" stroke="#4a80c4" stroke-width="0.4"/>
<rect x="447.80" y="166.84" width="1.30" height="2.20" fill="#f6b4b4" stroke="#e04545" stroke-width="0.35"/>
<line x1="449.10" y1="167.94" x2="449.90" y2="167.94" stroke="#e04545" stroke-width="0.4"/>
<rect x="447.80" y="174.71" width="1.30" height="2.20" fill="#acdcac" stroke="#4caf50" stroke-width="0.35"/>
<line x1="449.10" y1="175.81" x2="449.90" y2="175.81" stroke="#4caf50" stroke-width="0.4"/>
<rect x="447.80" y="179.21" width="1.30" height="2.20" fill="#aac6ea" stroke="#4a80c4" stroke-width="0.35"/>
<line x1="449.10" y1="180.31" x2="449.90" y2="180.31" stroke="#4a80c4" stroke-width="0.4"/>
<rect x="447.80" y="183.21" width="1.30" height="2.20" fill="#f6b4b4" stroke="#e04545" stroke-width="0.35"/>
<line x1="449.10" y1="184.31" x2="449.90" y2="184.31" stroke="#e04545" stroke-width="0.4"/>
<rect x="447.80" y="191.08" width="1.30" height="2.20" fill="#acdcac" stroke="#4caf50" stroke-width="0.35"/>
<line x1="449.10" y1="192.18" x2="449.90" y2="192.18" stroke="#4caf50" stroke-width="0.4"/>
<rect x="447.80" y="195.58" width="1.30" height="2.20" fill="#aac6ea" stroke="#4a80c4" stroke-width="0.35"/>
<line x1="449.10" y1="196.68" x2="449.90" y2="196.68" stroke="#4a80c4" stroke-width="0.4"/>
<rect x="447.80" y="199.58" width="1.30" height="2.20" fill="#f6b4b4" stroke="#e04545" stroke-width="0.35"/>
<line x1="449.10" y1="200.68" x2="449.90" y2="200.68" stroke="#e04545" stroke-width="0.4"/>
<rect x="447.80" y="207.45" width="1.30" height="2.20" fill="#acdcac" stroke="#4caf50" stroke-width="0.35"/>
<line x1="449.10" y1="208.55" x2="449.90" y2="208.55" stroke="#4caf50" stroke-width="0.4"/>
<rect x="447.80" y="211.95" width="1.30" height="2.20" fill="#aac6ea" stroke="#4a80c4" stroke-width="0.35"/>
<line x1="449.10" y1="213.05" x2="449.90" y2="213.05" stroke="#4a80c4" stroke-width="0.4"/>
<rect x="447.80" y="215.95" width="1.30" height="2.20" fill="#f6b4b4" stroke="#e04545" stroke-width="0.35"/>
<line x1="449.10" y1="217.05" x2="449.90" y2="217.05" stroke="#e04545" stroke-width="0.4"/>
<rect x="447.80" y="223.82" width="1.30" height="2.20" fill="#acdcac" stroke="#4caf50" stroke-width="0.35"/>
<line x1="449.10" y1="224.92" x2="449.90" y2="224.92" stroke="#4caf50" stroke-width="0.4"/>
<rect x="447.80" y="228.32" width="1.30" height="2.20" fill="#aac6ea" stroke="#4a80c4" stroke-width="0.35"/>
<line x1="449.10" y1="229.42" x2="449.90" y2="229.42" stroke="#4a80c4" stroke-width="0.4"/>
<rect x="447.80" y="232.32" width="1.30" height="2.20" fill="#f6b4b4" stroke="#e04545" stroke-width="0.35"/>
<line x1="449.10" y1="233.42" x2="449.90" y2="233.42" stroke="#e04545" stroke-width="0.4"/>
<rect x="447.80" y="240.19" width="1.30" height="2.20" fill="#acdcac" stroke="#4caf50" stroke-width="0.35"/>
<line x1="449.10" y1="241.29" x2="449.90" y2="241.29" stroke="#4caf50" stroke-width="0.4"/>
<rect x="447.80" y="244.69" width="1.30" height="2.20" fill="#aac6ea" stroke="#4a80c4" stroke-width="0.35"/>
<line x1="449.10" y1="245.79" x2="449.90" y2="245.79" stroke="#4a80c4" stroke-width="0.4"/>
<rect x="447.80" y="248.69" width="1.30" height="2.20" fill="#f6b4b4" stroke="#e04545" stroke-width="0.35"/>
<line x1="449.10" y1="249.79" x2="449.90" y2="249.79" stroke="#e04545" stroke-width="0.4"/>
<rect x="447.80" y="256.56" width="1.30" height="2.20" fill="#acdcac" stroke="#4caf50" stroke-width="0.35"/>
<line x1="449.10" y1="257.66" x2="449.90" y2="257.66" stroke="#4caf50" stroke-width="0.4"/>
<rect x="447.80" y="261.06" width="1.30" height="2.20" fill="#aac6ea" stroke="#4a80c4" stroke-width="0.35"/>
<line x1="449.10" y1="262.16" x2="449.90" y2="262.16" stroke="#4a80c4" stroke-width="0.4"/>
<rect x="447.80" y="265.06" width="1.30" height="2.20" fill="#f6b4b4" stroke="#e04545" stroke-width="0.35"/>
<line x1="449.10" y1="266.16" x2="449.90" y2="266.16" stroke="#e04545" stroke-width="0.4"/>
<line x1="449.70" y1="275.20" x2="455.92" y2="275.20" stroke="#4caf50" stroke-width="0.6"/>
<rect x="449.70" y="274.10" width="1.18" height="2.20" fill="#acdcac" stroke="#4caf50" stroke-width="0.45"/>
<line x1="450.37" y1="274.10" x2="450.37" y2="276.30" stroke="#4caf50" stroke-width="0.5"/>
<line x1="449.70" y1="279.00" x2="455.58" y2="279.00" stroke="#4a80c4" stroke-width="0.6"/>
<rect x="449.70" y="277.90" width="1.68" height="2.20" fill="#aac6ea" stroke="#4a80c4" stroke-width="0.45"/>
<line x1="450.20" y1="277.90" x2="450.20" y2="280.10" stroke="#4a80c4" stroke-width="0.5"/>
<line x1="449.70" y1="282.40" x2="451.04" y2="282.40" stroke="#e04545" stroke-width="0.6"/>
<rect x="449.70" y="281.30" width="0.67" height="2.20" fill="#f6b4b4" stroke="#e04545" stroke-width="0.45"/>
<line x1="450.04" y1="281.30" x2="450.04" y2="283.50" stroke="#e04545" stroke-width="0.5"/>
<line x1="449.70" y1="291.50" x2="455.92" y2="291.50" stroke="#4caf50" stroke-width="0.6"/>
<rect x="449.70" y="290.40" width="1.18" height="2.20" fill="#acdcac" stroke="#4caf50" stroke-width="0.45"/>
<line x1="450.37" y1="290.40" x2="450.37" y2="292.60" stroke="#4caf50" stroke-width="0.5"/>
<line x1="449.70" y1="295.20" x2="455.92" y2="295.20" stroke="#4a80c4" stroke-width="0.6"/>
<rect x="449.70" y="294.10" width="1.68" height="2.20" fill="#aac6ea" stroke="#4a80c4" stroke-width="0.45"/>
<line x1="450.20" y1="294.10" x2="450.20" y2="296.30" stroke="#4a80c4" stroke-width="0.5"/>
<line x1="449.70" y1="299.00" x2="451.04" y2="299.00" stroke="#e04545" stroke-width="0.6"/>
<rect x="449.70" y="297.90" width="0.67" height="2.20" fill="#f6b4b4" stroke="#e04545" stroke-width="0.45"/>
<line x1="450.04" y1="297.90" x2="450.04" y2="300.10" stroke="#e04545" stroke-width="0.5"/>
<line x1="451.55" y1="307.20" x2="459.78" y2="307.20" stroke="#4caf50" stroke-width="0.6"/>
<rect x="452.72" y="305.90" width="4.20" height="2.60" fill="#acdcac" stroke="#4caf50" stroke-width="0.45"/>
<line x1="454.24" y1="305.90" x2="454.24" y2="308.50" stroke="#4caf50" stroke-width="0.5"/>
<line x1="449.70" y1="311.50" x2="460.79" y2="311.50" stroke="#4a80c4" stroke-width="0.6"/>
<rect x="451.38" y="310.20" width="4.37" height="2.60" fill="#aac6ea" stroke="#4a80c4" stroke-width="0.45"/>
<line x1="452.72" y1="310.20" x2="452.72" y2="312.80" stroke="#4a80c4" stroke-width="0.5"/>
<line x1="449.70" y1="315.30" x2="459.44" y2="315.30" stroke="#e04545" stroke-width="0.6"/>
<rect x="450.20" y="314.00" width="3.86" height="2.60" fill="#f6b4b4" stroke="#e04545" stroke-width="0.45"/>
<line x1="451.72" y1="314.00" x2="451.72" y2="316.60" stroke="#e04545" stroke-width="0.5"/>
<line x1="465.49" y1="324.20" x2="510.85" y2="324.20" stroke="#4caf50" stroke-width="0.6"/>
<rect x="478.43" y="322.70" width="9.74" height="3.00" fill="#acdcac" stroke="#4caf50" stroke-width="0.45"/>
<line x1="483.30" y1="322.70" x2="483.30" y2="325.70" stroke="#4caf50" stroke-width="0.5"/>
<line x1="451.04" y1="328.20" x2="510.01" y2="328.20" stroke="#4a80c4" stroke-width="0.6"/>
<rect x="463.98" y="326.70" width="25.37" height="3.00" fill="#aac6ea" stroke="#4a80c4" stroke-width="0.45"/>
<line x1="481.62" y1="326.70" x2="481.62" y2="329.70" stroke="#4a80c4" stroke-width="0.5"/>
<line x1="451.04" y1="331.80" x2="511.52" y2="331.80" stroke="#e04545" stroke-width="0.6"/>
<rect x="452.39" y="330.30" width="35.78" height="3.00" fill="#f6b4b4" stroke="#e04545" stroke-width="0.45"/>
<line x1="471.71" y1="330.30" x2="471.71" y2="333.30" stroke="#e04545" stroke-width="0.5"/>
<text x="449.70" y="348.00" font-size="4.8" fill="#444" text-anchor="middle" font-weight="normal">0.0</text>
<text x="466.50" y="348.00" font-size="4.8" fill="#444" text-anchor="middle" font-weight="normal">0.1</text>
<text x="483.30" y="348.00" font-size="4.8" fill="#444" text-anchor="middle" font-weight="normal">0.2</text>
<text x="500.10" y="348.00" font-size="4.8" fill="#444" text-anchor="middle" font-weight="normal">0.3</text>
<text x="478.00" y="359.30" font-size="7.5" fill="#222" text-anchor="middle" font-weight="normal">Log10</text>
<text x="478.50" y="368.50" font-size="7.5" fill="#222" text-anchor="middle" font-weight="normal">(Copies of MGEs per cell+1)</text>
<rect x="521.90" y="130.80" width="2.10" height="4.20" fill="#dcdcdc" stroke="none" stroke-width="0"/>
<circle cx="525.30" cy="131.40" r="0.75" fill="#4a80c4" stroke="none" stroke-width="0"/>
<circle cx="525.30" cy="133.30" r="0.75" fill="#4a80c4" stroke="none" stroke-width="0"/>
<circle cx="525.30" cy="135.20" r="0.75" fill="#4a80c4" stroke="none" stroke-width="0"/>
<line x1="527.30" y1="127.40" x2="527.30" y2="135.00" stroke="#3a3a3a" stroke-width="0.7"/>
<circle cx="530.00" cy="128.60" r="0.80" fill="#4caf50" stroke="none" stroke-width="0"/>
<circle cx="530.00" cy="131.60" r="0.80" fill="#4caf50" stroke="none" stroke-width="0"/>
<rect x="521.90" y="147.17" width="2.10" height="4.20" fill="#dcdcdc" stroke="none" stroke-width="0"/>
<circle cx="525.30" cy="147.77" r="0.75" fill="#4a80c4" stroke="none" stroke-width="0"/>
<circle cx="525.30" cy="149.67" r="0.75" fill="#4a80c4" stroke="none" stroke-width="0"/>
<circle cx="525.30" cy="151.57" r="0.75" fill="#4a80c4" stroke="none" stroke-width="0"/>
<line x1="527.30" y1="143.77" x2="527.30" y2="151.37" stroke="#3a3a3a" stroke-width="0.7"/>
<circle cx="530.00" cy="144.97" r="0.80" fill="#4caf50" stroke="none" stroke-width="0"/>
<circle cx="530.00" cy="147.97" r="0.80" fill="#4caf50" stroke="none" stroke-width="0"/>
<circle cx="530.00" cy="150.97" r="0.80" fill="#4caf50" stroke="none" stroke-width="0"/>
<line x1="532.60" y1="143.77" x2="532.60" y2="147.57" stroke="#3a3a3a" stroke-width="0.6"/>
<circle cx="534.50" cy="145.97" r="0.80" fill="#4caf50" stroke="none" stroke-width="0"/>
<rect x="521.90" y="163.54" width="2.10" height="4.20" fill="#dcdcdc" stroke="none" stroke-width="0"/>
<circle cx="530.00" cy="161.34" r="0.80" fill="#4caf50" stroke="none" stroke-width="0"/>
<circle cx="530.00" cy="164.34" r="0.80" fill="#4caf50" stroke="none" stroke-width="0"/>
<rect x="521.90" y="179.91" width="2.10" height="4.20" fill="#dcdcdc" stroke="none" stroke-width="0"/>
<circle cx="530.00" cy="177.71" r="0.80" fill="#4caf50" stroke="none" stroke-width="0"/>
<circle cx="530.00" cy="180.71" r="0.80" fill="#4caf50" stroke="none" stroke-width="0"/>
<rect x="521.90" y="196.28" width="2.10" height="4.20" fill="#dcdcdc" stroke="none" stroke-width="0"/>
<circle cx="525.30" cy="196.88" r="0.75" fill="#4a80c4" stroke="none" stroke-width="0"/>
<circle cx="525.30" cy="198.78" r="0.75" fill="#4a80c4" stroke="none" stroke-width="0"/>
<circle cx="525.30" cy="200.68" r="0.75" fill="#4a80c4" stroke="none" stroke-width="0"/>
<line x1="527.30" y1="192.88" x2="527.30" y2="200.48" stroke="#3a3a3a" stroke-width="0.7"/>
<circle cx="530.00" cy="194.08" r="0.80" fill="#4caf50" stroke="none" stroke-width="0"/>
<circle cx="530.00" cy="197.08" r="0.80" fill="#4caf50" stroke="none" stroke-width="0"/>
<circle cx="530.00" cy="200.08" r="0.80" fill="#4caf50" stroke="none" stroke-width="0"/>
<line x1="532.60" y1="192.88" x2="532.60" y2="196.68" stroke="#3a3a3a" stroke-width="0.6"/>
<circle cx="534.50" cy="195.08" r="0.80" fill="#4caf50" stroke="none" stroke-width="0"/>
<rect x="521.90" y="212.65" width="2.10" height="4.20" fill="#dcdcdc" stroke="none" stroke-width="0"/>
<circle cx="525.30" cy="213.25" r="0.75" fill="#4a80c4" stroke="none" stroke-width="0"/>
<circle cx="525.30" cy="215.15" r="0.75" fill="#4a80c4" stroke="none" stroke-width="0"/>
<line x1="527.30" y1="209.25" x2="527.30" y2="216.85" stroke="#3a3a3a" stroke-width="0.7"/>
<circle cx="530.00" cy="210.45" r="0.80" fill="#4caf50" stroke="none" stroke-width="0"/>
<circle cx="530.00" cy="213.45" r="0.80" fill="#4caf50" stroke="none" stroke-width="0"/>
<circle cx="530.00" cy="216.45" r="0.80" fill="#4caf50" stroke="none" stroke-width="0"/>
<line x1="532.60" y1="209.25" x2="532.60" y2="213.05" stroke="#3a3a3a" stroke-width="0.6"/>
<circle cx="534.50" cy="211.45" r="0.80" fill="#4caf50" stroke="none" stroke-width="0"/>
<rect x="521.90" y="229.02" width="2.10" height="4.20" fill="#dcdcdc" stroke="none" stroke-width="0"/>
<circle cx="525.30" cy="229.62" r="0.75" fill="#4a80c4" stroke="none" stroke-width="0"/>
<circle cx="525.30" cy="231.52" r="0.75" fill="#4a80c4" stroke="none" stroke-width="0"/>
<line x1="527.30" y1="225.62" x2="527.30" y2="233.22" stroke="#3a3a3a" stroke-width="0.7"/>
<circle cx="530.00" cy="226.82" r="0.80" fill="#4caf50" stroke="none" stroke-width="0"/>
<circle cx="530.00" cy="229.82" r="0.80" fill="#4caf50" stroke="none" stroke-width="0"/>
<circle cx="530.00" cy="232.82" r="0.80" fill="#4caf50" stroke="none" stroke-width="0"/>
<line x1="532.60" y1="225.62" x2="532.60" y2="229.42" stroke="#3a3a3a" stroke-width="0.6"/>
<circle cx="534.50" cy="227.82" r="0.80" fill="#4caf50" stroke="none" stroke-width="0"/>
<rect x="521.90" y="261.76" width="2.10" height="4.20" fill="#dcdcdc" stroke="none" stroke-width="0"/>
<circle cx="530.00" cy="259.56" r="0.80" fill="#4caf50" stroke="none" stroke-width="0"/>
<circle cx="530.00" cy="262.56" r="0.80" fill="#4caf50" stroke="none" stroke-width="0"/>
<circle cx="525.30" cy="278.73" r="0.75" fill="#4a80c4" stroke="none" stroke-width="0"/>
<circle cx="525.30" cy="280.63" r="0.75" fill="#4a80c4" stroke="none" stroke-width="0"/>
<line x1="527.30" y1="274.73" x2="527.30" y2="282.33" stroke="#3a3a3a" stroke-width="0.7"/>
<circle cx="530.00" cy="275.93" r="0.80" fill="#4caf50" stroke="none" stroke-width="0"/>
<circle cx="530.00" cy="278.93" r="0.80" fill="#4caf50" stroke="none" stroke-width="0"/>
<circle cx="530.00" cy="281.93" r="0.80" fill="#4caf50" stroke="none" stroke-width="0"/>
<circle cx="525.30" cy="295.10" r="0.75" fill="#4a80c4" stroke="none" stroke-width="0"/>
<circle cx="525.30" cy="297.00" r="0.75" fill="#4a80c4" stroke="none" stroke-width="0"/>
<line x1="527.30" y1="291.10" x2="527.30" y2="298.70" stroke="#3a3a3a" stroke-width="0.7"/>
<circle cx="530.00" cy="292.30" r="0.80" fill="#4caf50" stroke="none" stroke-width="0"/>
<circle cx="530.00" cy="295.30" r="0.80" fill="#4caf50" stroke="none" stroke-width="0"/>
<circle cx="530.00" cy="298.30" r="0.80" fill="#4caf50" stroke="none" stroke-width="0"/>
<circle cx="525.30" cy="311.47" r="0.75" fill="#4a80c4" stroke="none" stroke-width="0"/>
<circle cx="525.30" cy="313.37" r="0.75" fill="#4a80c4" stroke="none" stroke-width="0"/>
<line x1="527.30" y1="307.47" x2="527.30" y2="315.07" stroke="#3a3a3a" stroke-width="0.7"/>
<circle cx="530.00" cy="308.67" r="0.80" fill="#4caf50" stroke="none" stroke-width="0"/>
<circle cx="530.00" cy="311.67" r="0.80" fill="#4caf50" stroke="none" stroke-width="0"/>
<line x1="527.30" y1="323.84" x2="527.30" y2="331.44" stroke="#3a3a3a" stroke-width="0.7"/>
<circle cx="530.00" cy="325.04" r="0.80" fill="#4caf50" stroke="none" stroke-width="0"/>
<circle cx="530.00" cy="328.04" r="0.80" fill="#4caf50" stroke="none" stroke-width="0"/>
<rect x="542.60" y="314.20" width="9.00" height="6.40" fill="none" stroke="#e04545" stroke-width="0.45"/>
<line x1="545.60" y1="314.20" x2="545.60" y2="320.60" stroke="#e04545" stroke-width="0.4"/>
<line x1="548.60" y1="314.20" x2="548.60" y2="320.60" stroke="#e04545" stroke-width="0.4"/>
<line x1="542.60" y1="317.40" x2="551.60" y2="317.40" stroke="#e04545" stroke-width="0.4"/>
<text x="553.20" y="319.20" font-size="5.0" fill="#333" text-anchor="start" font-weight="normal">D1</text>
<rect x="542.60" y="324.10" width="9.00" height="6.40" fill="none" stroke="#4a80c4" stroke-width="0.45"/>
<line x1="545.60" y1="324.10" x2="545.60" y2="330.50" stroke="#4a80c4" stroke-width="0.4"/>
<line x1="548.60" y1="324.10" x2="548.60" y2="330.50" stroke="#4a80c4" stroke-width="0.4"/>
<line x1="542.60" y1="327.30" x2="551.60" y2="327.30" stroke="#4a80c4" stroke-width="0.4"/>
<text x="553.20" y="329.10" font-size="5.0" fill="#333" text-anchor="start" font-weight="normal">D3</text>
<rect x="542.60" y="334.00" width="9.00" height="6.40" fill="none" stroke="#4caf50" stroke-width="0.45"/>
<line x1="545.60" y1="334.00" x2="545.60" y2="340.40" stroke="#4caf50" stroke-width="0.4"/>
<line x1="548.60" y1="334.00" x2="548.60" y2="340.40" stroke="#4caf50" stroke-width="0.4"/>
<line x1="542.60" y1="337.20" x2="551.60" y2="337.20" stroke="#4caf50" stroke-width="0.4"/>
<text x="553.20" y="339.00" font-size="5.0" fill="#333" text-anchor="start" font-weight="normal">D6</text>
<rect x="589.50" y="119.60" width="94.70" height="101.80" fill="none" stroke="#6a6a6a" stroke-width="0.9"/>
<text x="587.80" y="125.40" font-size="5.0" fill="#555" text-anchor="end" font-weight="normal">0.24</text>
<text x="587.80" y="149.55" font-size="5.0" fill="#555" text-anchor="end" font-weight="normal">0.20</text>
<text x="587.80" y="173.70" font-size="5.0" fill="#555" text-anchor="end" font-weight="normal">0.16</text>
<text x="587.80" y="197.85" font-size="5.0" fill="#555" text-anchor="end" font-weight="normal">0.12</text>
<text x="587.80" y="222.00" font-size="5.0" fill="#555" text-anchor="end" font-weight="normal">0.08</text>
<text x="591.00" y="228.30" font-size="5.0" fill="#555" text-anchor="middle" font-weight="normal">0</text>
<text x="612.42" y="228.30" font-size="5.0" fill="#555" text-anchor="middle" font-weight="normal">0.4</text>
<text x="633.85" y="228.30" font-size="5.0" fill="#555" text-anchor="middle" font-weight="normal">0.8</text>
<text x="655.27" y="228.30" font-size="5.0" fill="#555" text-anchor="middle" font-weight="normal">1.2</text>
<text x="676.70" y="228.30" font-size="5.0" fill="#555" text-anchor="middle" font-weight="normal">1.6</text>
<text x="636.60" y="237.30" font-size="7.6" fill="#222" text-anchor="middle" font-weight="normal">Copies of MGEs per cell</text>
<text x="572.80" y="167.80" font-size="7.7" fill="#222" text-anchor="middle" font-weight="normal" transform="rotate(-90 572.8 167.8)">Copies of ARGs per cell</text>
<path d="M590.70,192.80 C620.70,176.30 646.40,158.80 676.40,141.30 L676.40,152.30 C646.40,167.80 620.70,181.90 590.70,199.00 Z" fill="#98b8e8" stroke="none" stroke-width="0" opacity="0.85"/>
<line x1="590.70" y1="195.60" x2="676.40" y2="146.80" stroke="#2c6cc4" stroke-width="0.9"/>
<circle cx="639.42" cy="122.92" r="0.85" fill="#5a5a5a" stroke="#1e1e1e" stroke-width="0.45"/>
<circle cx="629.03" cy="142.07" r="0.85" fill="#5a5a5a" stroke="#1e1e1e" stroke-width="0.45"/>
<circle cx="644.07" cy="146.17" r="0.85" fill="#5a5a5a" stroke="#1e1e1e" stroke-width="0.45"/>
<circle cx="645.99" cy="146.17" r="0.85" fill="#5a5a5a" stroke="#1e1e1e" stroke-width="0.45"/>
<circle cx="631.76" cy="147.54" r="0.85" fill="#5a5a5a" stroke="#1e1e1e" stroke-width="0.45"/>
<circle cx="635.87" cy="148.63" r="0.85" fill="#5a5a5a" stroke="#1e1e1e" stroke-width="0.45"/>
<circle cx="623.56" cy="153.01" r="0.85" fill="#5a5a5a" stroke="#1e1e1e" stroke-width="0.45"/>
<circle cx="625.75" cy="153.56" r="0.85" fill="#5a5a5a" stroke="#1e1e1e" stroke-width="0.45"/>
<circle cx="651.46" cy="153.56" r="0.85" fill="#5a5a5a" stroke="#1e1e1e" stroke-width="0.45"/>
<circle cx="659.12" cy="152.19" r="0.85" fill="#5a5a5a" stroke="#1e1e1e" stroke-width="0.45"/>
<circle cx="668.69" cy="148.91" r="0.85" fill="#5a5a5a" stroke="#1e1e1e" stroke-width="0.45"/>
<circle cx="678.26" cy="146.72" r="0.85" fill="#5a5a5a" stroke="#1e1e1e" stroke-width="0.45"/>
<circle cx="604.96" cy="159.03" r="0.85" fill="#5a5a5a" stroke="#1e1e1e" stroke-width="0.45"/>
<circle cx="609.33" cy="159.58" r="0.85" fill="#5a5a5a" stroke="#1e1e1e" stroke-width="0.45"/>
<circle cx="616.72" cy="159.58" r="0.85" fill="#5a5a5a" stroke="#1e1e1e" stroke-width="0.45"/>
<circle cx="631.76" cy="156.29" r="0.85" fill="#5a5a5a" stroke="#1e1e1e" stroke-width="0.45"/>
<circle cx="637.23" cy="157.66" r="0.85" fill="#5a5a5a" stroke="#1e1e1e" stroke-width="0.45"/>
<circle cx="630.40" cy="160.40" r="0.85" fill="#5a5a5a" stroke="#1e1e1e" stroke-width="0.45"/>
<circle cx="635.05" cy="161.76" r="0.85" fill="#5a5a5a" stroke="#1e1e1e" stroke-width="0.45"/>
<circle cx="642.70" cy="161.22" r="0.85" fill="#5a5a5a" stroke="#1e1e1e" stroke-width="0.45"/>
<circle cx="646.81" cy="159.03" r="0.85" fill="#5a5a5a" stroke="#1e1e1e" stroke-width="0.45"/>
<circle cx="653.65" cy="161.76" r="0.85" fill="#5a5a5a" stroke="#1e1e1e" stroke-width="0.45"/>
<circle cx="661.30" cy="161.22" r="0.85" fill="#5a5a5a" stroke="#1e1e1e" stroke-width="0.45"/>
<circle cx="620.28" cy="163.13" r="0.85" fill="#5a5a5a" stroke="#1e1e1e" stroke-width="0.45"/>
<circle cx="626.29" cy="163.95" r="0.85" fill="#5a5a5a" stroke="#1e1e1e" stroke-width="0.45"/>
<circle cx="638.60" cy="164.50" r="0.85" fill="#5a5a5a" stroke="#1e1e1e" stroke-width="0.45"/>
<circle cx="645.44" cy="164.50" r="0.85" fill="#5a5a5a" stroke="#1e1e1e" stroke-width="0.45"/>
<circle cx="650.91" cy="165.87" r="0.85" fill="#5a5a5a" stroke="#1e1e1e" stroke-width="0.45"/>
<circle cx="656.38" cy="164.50" r="0.85" fill="#5a5a5a" stroke="#1e1e1e" stroke-width="0.45"/>
<circle cx="615.35" cy="168.60" r="0.85" fill="#5a5a5a" stroke="#1e1e1e" stroke-width="0.45"/>
<circle cx="622.19" cy="168.60" r="0.85" fill="#5a5a5a" stroke="#1e1e1e" stroke-width="0.45"/>
<circle cx="629.03" cy="168.60" r="0.85" fill="#5a5a5a" stroke="#1e1e1e" stroke-width="0.45"/>
<circle cx="634.50" cy="169.42" r="0.85" fill="#5a5a5a" stroke="#1e1e1e" stroke-width="0.45"/>
<circle cx="641.34" cy="168.60" r="0.85" fill="#5a5a5a" stroke="#1e1e1e" stroke-width="0.45"/>
<circle cx="648.18" cy="168.60" r="0.85" fill="#5a5a5a" stroke="#1e1e1e" stroke-width="0.45"/>
<circle cx="653.65" cy="169.97" r="0.85" fill="#5a5a5a" stroke="#1e1e1e" stroke-width="0.45"/>
<circle cx="618.09" cy="172.70" r="0.85" fill="#5a5a5a" stroke="#1e1e1e" stroke-width="0.45"/>
<circle cx="623.56" cy="174.07" r="0.85" fill="#5a5a5a" stroke="#1e1e1e" stroke-width="0.45"/>
<circle cx="630.40" cy="172.70" r="0.85" fill="#5a5a5a" stroke="#1e1e1e" stroke-width="0.45"/>
<circle cx="636.69" cy="172.70" r="0.85" fill="#5a5a5a" stroke="#1e1e1e" stroke-width="0.45"/>
<circle cx="642.70" cy="172.70" r="0.85" fill="#5a5a5a" stroke="#1e1e1e" stroke-width="0.45"/>
<circle cx="676.89" cy="156.29" r="0.85" fill="#5a5a5a" stroke="#1e1e1e" stroke-width="0.45"/>
<circle cx="681.00" cy="167.78" r="0.85" fill="#5a5a5a" stroke="#1e1e1e" stroke-width="0.45"/>
<circle cx="674.16" cy="161.76" r="0.85" fill="#5a5a5a" stroke="#1e1e1e" stroke-width="0.45"/>
<circle cx="616.72" cy="175.44" r="0.85" fill="#5a5a5a" stroke="#1e1e1e" stroke-width="0.45"/>
<circle cx="620.82" cy="176.81" r="0.85" fill="#5a5a5a" stroke="#1e1e1e" stroke-width="0.45"/>
<circle cx="626.29" cy="176.81" r="0.85" fill="#5a5a5a" stroke="#1e1e1e" stroke-width="0.45"/>
<circle cx="633.13" cy="176.81" r="0.85" fill="#5a5a5a" stroke="#1e1e1e" stroke-width="0.45"/>
<circle cx="638.60" cy="176.81" r="0.85" fill="#5a5a5a" stroke="#1e1e1e" stroke-width="0.45"/>
<circle cx="629.03" cy="180.91" r="0.85" fill="#5a5a5a" stroke="#1e1e1e" stroke-width="0.45"/>
<circle cx="635.87" cy="180.91" r="0.85" fill="#5a5a5a" stroke="#1e1e1e" stroke-width="0.45"/>
<circle cx="620.82" cy="180.91" r="0.85" fill="#5a5a5a" stroke="#1e1e1e" stroke-width="0.45"/>
<circle cx="609.88" cy="182.28" r="0.85" fill="#5a5a5a" stroke="#1e1e1e" stroke-width="0.45"/>
<circle cx="601.13" cy="183.65" r="0.85" fill="#5a5a5a" stroke="#1e1e1e" stroke-width="0.45"/>
<circle cx="613.98" cy="183.65" r="0.85" fill="#5a5a5a" stroke="#1e1e1e" stroke-width="0.45"/>
<circle cx="622.19" cy="185.01" r="0.85" fill="#5a5a5a" stroke="#1e1e1e" stroke-width="0.45"/>
<circle cx="631.76" cy="185.01" r="0.85" fill="#5a5a5a" stroke="#1e1e1e" stroke-width="0.45"/>
<circle cx="637.23" cy="186.38" r="0.85" fill="#5a5a5a" stroke="#1e1e1e" stroke-width="0.45"/>
<circle cx="603.04" cy="187.75" r="0.85" fill="#5a5a5a" stroke="#1e1e1e" stroke-width="0.45"/>
<circle cx="608.51" cy="189.66" r="0.85" fill="#5a5a5a" stroke="#1e1e1e" stroke-width="0.45"/>
<circle cx="615.35" cy="190.48" r="0.85" fill="#5a5a5a" stroke="#1e1e1e" stroke-width="0.45"/>
<circle cx="623.56" cy="188.57" r="0.85" fill="#5a5a5a" stroke="#1e1e1e" stroke-width="0.45"/>
<circle cx="659.12" cy="172.70" r="0.85" fill="#5a5a5a" stroke="#1e1e1e" stroke-width="0.45"/>
<circle cx="668.69" cy="183.10" r="0.85" fill="#5a5a5a" stroke="#1e1e1e" stroke-width="0.45"/>
<circle cx="605.78" cy="191.85" r="0.85" fill="#5a5a5a" stroke="#1e1e1e" stroke-width="0.45"/>
<circle cx="611.25" cy="191.85" r="0.85" fill="#5a5a5a" stroke="#1e1e1e" stroke-width="0.45"/>
<circle cx="616.72" cy="193.22" r="0.85" fill="#5a5a5a" stroke="#1e1e1e" stroke-width="0.45"/>
<circle cx="622.19" cy="189.66" r="0.85" fill="#5a5a5a" stroke="#1e1e1e" stroke-width="0.45"/>
<circle cx="634.50" cy="189.12" r="0.85" fill="#5a5a5a" stroke="#1e1e1e" stroke-width="0.45"/>
<circle cx="633.13" cy="197.87" r="0.85" fill="#5a5a5a" stroke="#1e1e1e" stroke-width="0.45"/>
<circle cx="616.72" cy="194.59" r="0.85" fill="#5a5a5a" stroke="#1e1e1e" stroke-width="0.45"/>
<circle cx="604.41" cy="195.13" r="0.85" fill="#5a5a5a" stroke="#1e1e1e" stroke-width="0.45"/>
<circle cx="605.78" cy="200.06" r="0.85" fill="#5a5a5a" stroke="#1e1e1e" stroke-width="0.45"/>
<circle cx="607.15" cy="204.16" r="0.85" fill="#5a5a5a" stroke="#1e1e1e" stroke-width="0.45"/>
<circle cx="592.10" cy="190.48" r="0.85" fill="#5a5a5a" stroke="#1e1e1e" stroke-width="0.45"/>
<circle cx="592.92" cy="193.22" r="0.85" fill="#5a5a5a" stroke="#1e1e1e" stroke-width="0.45"/>
<circle cx="594.02" cy="195.95" r="0.85" fill="#5a5a5a" stroke="#1e1e1e" stroke-width="0.45"/>
<circle cx="592.10" cy="197.32" r="0.85" fill="#5a5a5a" stroke="#1e1e1e" stroke-width="0.45"/>
<circle cx="594.84" cy="198.69" r="0.85" fill="#5a5a5a" stroke="#1e1e1e" stroke-width="0.45"/>
<circle cx="592.92" cy="200.06" r="0.85" fill="#5a5a5a" stroke="#1e1e1e" stroke-width="0.45"/>
<circle cx="596.21" cy="201.42" r="0.85" fill="#5a5a5a" stroke="#1e1e1e" stroke-width="0.45"/>
<circle cx="593.47" cy="202.79" r="0.85" fill="#5a5a5a" stroke="#1e1e1e" stroke-width="0.45"/>
<circle cx="592.10" cy="205.53" r="0.85" fill="#5a5a5a" stroke="#1e1e1e" stroke-width="0.45"/>
<circle cx="594.84" cy="206.07" r="0.85" fill="#5a5a5a" stroke="#1e1e1e" stroke-width="0.45"/>
<circle cx="597.57" cy="204.98" r="0.85" fill="#5a5a5a" stroke="#1e1e1e" stroke-width="0.45"/>
<circle cx="591.28" cy="208.26" r="0.85" fill="#5a5a5a" stroke="#1e1e1e" stroke-width="0.45"/>
<circle cx="593.47" cy="209.63" r="0.85" fill="#5a5a5a" stroke="#1e1e1e" stroke-width="0.45"/>
<circle cx="595.66" cy="200.06" r="0.85" fill="#5a5a5a" stroke="#1e1e1e" stroke-width="0.45"/>
<circle cx="598.94" cy="202.79" r="0.85" fill="#5a5a5a" stroke="#1e1e1e" stroke-width="0.45"/>
<circle cx="600.31" cy="197.32" r="0.85" fill="#5a5a5a" stroke="#1e1e1e" stroke-width="0.45"/>
<circle cx="597.57" cy="194.59" r="0.85" fill="#5a5a5a" stroke="#1e1e1e" stroke-width="0.45"/>
<circle cx="593.47" cy="187.75" r="0.85" fill="#5a5a5a" stroke="#1e1e1e" stroke-width="0.45"/>
<circle cx="595.66" cy="191.30" r="0.85" fill="#5a5a5a" stroke="#1e1e1e" stroke-width="0.45"/>
<circle cx="598.39" cy="191.85" r="0.85" fill="#5a5a5a" stroke="#1e1e1e" stroke-width="0.45"/>
<circle cx="624.93" cy="169.97" r="0.85" fill="#5a5a5a" stroke="#1e1e1e" stroke-width="0.45"/>
<circle cx="627.66" cy="172.70" r="0.85" fill="#5a5a5a" stroke="#1e1e1e" stroke-width="0.45"/>
<circle cx="631.76" cy="174.07" r="0.85" fill="#5a5a5a" stroke="#1e1e1e" stroke-width="0.45"/>
<circle cx="639.97" cy="171.34" r="0.85" fill="#5a5a5a" stroke="#1e1e1e" stroke-width="0.45"/>
<circle cx="644.07" cy="175.99" r="0.85" fill="#5a5a5a" stroke="#1e1e1e" stroke-width="0.45"/>
<circle cx="619.46" cy="178.72" r="0.85" fill="#5a5a5a" stroke="#1e1e1e" stroke-width="0.45"/>
<circle cx="626.84" cy="182.28" r="0.85" fill="#5a5a5a" stroke="#1e1e1e" stroke-width="0.45"/>
<circle cx="612.62" cy="187.75" r="0.85" fill="#5a5a5a" stroke="#1e1e1e" stroke-width="0.45"/>
<circle cx="649.54" cy="163.13" r="0.85" fill="#5a5a5a" stroke="#1e1e1e" stroke-width="0.45"/>
<circle cx="655.01" cy="166.69" r="0.85" fill="#5a5a5a" stroke="#1e1e1e" stroke-width="0.45"/>
<circle cx="639.97" cy="180.91" r="0.85" fill="#5a5a5a" stroke="#1e1e1e" stroke-width="0.45"/>
<circle cx="642.70" cy="185.01" r="0.85" fill="#5a5a5a" stroke="#1e1e1e" stroke-width="0.45"/>
<circle cx="629.03" cy="189.12" r="0.85" fill="#5a5a5a" stroke="#1e1e1e" stroke-width="0.45"/>
<circle cx="624.93" cy="191.85" r="0.85" fill="#5a5a5a" stroke="#1e1e1e" stroke-width="0.45"/>
<circle cx="618.09" cy="183.65" r="0.85" fill="#5a5a5a" stroke="#1e1e1e" stroke-width="0.45"/>
<circle cx="611.25" cy="186.38" r="0.85" fill="#5a5a5a" stroke="#1e1e1e" stroke-width="0.45"/>
<circle cx="604.41" cy="189.66" r="0.85" fill="#5a5a5a" stroke="#1e1e1e" stroke-width="0.45"/>
<circle cx="596.21" cy="188.57" r="0.85" fill="#5a5a5a" stroke="#1e1e1e" stroke-width="0.45"/>
<circle cx="599.49" cy="193.22" r="0.85" fill="#5a5a5a" stroke="#1e1e1e" stroke-width="0.45"/>
<circle cx="594.56" cy="204.16" r="0.85" fill="#5a5a5a" stroke="#1e1e1e" stroke-width="0.45"/>
<circle cx="596.75" cy="197.32" r="0.85" fill="#5a5a5a" stroke="#1e1e1e" stroke-width="0.45"/>
<circle cx="591.28" cy="200.06" r="0.85" fill="#5a5a5a" stroke="#1e1e1e" stroke-width="0.45"/>
<circle cx="592.65" cy="195.13" r="0.85" fill="#5a5a5a" stroke="#1e1e1e" stroke-width="0.45"/>
<circle cx="590.46" cy="202.79" r="0.85" fill="#5a5a5a" stroke="#1e1e1e" stroke-width="0.45"/>
<circle cx="661.85" cy="167.23" r="0.85" fill="#5a5a5a" stroke="#1e1e1e" stroke-width="0.45"/>
<circle cx="664.59" cy="163.13" r="0.85" fill="#5a5a5a" stroke="#1e1e1e" stroke-width="0.45"/>
<circle cx="648.72" cy="172.70" r="0.85" fill="#5a5a5a" stroke="#1e1e1e" stroke-width="0.45"/>
<circle cx="635.87" cy="165.87" r="0.85" fill="#5a5a5a" stroke="#1e1e1e" stroke-width="0.45"/>
<text x="682.00" y="207.70" font-size="7.3" fill="#222" text-anchor="end" font-weight="normal">R<tspan font-size="4.2" dy="-2.7">2</tspan><tspan dy="2.7"> = 0.532</tspan></text>
<text x="682.40" y="216.30" font-size="7.3" fill="#222" text-anchor="end" font-weight="normal"><tspan font-style="italic">P</tspan> &lt; 0.0001</text>
<rect x="589.50" y="245.50" width="94.70" height="101.90" fill="none" stroke="#6a6a6a" stroke-width="0.9"/>
<text x="587.80" y="262.80" font-size="5.0" fill="#555" text-anchor="end" font-weight="normal">4.5</text>
<text x="587.80" y="287.70" font-size="5.0" fill="#555" text-anchor="end" font-weight="normal">4.5</text>
<text x="587.80" y="313.40" font-size="5.0" fill="#555" text-anchor="end" font-weight="normal">3.5</text>
<text x="587.80" y="339.00" font-size="5.0" fill="#555" text-anchor="end" font-weight="normal">2.5</text>
<text x="591.00" y="354.80" font-size="5.0" fill="#555" text-anchor="middle" font-weight="normal">0</text>
<text x="612.42" y="354.80" font-size="5.0" fill="#555" text-anchor="middle" font-weight="normal">0.4</text>
<text x="633.85" y="354.80" font-size="5.0" fill="#555" text-anchor="middle" font-weight="normal">0.8</text>
<text x="655.27" y="354.80" font-size="5.0" fill="#555" text-anchor="middle" font-weight="normal">1.2</text>
<text x="676.70" y="354.80" font-size="5.0" fill="#555" text-anchor="middle" font-weight="normal">1.6</text>
<text x="636.60" y="363.20" font-size="7.6" fill="#222" text-anchor="middle" font-weight="normal">Copies of MGEs per cell</text>
<text x="572.80" y="297.00" font-size="7.6" fill="#222" text-anchor="middle" font-weight="normal" transform="rotate(-90 572.8 297.0)">Copies of VFGs per cell</text>
<path d="M590.70,326.90 L676.40,315.20 L676.40,321.30 L590.70,330.30 Z" fill="#98b8e8" stroke="none" stroke-width="0" opacity="0.85"/>
<line x1="590.70" y1="328.50" x2="676.40" y2="318.20" stroke="#2c6cc4" stroke-width="0.9"/>
<circle cx="633.79" cy="309.54" r="0.95" fill="#e4823c" stroke="none" stroke-width="0"/>
<circle cx="675.00" cy="312.59" r="0.95" fill="#e4823c" stroke="none" stroke-width="0"/>
<circle cx="675.76" cy="329.38" r="0.95" fill="#e4823c" stroke="none" stroke-width="0"/>
<circle cx="672.71" cy="325.10" r="0.95" fill="#e4823c" stroke="none" stroke-width="0"/>
<circle cx="663.55" cy="327.85" r="0.95" fill="#e4823c" stroke="none" stroke-width="0"/>
<circle cx="664.01" cy="318.24" r="0.95" fill="#e4823c" stroke="none" stroke-width="0"/>
<circle cx="654.85" cy="315.64" r="0.95" fill="#e4823c" stroke="none" stroke-width="0"/>
<circle cx="658.21" cy="323.58" r="0.95" fill="#e4823c" stroke="none" stroke-width="0"/>
<circle cx="654.39" cy="322.05" r="0.95" fill="#e4823c" stroke="none" stroke-width="0"/>
<circle cx="655.16" cy="321.29" r="0.95" fill="#e4823c" stroke="none" stroke-width="0"/>
<circle cx="651.34" cy="319.00" r="0.95" fill="#e4823c" stroke="none" stroke-width="0"/>
<circle cx="649.05" cy="322.81" r="0.95" fill="#e4823c" stroke="none" stroke-width="0"/>
<circle cx="646.00" cy="321.29" r="0.95" fill="#e4823c" stroke="none" stroke-width="0"/>
<circle cx="644.47" cy="317.47" r="0.95" fill="#e4823c" stroke="none" stroke-width="0"/>
<circle cx="642.95" cy="316.25" r="0.95" fill="#e4823c" stroke="none" stroke-width="0"/>
<circle cx="641.42" cy="319.76" r="0.95" fill="#e4823c" stroke="none" stroke-width="0"/>
<circle cx="639.89" cy="320.53" r="0.95" fill="#e4823c" stroke="none" stroke-width="0"/>
<circle cx="640.66" cy="321.29" r="0.95" fill="#e4823c" stroke="none" stroke-width="0"/>
<circle cx="638.37" cy="327.85" r="0.95" fill="#e4823c" stroke="none" stroke-width="0"/>
<circle cx="636.84" cy="324.34" r="0.95" fill="#e4823c" stroke="none" stroke-width="0"/>
<circle cx="635.31" cy="319.00" r="0.95" fill="#e4823c" stroke="none" stroke-width="0"/>
<circle cx="633.79" cy="325.10" r="0.95" fill="#e4823c" stroke="none" stroke-width="0"/>
<circle cx="633.02" cy="326.63" r="0.95" fill="#e4823c" stroke="none" stroke-width="0"/>
<circle cx="631.50" cy="317.47" r="0.95" fill="#e4823c" stroke="none" stroke-width="0"/>
<circle cx="630.74" cy="319.76" r="0.95" fill="#e4823c" stroke="none" stroke-width="0"/>
<circle cx="629.21" cy="319.00" r="0.95" fill="#e4823c" stroke="none" stroke-width="0"/>
<circle cx="628.45" cy="322.05" r="0.95" fill="#e4823c" stroke="none" stroke-width="0"/>
<circle cx="626.92" cy="322.81" r="0.95" fill="#e4823c" stroke="none" stroke-width="0"/>
<circle cx="625.39" cy="318.24" r="0.95" fill="#e4823c" stroke="none" stroke-width="0"/>
<circle cx="624.63" cy="324.34" r="0.95" fill="#e4823c" stroke="none" stroke-width="0"/>
<circle cx="622.34" cy="322.81" r="0.95" fill="#e4823c" stroke="none" stroke-width="0"/>
<circle cx="621.58" cy="316.71" r="0.95" fill="#e4823c" stroke="none" stroke-width="0"/>
<circle cx="620.81" cy="315.95" r="0.95" fill="#e4823c" stroke="none" stroke-width="0"/>
<circle cx="620.05" cy="317.47" r="0.95" fill="#e4823c" stroke="none" stroke-width="0"/>
<circle cx="619.29" cy="320.53" r="0.95" fill="#e4823c" stroke="none" stroke-width="0"/>
<circle cx="618.53" cy="322.81" r="0.95" fill="#e4823c" stroke="none" stroke-width="0"/>
<circle cx="617.76" cy="326.63" r="0.95" fill="#e4823c" stroke="none" stroke-width="0"/>
<circle cx="616.24" cy="323.58" r="0.95" fill="#e4823c" stroke="none" stroke-width="0"/>
<circle cx="615.47" cy="316.71" r="0.95" fill="#e4823c" stroke="none" stroke-width="0"/>
<circle cx="614.71" cy="322.05" r="0.95" fill="#e4823c" stroke="none" stroke-width="0"/>
<circle cx="613.95" cy="321.29" r="0.95" fill="#e4823c" stroke="none" stroke-width="0"/>
<circle cx="613.18" cy="322.81" r="0.95" fill="#e4823c" stroke="none" stroke-width="0"/>
<circle cx="612.42" cy="329.68" r="0.95" fill="#e4823c" stroke="none" stroke-width="0"/>
<circle cx="611.66" cy="328.16" r="0.95" fill="#e4823c" stroke="none" stroke-width="0"/>
<circle cx="609.37" cy="328.92" r="0.95" fill="#e4823c" stroke="none" stroke-width="0"/>
<circle cx="607.08" cy="324.34" r="0.95" fill="#e4823c" stroke="none" stroke-width="0"/>
<circle cx="606.32" cy="328.16" r="0.95" fill="#e4823c" stroke="none" stroke-width="0"/>
<circle cx="604.79" cy="322.05" r="0.95" fill="#e4823c" stroke="none" stroke-width="0"/>
<circle cx="604.48" cy="338.53" r="0.95" fill="#e4823c" stroke="none" stroke-width="0"/>
<circle cx="602.50" cy="331.21" r="0.95" fill="#e4823c" stroke="none" stroke-width="0"/>
<circle cx="601.74" cy="329.99" r="0.95" fill="#e4823c" stroke="none" stroke-width="0"/>
<circle cx="600.97" cy="323.58" r="0.95" fill="#e4823c" stroke="none" stroke-width="0"/>
<circle cx="598.68" cy="322.05" r="0.95" fill="#e4823c" stroke="none" stroke-width="0"/>
<circle cx="598.38" cy="331.97" r="0.95" fill="#e4823c" stroke="none" stroke-width="0"/>
<circle cx="597.92" cy="330.45" r="0.95" fill="#e4823c" stroke="none" stroke-width="0"/>
<circle cx="594.87" cy="325.87" r="0.95" fill="#e4823c" stroke="none" stroke-width="0"/>
<circle cx="594.41" cy="337.62" r="0.95" fill="#e4823c" stroke="none" stroke-width="0"/>
<circle cx="593.34" cy="325.10" r="0.95" fill="#e4823c" stroke="none" stroke-width="0"/>
<circle cx="607.84" cy="334.26" r="0.95" fill="#e4823c" stroke="none" stroke-width="0"/>
<circle cx="604.03" cy="333.96" r="0.95" fill="#e4823c" stroke="none" stroke-width="0"/>
<circle cx="614.71" cy="331.97" r="0.95" fill="#e4823c" stroke="none" stroke-width="0"/>
<circle cx="620.05" cy="330.45" r="0.95" fill="#e4823c" stroke="none" stroke-width="0"/>
<circle cx="629.21" cy="331.21" r="0.95" fill="#e4823c" stroke="none" stroke-width="0"/>
<circle cx="630.74" cy="330.90" r="0.95" fill="#e4823c" stroke="none" stroke-width="0"/>
<circle cx="633.02" cy="329.68" r="0.95" fill="#e4823c" stroke="none" stroke-width="0"/>
<circle cx="633.79" cy="330.90" r="0.95" fill="#e4823c" stroke="none" stroke-width="0"/>
<circle cx="632.26" cy="331.97" r="0.95" fill="#e4823c" stroke="none" stroke-width="0"/>
<circle cx="624.63" cy="326.63" r="0.95" fill="#e4823c" stroke="none" stroke-width="0"/>
<circle cx="627.68" cy="327.39" r="0.95" fill="#e4823c" stroke="none" stroke-width="0"/>
<circle cx="638.37" cy="327.39" r="0.95" fill="#e4823c" stroke="none" stroke-width="0"/>
<circle cx="639.13" cy="328.16" r="0.95" fill="#e4823c" stroke="none" stroke-width="0"/>
<circle cx="590.29" cy="327.39" r="0.95" fill="#e4823c" stroke="none" stroke-width="0"/>
<circle cx="591.05" cy="328.92" r="0.95" fill="#e4823c" stroke="none" stroke-width="0"/>
<circle cx="589.83" cy="330.45" r="0.95" fill="#e4823c" stroke="none" stroke-width="0"/>
<circle cx="591.82" cy="331.21" r="0.95" fill="#e4823c" stroke="none" stroke-width="0"/>
<circle cx="590.75" cy="332.74" r="0.95" fill="#e4823c" stroke="none" stroke-width="0"/>
<circle cx="592.58" cy="333.50" r="0.95" fill="#e4823c" stroke="none" stroke-width="0"/>
<circle cx="590.29" cy="334.26" r="0.95" fill="#e4823c" stroke="none" stroke-width="0"/>
<circle cx="591.36" cy="335.48" r="0.95" fill="#e4823c" stroke="none" stroke-width="0"/>
<circle cx="589.53" cy="336.55" r="0.95" fill="#e4823c" stroke="none" stroke-width="0"/>
<circle cx="592.27" cy="335.02" r="0.95" fill="#e4823c" stroke="none" stroke-width="0"/>
<circle cx="593.34" cy="333.96" r="0.95" fill="#e4823c" stroke="none" stroke-width="0"/>
<circle cx="589.83" cy="337.62" r="0.95" fill="#e4823c" stroke="none" stroke-width="0"/>
<circle cx="591.05" cy="338.84" r="0.95" fill="#e4823c" stroke="none" stroke-width="0"/>
<circle cx="590.75" cy="341.13" r="0.95" fill="#e4823c" stroke="none" stroke-width="0"/>
<circle cx="591.82" cy="329.68" r="0.95" fill="#e4823c" stroke="none" stroke-width="0"/>
<circle cx="592.58" cy="328.16" r="0.95" fill="#e4823c" stroke="none" stroke-width="0"/>
<circle cx="623.10" cy="320.53" r="0.95" fill="#e4823c" stroke="none" stroke-width="0"/>
<circle cx="626.16" cy="321.29" r="0.95" fill="#e4823c" stroke="none" stroke-width="0"/>
<circle cx="629.97" cy="323.58" r="0.95" fill="#e4823c" stroke="none" stroke-width="0"/>
<circle cx="632.26" cy="322.05" r="0.95" fill="#e4823c" stroke="none" stroke-width="0"/>
<circle cx="636.08" cy="322.81" r="0.95" fill="#e4823c" stroke="none" stroke-width="0"/>
<circle cx="642.18" cy="322.05" r="0.95" fill="#e4823c" stroke="none" stroke-width="0"/>
<circle cx="643.71" cy="320.53" r="0.95" fill="#e4823c" stroke="none" stroke-width="0"/>
<circle cx="647.52" cy="322.05" r="0.95" fill="#e4823c" stroke="none" stroke-width="0"/>
<circle cx="652.10" cy="321.29" r="0.95" fill="#e4823c" stroke="none" stroke-width="0"/>
<circle cx="655.92" cy="322.81" r="0.95" fill="#e4823c" stroke="none" stroke-width="0"/>
<circle cx="612.42" cy="322.05" r="0.95" fill="#e4823c" stroke="none" stroke-width="0"/>
<circle cx="610.89" cy="321.29" r="0.95" fill="#e4823c" stroke="none" stroke-width="0"/>
<circle cx="614.71" cy="319.76" r="0.95" fill="#e4823c" stroke="none" stroke-width="0"/>
<circle cx="617.76" cy="321.29" r="0.95" fill="#e4823c" stroke="none" stroke-width="0"/>
<circle cx="620.81" cy="319.76" r="0.95" fill="#e4823c" stroke="none" stroke-width="0"/>
<circle cx="623.87" cy="319.00" r="0.95" fill="#e4823c" stroke="none" stroke-width="0"/>
<circle cx="627.68" cy="325.10" r="0.95" fill="#e4823c" stroke="none" stroke-width="0"/>
<circle cx="631.50" cy="325.10" r="0.95" fill="#e4823c" stroke="none" stroke-width="0"/>
<circle cx="634.55" cy="327.39" r="0.95" fill="#e4823c" stroke="none" stroke-width="0"/>
<circle cx="636.84" cy="328.16" r="0.95" fill="#e4823c" stroke="none" stroke-width="0"/>
<circle cx="618.53" cy="325.10" r="0.95" fill="#e4823c" stroke="none" stroke-width="0"/>
<circle cx="617.00" cy="328.16" r="0.95" fill="#e4823c" stroke="none" stroke-width="0"/>
<circle cx="609.37" cy="324.34" r="0.95" fill="#e4823c" stroke="none" stroke-width="0"/>
<circle cx="606.32" cy="325.87" r="0.95" fill="#e4823c" stroke="none" stroke-width="0"/>
<circle cx="603.26" cy="326.63" r="0.95" fill="#e4823c" stroke="none" stroke-width="0"/>
<circle cx="600.21" cy="328.16" r="0.95" fill="#e4823c" stroke="none" stroke-width="0"/>
<circle cx="597.16" cy="326.63" r="0.95" fill="#e4823c" stroke="none" stroke-width="0"/>
<circle cx="595.63" cy="328.92" r="0.95" fill="#e4823c" stroke="none" stroke-width="0"/>
<circle cx="594.11" cy="330.45" r="0.95" fill="#e4823c" stroke="none" stroke-width="0"/>
<circle cx="596.39" cy="332.74" r="0.95" fill="#e4823c" stroke="none" stroke-width="0"/>
<circle cx="629.97" cy="328.16" r="0.95" fill="#e4823c" stroke="none" stroke-width="0"/>
<circle cx="622.34" cy="328.16" r="0.95" fill="#e4823c" stroke="none" stroke-width="0"/>
<circle cx="626.16" cy="329.68" r="0.95" fill="#e4823c" stroke="none" stroke-width="0"/>
<circle cx="616.24" cy="329.99" r="0.95" fill="#e4823c" stroke="none" stroke-width="0"/>
<circle cx="635.31" cy="320.53" r="0.95" fill="#e4823c" stroke="none" stroke-width="0"/>
<circle cx="613.95" cy="325.41" r="0.95" fill="#e4823c" stroke="none" stroke-width="0"/>
<circle cx="637.60" cy="319.76" r="0.95" fill="#e4823c" stroke="none" stroke-width="0"/>
<circle cx="639.89" cy="322.81" r="0.95" fill="#e4823c" stroke="none" stroke-width="0"/>
<circle cx="619.29" cy="316.71" r="0.95" fill="#e4823c" stroke="none" stroke-width="0"/>
<circle cx="620.81" cy="322.05" r="0.95" fill="#e4823c" stroke="none" stroke-width="0"/>
<circle cx="621.88" cy="318.24" r="0.95" fill="#e4823c" stroke="none" stroke-width="0"/>
<circle cx="621.29" cy="326.46" r="0.95" fill="#e4823c" stroke="none" stroke-width="0"/>
<circle cx="604.09" cy="325.58" r="0.95" fill="#e4823c" stroke="none" stroke-width="0"/>
<circle cx="661.12" cy="318.01" r="0.95" fill="#e4823c" stroke="none" stroke-width="0"/>
<circle cx="591.98" cy="329.88" r="0.95" fill="#e4823c" stroke="none" stroke-width="0"/>
<circle cx="612.83" cy="322.95" r="0.95" fill="#e4823c" stroke="none" stroke-width="0"/>
<circle cx="627.90" cy="329.39" r="0.95" fill="#e4823c" stroke="none" stroke-width="0"/>
<circle cx="663.34" cy="315.07" r="0.95" fill="#e4823c" stroke="none" stroke-width="0"/>
<circle cx="659.76" cy="316.79" r="0.95" fill="#e4823c" stroke="none" stroke-width="0"/>
<circle cx="647.09" cy="322.57" r="0.95" fill="#e4823c" stroke="none" stroke-width="0"/>
<circle cx="644.12" cy="321.32" r="0.95" fill="#e4823c" stroke="none" stroke-width="0"/>
<circle cx="635.83" cy="322.63" r="0.95" fill="#e4823c" stroke="none" stroke-width="0"/>
<circle cx="651.52" cy="319.80" r="0.95" fill="#e4823c" stroke="none" stroke-width="0"/>
<circle cx="656.73" cy="320.32" r="0.95" fill="#e4823c" stroke="none" stroke-width="0"/>
<circle cx="614.94" cy="327.62" r="0.95" fill="#e4823c" stroke="none" stroke-width="0"/>
<circle cx="617.16" cy="317.99" r="0.95" fill="#e4823c" stroke="none" stroke-width="0"/>
<circle cx="629.30" cy="322.12" r="0.95" fill="#e4823c" stroke="none" stroke-width="0"/>
<circle cx="639.40" cy="321.17" r="0.95" fill="#e4823c" stroke="none" stroke-width="0"/>
<circle cx="600.53" cy="325.43" r="0.95" fill="#e4823c" stroke="none" stroke-width="0"/>
<circle cx="624.56" cy="322.39" r="0.95" fill="#e4823c" stroke="none" stroke-width="0"/>
<circle cx="618.38" cy="329.22" r="0.95" fill="#e4823c" stroke="none" stroke-width="0"/>
<circle cx="606.45" cy="330.67" r="0.95" fill="#e4823c" stroke="none" stroke-width="0"/>
<circle cx="650.09" cy="318.29" r="0.95" fill="#e4823c" stroke="none" stroke-width="0"/>
<circle cx="607.50" cy="326.88" r="0.95" fill="#e4823c" stroke="none" stroke-width="0"/>
<circle cx="629.79" cy="325.22" r="0.95" fill="#e4823c" stroke="none" stroke-width="0"/>
<circle cx="639.97" cy="320.94" r="0.95" fill="#e4823c" stroke="none" stroke-width="0"/>
<circle cx="670.32" cy="323.17" r="0.95" fill="#e4823c" stroke="none" stroke-width="0"/>
<circle cx="636.07" cy="328.06" r="0.95" fill="#e4823c" stroke="none" stroke-width="0"/>
<circle cx="630.71" cy="323.95" r="0.95" fill="#e4823c" stroke="none" stroke-width="0"/>
<circle cx="594.94" cy="326.10" r="0.95" fill="#e4823c" stroke="none" stroke-width="0"/>
<circle cx="594.53" cy="329.62" r="0.95" fill="#e4823c" stroke="none" stroke-width="0"/>
<circle cx="645.49" cy="321.63" r="0.95" fill="#e4823c" stroke="none" stroke-width="0"/>
<circle cx="642.55" cy="320.82" r="0.95" fill="#e4823c" stroke="none" stroke-width="0"/>
<circle cx="613.11" cy="329.75" r="0.95" fill="#e4823c" stroke="none" stroke-width="0"/>
<circle cx="609.54" cy="327.58" r="0.95" fill="#e4823c" stroke="none" stroke-width="0"/>
<circle cx="594.69" cy="330.40" r="0.95" fill="#e4823c" stroke="none" stroke-width="0"/>
<circle cx="634.09" cy="326.33" r="0.95" fill="#e4823c" stroke="none" stroke-width="0"/>
<circle cx="643.68" cy="325.18" r="0.95" fill="#e4823c" stroke="none" stroke-width="0"/>
<circle cx="608.48" cy="323.00" r="0.95" fill="#e4823c" stroke="none" stroke-width="0"/>
<circle cx="613.25" cy="325.39" r="0.95" fill="#e4823c" stroke="none" stroke-width="0"/>
<circle cx="607.19" cy="325.16" r="0.95" fill="#e4823c" stroke="none" stroke-width="0"/>
<circle cx="610.66" cy="321.53" r="0.95" fill="#e4823c" stroke="none" stroke-width="0"/>
<circle cx="657.72" cy="317.28" r="0.95" fill="#e4823c" stroke="none" stroke-width="0"/>
<circle cx="594.44" cy="323.91" r="0.95" fill="#e4823c" stroke="none" stroke-width="0"/>
<circle cx="625.82" cy="325.66" r="0.95" fill="#e4823c" stroke="none" stroke-width="0"/>
<circle cx="604.23" cy="321.53" r="0.95" fill="#e4823c" stroke="none" stroke-width="0"/>
<circle cx="602.00" cy="259.30" r="0.85" fill="#e4823c" stroke="none" stroke-width="0"/>
<text x="682.00" y="268.00" font-size="7.3" fill="#222" text-anchor="end" font-weight="normal">R<tspan font-size="4.2" dy="-2.7">2</tspan><tspan dy="2.7"> = 0.118</tspan></text>
<text x="682.40" y="276.60" font-size="7.3" fill="#222" text-anchor="end" font-weight="normal"><tspan font-style="italic">P</tspan> &lt; 0.0001</text>
</svg>
</body></html>
